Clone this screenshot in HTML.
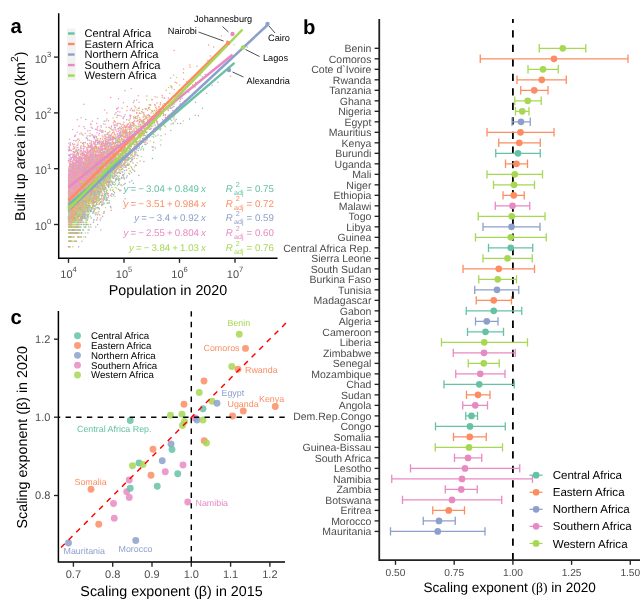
<!DOCTYPE html>
<html lang="en"><head><meta charset="utf-8"><title>Urban scaling in Africa</title>
<style>html,body{margin:0;padding:0;background:#fff}svg{display:block}text{font-family:"Liberation Sans", Arial, Helvetica, sans-serif;text-rendering:geometricPrecision}.tk{fill:#4d4d4d;font-size:11px}.tb{fill:#4d4d4d;font-size:10.5px}.tx{fill:#4d4d4d;font-size:10.2px}.ti{fill:#000;font-size:14.3px}.pl{font-weight:bold;font-size:20.3px;fill:#000}.lg{fill:#000;font-size:11.1px}.an{font-size:9.2px}.ac{font-size:8.9px}.eq{font-size:9.7px}</style></head><body>
<svg width="642" height="600" viewBox="0 0 642 600">
<rect width="642" height="600" fill="#fff"/>
<g id="panel-a">
<g fill="none" stroke-width="15" stroke-linecap="round" opacity="0.85" transform="scale(0.1)">
<path stroke="#66C2A5" d="M768 2004h0M718 2089h0M961 1757h0M905 1788h0M779 1855h0M790 1832h0M817 1892h0M769 1850h0M823 2103h0M1054 1935h0M814 1757h0M753 1828h0M808 1995h0M766 1987h0M1216 1673h0M722 2033h0M834 1915h0M809 1819h0M844 1773h0M1156 1841h0M750 2077h0M757 2131h0M835 1948h0M790 2054h0M696 2089h0M737 1578h0M894 1886h0M720 2033h0M738 2023h0M800 1921h0M1456 1322h0M713 1836h0M1168 1675h0M728 1909h0M831 1875h0M1715 1202h0M709 1832h0M705 1941h0M722 1886h0M789 1948h0M711 2054h0M808 1855h0M1248 1600h0M845 1738h0M1558 1359h0M821 1971h0M742 1963h0M812 2065h0M1296 1444h0M691 1928h0M692 1956h0M797 2077h0M1292 1355h0M1139 1735h0M1076 1623h0M692 1995h0M813 2077h0M1006 1713h0M799 1836h0M1042 1614h0M1091 1788h0M1006 1569h0M1073 1770h0M1102 1845h0M1008 1629h0M708 2131h0M810 2077h0M729 2089h0M698 1845h0M1060 1594h0M1032 1788h0M1164 1784h0M689 2103h0M699 1963h0M946 1855h0M1239 1645h0M797 1773h0M757 1987h0M704 2103h0M750 2054h0M844 1948h0M832 1903h0M1523 1194h0M1140 1770h0M719 1892h0M871 1757h0M772 2023h0M1120 1726h0M1069 1803h0M784 2089h0M800 2245h0M855 1963h0M750 2089h0M1316 1677h0M744 1850h0M739 1735h0M1087 1673h0M776 1935h0M863 1948h0M1057 1832h0M899 1724h0M986 1611h0M978 1788h0M899 2004h0M831 2077h0M807 1956h0M864 2147h0M1103 1780h0M1059 1738h0M974 1909h0M689 2163h0M790 1770h0M1591 1258h0M926 2054h0M761 1948h0M690 2089h0M735 2116h0M706 2147h0M1282 1511h0M691 2467h0M746 2043h0M812 1795h0M1214 1639h0M968 1651h0M853 2054h0M1008 1675h0M767 2004h0M1158 1572h0M781 2023h0M694 2181h0M983 1811h0M1044 1687h0M747 1836h0M765 2043h0M859 1971h0M1066 1662h0M711 2245h0M692 2103h0M904 1832h0M781 1845h0M704 2043h0M964 1780h0"/>
<path stroke="#8DA0CB" d="M835 1490h0M1283 1584h0M1352 1478h0M794 2077h0M1246 1578h0M890 1738h0M928 1971h0M688 2413h0M1052 1956h0M1260 1673h0M809 2065h0M730 2043h0M717 2013h0M1290 1440h0M882 1928h0M807 2201h0M1129 1763h0M1298 1324h0M727 1971h0M1081 1694h0M1106 1645h0M1029 1607h0M843 2033h0M788 2369h0M934 2043h0M936 1697h0M1100 1383h0M1222 1537h0M1319 1807h0M695 1870h0M1320 1225h0M788 1995h0M758 2023h0M907 1979h0M2179 823h0M1239 1845h0M858 2271h0M1204 1620h0M793 1841h0M1170 1609h0M777 2163h0M728 1963h0M774 1915h0M1381 1353h0M781 2023h0M762 2163h0M850 1760h0M1057 1653h0M730 1979h0M943 1979h0M836 2004h0M738 2201h0M836 1948h0M727 1784h0M799 2065h0M781 1987h0M698 2181h0M767 1948h0M970 1763h0M1284 1391h0M1189 1724h0M808 1845h0M793 2077h0M764 1987h0M784 1995h0M971 1892h0M980 1928h0M1199 1732h0M1038 1645h0M933 2033h0M898 1915h0M733 1870h0M1051 1941h0M889 1875h0M1205 1370h0M763 2043h0M834 1897h0M691 1915h0M1060 1971h0M961 1815h0M968 1921h0M691 2271h0M954 1713h0M905 1770h0M741 2089h0M905 1760h0M818 1841h0M1358 1520h0M858 1195h0M831 1841h0M783 1963h0M686 2054h0M703 2163h0M687 2181h0M796 2131h0M1186 1537h0M720 2054h0M1325 1392h0M730 2065h0M708 2163h0M912 2181h0M732 1807h0M966 1811h0M846 2181h0M710 2245h0M736 2181h0M827 2013h0M812 2013h0M806 2103h0M750 2054h0M1251 1987h0M785 1724h0M1148 1707h0M831 2131h0M799 1892h0M952 1928h0M842 1897h0M985 1886h0M777 2077h0M729 2013h0M784 2013h0M773 2077h0M940 1811h0M835 1963h0M1367 1497h0M721 1948h0M757 2181h0M735 2077h0M803 1629h0M919 1845h0M1129 1770h0M774 1987h0M741 1941h0M721 2004h0M927 2131h0M765 2147h0M758 2413h0M736 2163h0M1233 1457h0M1089 1788h0M752 2065h0M984 1915h0M743 1836h0M917 1832h0M774 1828h0M887 1875h0M737 2147h0M714 2033h0M807 2369h0M751 2089h0M860 1597h0M936 1582h0M792 2147h0M773 1860h0M934 2043h0M1340 1702h0M1381 1557h0M1020 1694h0M757 2013h0M1140 1738h0M798 2054h0M819 2013h0M699 1928h0M1109 1726h0M810 1971h0M747 1860h0M879 2054h0M1056 1448h0M757 2299h0M758 1897h0M887 1803h0M697 2013h0M879 1870h0M894 1795h0M749 2413h0M987 1928h0M731 1760h0M880 2054h0M757 2033h0M876 1713h0M853 2004h0M685 2163h0M870 1979h0M785 1941h0M1161 1616h0M709 2181h0M833 2065h0M857 1828h0M703 2147h0M1022 1692h0M705 2299h0M705 2147h0M1272 1760h0M778 2331h0M761 1865h0M727 1707h0M731 1819h0M862 1788h0M820 2013h0M860 2043h0M725 2131h0M1388 1754h0M747 2004h0M785 1948h0M862 1987h0M716 2116h0M863 1875h0M815 2033h0M1377 1556h0M852 1850h0M1088 2033h0M796 2043h0M747 2033h0M1260 1662h0M916 1677h0M882 1788h0M783 1860h0M1984 1157h0M1023 1417h0M903 2004h0M731 2163h0M779 1921h0M887 1870h0M752 1875h0M940 1870h0M737 2299h0M711 2131h0M1476 1199h0M771 2222h0M978 1979h0M722 1664h0M726 2065h0M873 1971h0M926 1897h0M758 1915h0M980 1979h0M1009 1773h0M818 1941h0M1136 1666h0"/>
<path stroke="#A6D854" d="M787 1956h0M1638 1085h0M1447 1218h0M841 2147h0M749 2222h0M715 2201h0M926 1987h0M741 2147h0M913 1915h0M874 1750h0M893 1903h0M716 2089h0M877 1915h0M1078 1705h0M894 1807h0M692 1921h0M738 2299h0M1060 1760h0M813 2163h0M719 2181h0M788 1963h0M885 2013h0M697 2222h0M1216 1497h0M1552 1275h0M1430 1261h0M840 1682h0M761 2245h0M853 1987h0M965 1956h0M730 1689h0M996 1732h0M741 2131h0M876 2077h0M835 2163h0M911 1897h0M909 1963h0M779 1956h0M877 1935h0M745 1870h0M1128 1777h0M939 1582h0M1409 1136h0M1088 1757h0M992 1750h0M701 1935h0M688 2299h0M726 1979h0M687 2033h0M916 1784h0M729 2103h0M1039 1697h0M853 2065h0M770 1941h0M745 2245h0M809 2181h0M782 1956h0M955 1881h0M705 2004h0M710 2116h0M1151 1622h0M751 1823h0M711 1823h0M994 1987h0M1320 1317h0M741 2054h0M917 1875h0M825 1855h0M695 1903h0M695 2103h0M703 2201h0M947 1807h0M1474 1344h0M1001 1586h0M819 1987h0M1120 1605h0M749 2033h0M800 1995h0M751 1995h0M1153 1715h0M708 2245h0M976 1875h0M881 1870h0M689 2004h0M808 1881h0M899 1784h0M808 1653h0M1023 1534h0M1032 1773h0M877 1935h0M864 1995h0M953 1718h0M1100 1584h0M1079 1763h0M975 1811h0M1034 1721h0M741 2004h0M928 1935h0M705 1881h0M853 2004h0M1092 1618h0M779 2023h0M750 1865h0M718 1928h0M1023 1747h0M814 2077h0M875 1828h0M1102 1579h0M692 1979h0M957 1819h0M779 2023h0M725 1754h0M789 2023h0M718 1921h0M744 1979h0M701 2181h0M782 2043h0M1008 1841h0M693 2331h0M1018 1773h0M1025 1815h0M725 2033h0M1541 1236h0M731 2131h0M761 2163h0M1151 1875h0M731 2043h0M883 1651h0M973 1860h0M698 1707h0M882 1963h0M812 2054h0M933 1773h0M876 1915h0M1002 1682h0M798 2033h0M1275 1357h0M760 2077h0M896 1860h0M753 1948h0M843 1823h0M1302 1338h0M1122 1641h0M925 1493h0M789 1860h0M741 2131h0M782 2089h0M1148 1431h0M940 1760h0M934 1803h0M839 2369h0M809 1875h0M694 2369h0M694 1979h0M710 2033h0M803 1807h0M798 2369h0M717 2089h0M1089 1618h0M748 1971h0M744 1971h0M818 1807h0M852 2131h0M1125 1649h0M711 2181h0M987 1855h0M698 1718h0M1106 1724h0M828 2131h0M895 1845h0M732 1956h0M1047 1995h0M733 2089h0M1064 1850h0M1318 1438h0M746 1971h0M882 1699h0M868 1788h0M1023 1828h0M935 1941h0M718 1979h0M849 1941h0M982 1780h0M919 1639h0M771 1971h0M763 2033h0M729 2369h0M868 1956h0M722 1963h0M946 1823h0M876 2201h0M782 1860h0M841 2077h0M1121 1579h0M880 1915h0M781 1935h0M1765 775h0M1025 1832h0M735 2116h0M1124 1411h0M961 1788h0M859 1841h0M794 2023h0M1021 1641h0M986 1788h0M1342 1239h0M829 1921h0M809 1987h0M796 1897h0M711 2103h0M838 1963h0M1030 1881h0M721 2299h0M771 1677h0M1390 1346h0M747 2033h0M1095 1622h0M687 2077h0M1020 1631h0M740 2163h0M1203 1554h0M897 1754h0M720 2222h0M756 2181h0M1173 1760h0M783 2103h0M942 1963h0M981 1886h0M870 1921h0M732 1875h0M1310 1664h0M704 2116h0M750 2054h0M853 1865h0M701 2023h0M838 1921h0M1376 1374h0M967 1707h0M724 1979h0M896 1928h0M808 2201h0M812 1850h0M851 1729h0M991 1732h0M830 2163h0M1139 1575h0M1053 1710h0M837 2077h0M982 1614h0M1502 1409h0M770 2103h0M947 1860h0M966 1732h0M925 1795h0M937 1517h0M692 2299h0M1286 1573h0M1268 1505h0M712 2023h0M719 2271h0M760 1987h0M724 2043h0M1466 999h0M1124 1903h0M1120 1692h0M704 2163h0M727 1928h0M963 1680h0M968 1823h0M742 1836h0M1106 1584h0M1057 1694h0M892 1815h0M853 1892h0M795 1979h0M748 1948h0M792 1892h0M868 1850h0M735 2181h0M739 2116h0M774 2147h0M949 1741h0M1390 1105h0M1066 1770h0M1218 1531h0M713 2369h0M697 2201h0M850 1738h0M933 1705h0M1130 1181h0M815 2043h0M1603 1301h0M1809 1058h0M724 2163h0M1610 1400h0M875 1815h0M1743 1168h0M934 2033h0M1048 1494h0M834 1875h0M818 1941h0M749 1811h0M947 1645h0M1303 1616h0M938 1909h0M969 1875h0M766 1886h0M933 2089h0M937 1921h0M819 1987h0M1165 1586h0M703 2271h0M764 1750h0M905 1995h0M809 1995h0M1036 1892h0M919 1694h0M881 2013h0M819 1795h0M936 1845h0M913 1995h0M744 2222h0M743 2033h0M742 2331h0M875 1832h0M704 1979h0M875 1897h0M915 1865h0M773 2103h0M1020 1589h0M708 2065h0M702 2103h0M959 1963h0M1428 1346h0M860 1995h0M739 2131h0M723 1995h0M738 1956h0M813 1956h0M1097 1546h0M754 2089h0M752 1987h0M868 1909h0M747 1903h0M994 2043h0M703 1845h0M823 1795h0M1018 1828h0M1032 1757h0M1686 876h0M702 1928h0M1049 1473h0M1066 1702h0M812 2116h0M799 1979h0M1346 1468h0M1033 1819h0M865 1909h0M888 1921h0M723 1941h0M952 1777h0M878 1875h0M1047 1576h0M725 1948h0M731 2023h0M706 2023h0M1093 1773h0M1486 1237h0M685 2089h0M855 2131h0M753 1788h0M725 2004h0M1553 1273h0M919 1622h0M969 1979h0M923 2043h0M787 1928h0M740 1995h0M870 1841h0M719 1979h0M1080 1699h0M772 1807h0M960 1987h0M986 1680h0M899 1995h0M723 2013h0M1193 1351h0M688 2023h0M1052 1803h0M1106 1732h0M724 1921h0M955 1738h0M888 1897h0M798 2116h0M1712 871h0M709 2089h0M708 2023h0M862 2054h0M1059 1673h0M956 1865h0M869 1909h0M973 1832h0M717 1941h0M844 1935h0M830 1870h0M859 1803h0M1092 1666h0M805 2181h0M741 2116h0M851 2181h0M1500 1092h0M800 1921h0M920 1819h0M1208 1655h0M863 1921h0M755 1956h0M802 2004h0M763 1928h0M1247 1732h0M687 2147h0M975 1773h0M733 2054h0M791 2013h0M916 1921h0M718 2245h0M1366 1414h0M790 2271h0M825 1935h0M1020 1941h0M839 1875h0M901 1795h0M1280 1649h0M1132 1575h0M833 1948h0M964 1850h0M731 2054h0M770 1995h0M822 1956h0M697 2131h0M685 2033h0M732 1892h0M751 1819h0M822 1921h0M698 1987h0M705 2147h0M959 1687h0M762 1718h0M1266 1397h0M1306 1342h0M800 1928h0M754 1875h0M722 1963h0M702 2089h0M803 2065h0M789 1791h0M751 2299h0M729 1795h0M894 1735h0M796 2023h0M973 1823h0M764 1903h0M798 2271h0M792 2065h0M926 1841h0M1054 1807h0M849 1987h0M755 2116h0M863 1855h0M719 1870h0M874 1773h0M875 1747h0M689 2331h0M717 2043h0M802 1850h0M854 2245h0M992 1493h0M709 2103h0M747 2147h0M762 2116h0M728 2103h0M702 2077h0M915 1928h0M699 2299h0M775 1995h0M830 1979h0M696 2077h0M996 1855h0M838 1828h0M720 2089h0M1918 778h0M926 1811h0M781 2131h0M698 2163h0M1075 1625h0M839 1941h0M748 1903h0M931 1823h0M1424 1421h0M799 1780h0M1020 1569h0M742 2054h0M755 2065h0M1144 1721h0M873 1760h0M1009 1721h0M892 1865h0M994 1855h0M783 1875h0M923 1855h0M1124 1581h0M692 2103h0M952 1836h0M758 1897h0M896 1754h0M690 2181h0M901 1673h0M1172 1597h0M880 1897h0M779 2077h0M858 2103h0M1105 1584h0M704 1860h0M724 1987h0M1197 1799h0M960 1657h0M700 2163h0M1209 1845h0M958 1763h0M1042 1811h0M878 1987h0M860 1579h0M1141 1780h0M704 2163h0M785 1921h0M966 1819h0M779 1971h0M699 1897h0M703 2163h0M904 1935h0M765 2054h0M812 1823h0M708 2065h0M877 1875h0M1299 1284h0M745 2201h0M733 2201h0M765 1892h0M1446 1406h0M747 1963h0M915 1865h0M1146 1523h0M697 1971h0M942 1738h0M718 2043h0M904 1832h0M947 1767h0M689 2299h0M764 2004h0M1034 1799h0M1088 1597h0M1009 1850h0M1006 1865h0M912 1897h0M1060 1705h0M1043 1773h0M986 2043h0M739 1941h0M702 2147h0M719 2116h0M801 1860h0M764 1928h0M786 1909h0M687 2033h0M843 1956h0M794 1971h0M872 1971h0M841 1815h0M708 2077h0M837 1892h0M775 2181h0M743 1995h0M1138 1589h0M765 2131h0M963 1845h0M859 1811h0M852 2054h0M706 1979h0M828 1892h0M747 2103h0M885 2163h0M795 1881h0M832 2004h0M729 2413h0M1264 1699h0M777 2163h0M937 1941h0M847 1702h0M881 2299h0M740 2116h0M1518 994h0M792 2023h0M901 1928h0M854 1860h0M1099 1760h0M929 1609h0M758 1870h0M785 1713h0M807 1971h0M1115 1495h0M860 2004h0M770 1995h0M744 2103h0M688 1915h0M762 2222h0"/>
<path stroke="#FC8D62" d="M823 1823h0M873 1726h0M1018 1468h0M889 1724h0M1628 1049h0M780 1995h0M718 2004h0M1018 1586h0M1384 1241h0M1055 1815h0M1031 1570h0M981 1507h0M939 1699h0M1034 1457h0M813 1915h0M699 1754h0M1197 1903h0M785 1807h0M898 1836h0M897 1747h0M722 1803h0M814 1928h0M934 1892h0M775 1811h0M708 2103h0M726 2043h0M710 1803h0M687 1948h0M746 2004h0M815 1828h0M743 1897h0M969 1713h0M870 2089h0M685 1956h0M1348 1466h0M1377 1435h0M1356 1649h0M1287 1389h0M1085 1207h0M766 1841h0M1021 1445h0M738 1987h0M837 1892h0M783 1881h0M696 1963h0M880 1892h0M1104 1477h0M1029 1832h0M852 1875h0M1160 1567h0M804 1903h0M831 1941h0M895 1915h0M948 1845h0M722 1881h0M932 1662h0M773 2201h0M783 2043h0M705 2077h0M779 2116h0M772 1845h0M886 1881h0M865 1956h0M1289 1202h0M692 1935h0M1199 1464h0M724 2103h0M894 1741h0M928 1485h0M838 1897h0M747 1979h0M991 1687h0M803 1655h0M732 1956h0M1258 1430h0M807 1979h0M1308 1558h0M836 1870h0M779 2004h0M728 1915h0M770 1915h0M780 1729h0M1024 1799h0M735 1948h0M810 1732h0M835 1732h0M885 1971h0M891 1767h0M1010 1539h0M911 1675h0M854 1928h0M729 1903h0M933 1757h0M937 1747h0M815 1780h0M768 1948h0M1406 1192h0M742 1823h0M839 1828h0M871 1705h0M1950 870h0M936 1677h0M1023 1643h0M784 1897h0M720 2116h0M809 2131h0M689 1963h0M937 1680h0M1130 1584h0M891 1865h0M1324 1530h0M939 1702h0M764 1726h0M709 1935h0M758 1995h0M787 1631h0M1676 1168h0M700 2077h0M1149 1455h0M809 2054h0M1113 1612h0M854 1705h0M961 1689h0M804 1721h0M821 1979h0M711 2013h0M999 1718h0M924 1767h0M1166 1614h0M750 1763h0M734 2065h0M864 1903h0M768 1963h0M916 1823h0M881 1915h0M715 2013h0M734 2089h0M695 2116h0M902 1586h0M855 1694h0M794 1841h0M943 1604h0M856 1702h0M1248 1620h0M928 1875h0M810 1928h0M752 1855h0M752 2065h0M784 1963h0M908 1832h0M732 1811h0M781 1909h0M812 1788h0M745 1780h0M896 1788h0M807 1718h0M710 1995h0M1382 1334h0M796 2054h0M835 1892h0M733 1956h0M888 1828h0M786 1987h0M691 1845h0M862 1870h0M825 1892h0M1396 1214h0M1519 1111h0M719 2089h0M763 1662h0M884 1468h0M712 1780h0M750 1909h0M861 1897h0M990 1715h0M692 1948h0M908 1750h0M699 2131h0M1558 1075h0M1002 1623h0M721 1987h0M846 1799h0M1321 1575h0M721 1865h0M779 1870h0M800 1995h0M945 1575h0M803 1671h0M1069 1685h0M703 2116h0M775 1850h0M1097 1575h0M1416 1358h0M796 1747h0M1097 1819h0M720 1897h0M942 1841h0M693 2023h0M737 1971h0M822 1928h0M1192 1500h0M835 1963h0M783 1979h0M768 2023h0M765 1956h0M753 2077h0M708 1903h0M1117 1444h0M835 1941h0M718 2245h0M981 1673h0M703 1956h0M1086 1518h0M827 1987h0M794 1811h0M846 1865h0M690 2004h0M1483 1145h0M968 1657h0M1046 1886h0M772 1956h0M716 1671h0M1076 1754h0M689 2103h0M734 1903h0M708 2043h0M804 2004h0M698 2023h0M926 2033h0M825 1987h0M752 2004h0M697 1811h0M1404 1209h0M769 1928h0M686 2054h0M771 1886h0M1092 1832h0M902 1513h0M902 1807h0M784 1757h0M693 2089h0M704 1886h0M755 2013h0M761 1886h0M797 2116h0M697 2163h0M701 2413h0M933 1657h0M909 1655h0M1028 1956h0M694 2131h0M1189 1841h0M732 1855h0M986 1694h0M782 1948h0M939 1721h0M725 1823h0M988 1732h0M803 1841h0M781 1795h0M933 1828h0M815 1850h0M781 1860h0M749 1860h0M1249 1495h0M695 2201h0M767 1928h0M1050 1767h0M1453 1270h0M967 1699h0M987 1623h0M691 2103h0M759 1870h0M713 1956h0M708 1995h0M782 1795h0M1747 1009h0M1124 1604h0M783 1845h0M1172 1084h0M752 1823h0M1245 1513h0M840 2077h0M730 2013h0M955 1637h0M711 2065h0M691 2004h0M1127 1561h0M783 1823h0M925 1860h0M1159 1535h0M844 1948h0M731 1855h0M1145 1750h0M798 1860h0M1188 1586h0M743 1855h0M805 1705h0M881 1956h0M803 1855h0M1026 1437h0M820 1823h0M825 1767h0M754 1726h0M943 1788h0M1308 1156h0M1144 1375h0M685 2054h0M763 1738h0M694 1836h0M964 1855h0M783 1784h0M715 2077h0M989 1819h0M776 1870h0M770 2147h0M750 2163h0M694 2131h0M738 1850h0M911 1815h0M869 1553h0M743 1875h0M1004 1697h0M1009 1620h0M1033 1841h0M845 2077h0M690 2331h0M863 1715h0M1152 1504h0M832 2147h0M1198 1564h0M1203 1605h0M898 1738h0M824 2163h0M774 1995h0M723 1886h0M686 1875h0M735 1995h0M695 1865h0M731 1828h0M709 2163h0M729 2013h0M692 1909h0M763 1564h0M1064 1557h0M1081 1645h0M834 1633h0M798 1777h0M804 1750h0M946 1921h0M802 1760h0M888 1653h0M713 2245h0M973 1409h0M837 2089h0M839 1754h0M1600 1156h0M879 1763h0M828 1935h0M830 1836h0M693 1909h0M687 1987h0M871 1687h0M699 2054h0M892 1694h0M712 2054h0M687 1987h0M972 1649h0M733 2004h0M756 2131h0M966 1760h0M1599 1089h0M869 1531h0M785 1915h0M1087 1647h0M1139 1692h0M765 2033h0M1111 1600h0M1304 1240h0M1118 1566h0M713 2131h0M1119 1392h0M894 1715h0M1041 1597h0M743 2023h0M874 1735h0M722 1836h0M873 1784h0M1097 1438h0M710 1803h0M1353 1477h0M760 1855h0M826 1609h0M1010 1811h0M710 1788h0M791 1881h0M715 1963h0M691 1963h0M906 1909h0M1049 1702h0M971 1668h0M688 2131h0M897 1747h0M841 1886h0M1021 1629h0M740 1850h0M821 1754h0M879 1605h0M884 1760h0M798 2065h0M818 1637h0M1195 1375h0M857 1645h0M838 1845h0M741 2023h0M686 2077h0M1081 1584h0M811 1995h0M1051 1664h0M974 1651h0M1226 1484h0M820 1935h0M838 1897h0M934 1971h0M757 1963h0M860 1680h0M930 1987h0M736 1721h0M807 1971h0M986 1607h0M1185 1455h0M843 2004h0M909 1803h0M786 1971h0M696 2004h0M875 1860h0M738 1875h0M770 2181h0M813 1828h0M1228 1363h0M1141 1514h0M705 1979h0M762 2054h0M850 1832h0M840 1799h0M809 1915h0M1900 673h0M809 2043h0M855 1763h0M735 1803h0M696 1921h0M714 2116h0M689 1928h0M732 2369h0M1274 1375h0M731 1948h0M825 1841h0M864 1836h0M741 1903h0M859 1860h0M697 1963h0M754 1915h0M857 1935h0M714 2147h0M707 1909h0M728 2147h0M775 2004h0M1112 1480h0M909 1694h0M1294 1295h0M883 1995h0M970 1724h0M751 2103h0M1251 1265h0M932 1865h0M797 1897h0M717 1915h0M831 2033h0M1199 1347h0M1163 1529h0M911 1881h0M697 2147h0M1233 1300h0M737 2054h0M697 2131h0M858 1886h0M1001 1921h0M1225 1302h0M730 1897h0M1128 1581h0M722 2077h0M997 1795h0M703 1660h0M715 2013h0M985 1767h0M772 1855h0M773 1819h0M857 1987h0M751 1744h0M796 1886h0M835 1897h0M875 1819h0M1163 1489h0M967 1558h0M730 2089h0M709 1777h0M767 1941h0M687 1987h0M759 1841h0M1336 1248h0M907 1815h0M787 2116h0M777 1903h0M1311 1508h0M806 2181h0M828 1741h0M989 1750h0M988 1645h0M687 2033h0M1107 1401h0M721 1971h0M914 1897h0M899 1795h0M928 1987h0M695 2413h0M756 2065h0M709 2033h0M1163 1612h0M784 1860h0M926 1726h0M725 1979h0M942 1886h0M840 2013h0M745 1979h0M830 1870h0M884 1777h0M744 2181h0M923 2004h0M1112 1481h0M691 1941h0M874 1707h0M1333 1222h0M1235 1290h0M702 2245h0M1118 1664h0M1018 1735h0M788 2089h0M828 1850h0M1030 1870h0M806 1881h0M692 1935h0M818 1777h0M804 1875h0M785 1741h0M1095 1668h0M780 1738h0M752 2023h0M790 1707h0M690 2131h0M1463 1184h0M714 1875h0M949 1841h0M1076 1699h0M726 2054h0M865 1754h0M739 1892h0M703 2245h0M743 1915h0M1424 1385h0M1181 1412h0M848 1892h0M1228 1327h0M742 2163h0M1292 1479h0M688 2369h0M849 1921h0M1151 1386h0M832 1845h0M781 1979h0M961 2013h0M1009 1855h0M761 2004h0M1035 1702h0M814 1713h0M1268 1430h0M887 1457h0M915 1715h0M892 1715h0M741 2033h0M1286 1274h0M754 1935h0M763 2023h0M881 1750h0M797 1702h0M839 1855h0M747 1963h0M715 2116h0M794 1897h0M789 1828h0M884 1675h0M772 1828h0M970 2004h0M827 1718h0M888 2089h0M1240 1510h0M933 1732h0M911 1799h0M736 1886h0M714 1948h0M762 1909h0M786 1773h0M989 1744h0M1043 1649h0M757 2163h0M956 1655h0M707 1909h0M1507 1051h0M1018 1660h0M745 1941h0M703 2033h0M937 1569h0M693 2201h0M1193 1581h0M965 1811h0M795 2033h0M826 1987h0M968 1763h0M782 1390h0M847 1631h0M917 1870h0M1622 956h0M768 1811h0M752 1971h0M710 1995h0M868 1718h0M804 1892h0M1098 1750h0M1026 1697h0M1025 1484h0M799 1909h0M840 1987h0M853 1635h0M686 1928h0M970 1645h0M855 1741h0M727 1828h0M852 1903h0M1101 1434h0M1752 822h0"/>
<path stroke="#E78AC3" d="M962 1682h0M848 1618h0M1118 1539h0M824 1705h0M692 1909h0M887 1754h0M875 1437h0M837 2033h0M836 1699h0M820 1747h0M717 1729h0M719 1921h0M763 1542h0M1181 1285h0M939 1682h0M692 1865h0M807 1729h0M745 1836h0M852 1770h0M835 1715h0M763 2103h0M751 1855h0M893 1707h0M1059 1710h0M937 1504h0M796 1760h0M1106 1666h0M886 1855h0M686 1689h0M787 1760h0M755 1803h0M936 1687h0M741 2023h0M782 1897h0M765 1886h0M1060 1620h0M806 1633h0M789 1956h0M803 1870h0M819 1784h0M733 1886h0M1003 1754h0M835 1979h0M715 1935h0M767 1836h0M1064 1680h0M738 1921h0M741 1807h0M941 1618h0M956 1594h0M713 1941h0M734 1687h0M764 2054h0M941 1602h0M709 1697h0M771 1860h0M1004 1618h0M750 1892h0M702 2065h0M1332 1437h0M806 1832h0M784 1897h0M730 1935h0M815 1845h0M1011 1710h0M727 1971h0M989 1350h0M732 1490h0M991 1584h0M905 1675h0M952 1439h0M764 1903h0M843 1557h0M1148 1715h0M780 1791h0M701 2077h0M764 1948h0M686 1979h0M811 1836h0M833 1836h0M690 1715h0M737 1828h0M704 1560h0M852 1627h0M730 1971h0M734 2023h0M692 1744h0M738 1699h0M1207 1457h0M1565 1108h0M932 1595h0M757 1941h0M784 1823h0M776 1897h0M810 1655h0M728 2043h0M746 1995h0M789 1841h0M773 1836h0M1180 1448h0M761 1881h0M1484 1275h0M882 1819h0M914 1724h0M695 1892h0M694 1875h0M699 1850h0M821 1865h0M1050 1757h0M749 1744h0M1820 982h0M817 1819h0M1625 1198h0M699 1655h0M1140 1290h0M745 1744h0M768 1627h0M707 1836h0M763 2054h0M767 1595h0M756 1956h0M707 1735h0M862 1987h0M693 2023h0M704 1903h0M948 1687h0M839 1928h0M1169 1694h0M738 1886h0M914 1815h0M1097 1315h0M802 1747h0M1034 1433h0M716 1987h0M801 1948h0M728 1795h0M695 1815h0M936 1941h0M1054 1657h0M1035 1732h0M751 1697h0M706 2043h0M995 1557h0M731 1832h0M825 1602h0M709 2054h0M690 1886h0M912 1754h0M913 1721h0M783 1773h0M752 2033h0M723 1823h0M741 2201h0M1035 1689h0M949 1549h0M692 1795h0M1415 1266h0M954 1592h0M1052 1388h0M816 1836h0M722 1956h0M934 1823h0M889 1578h0M695 1865h0M883 1692h0M1040 1641h0M815 1870h0M968 1921h0M864 1724h0M742 2147h0M738 1589h0M1094 1400h0M794 1747h0M824 1855h0M851 1795h0M1155 1380h0M784 1795h0M783 1921h0M1421 1270h0M958 1620h0M873 1780h0M807 1770h0M725 1735h0M751 1602h0M769 1754h0M743 1995h0M982 1607h0M980 1729h0M753 1747h0M691 1506h0M863 1625h0M1003 1386h0M1047 1604h0M894 1692h0M1188 1614h0M831 1921h0M1255 1506h0M820 1979h0M768 2013h0M930 2033h0M932 1784h0M856 1886h0M851 1651h0M857 1870h0M968 1671h0M695 1875h0M1046 1738h0M849 1660h0M688 1807h0M784 2013h0M756 1921h0M819 1773h0M752 1921h0M807 1788h0M941 1799h0M697 1811h0M731 1718h0M801 1773h0M733 1881h0M1088 1581h0M932 1618h0M687 1956h0M965 1365h0M1029 1519h0M872 1767h0M1551 967h0M686 1803h0M774 2065h0M1327 1592h0M889 1702h0M691 1724h0M798 1784h0M858 1707h0M791 1647h0M1190 1721h0M759 1892h0M894 1668h0M945 1803h0M726 1803h0M1343 1100h0M1011 1702h0M842 1788h0M836 1620h0M1092 1677h0M725 2013h0M1074 1437h0M822 1557h0M1044 1620h0M933 1553h0M1396 1341h0M1004 1726h0M760 1903h0M1278 1269h0M790 1788h0M740 2013h0M1081 1508h0M750 1795h0M783 1903h0M1065 1492h0M928 1780h0M776 1875h0M1268 1319h0M795 1770h0M998 2147h0M861 1702h0M798 1625h0M879 1777h0M715 1845h0M943 1799h0M692 1819h0M1053 1705h0M1169 1489h0M878 1710h0M767 1657h0M854 1855h0M793 1886h0M916 1653h0M729 1773h0M927 1623h0M758 1828h0M973 1620h0M849 2181h0M922 1212h0M793 1773h0M730 2116h0M704 1612h0M764 1609h0M881 1531h0M987 1485h0M823 2013h0M951 1791h0M693 2043h0M902 1995h0M935 2004h0M725 2004h0M1197 1272h0M850 1819h0M719 1710h0M688 1886h0M761 1773h0M782 1721h0M916 1803h0M1246 1589h0M1156 1489h0M776 1754h0M1270 1334h0M905 1803h0M732 1941h0M839 1928h0M1017 1530h0M690 1935h0M919 1803h0M877 1668h0M791 1664h0M794 2023h0M1335 1168h0M795 1815h0M812 1836h0M762 1767h0M810 1732h0M892 1735h0M762 1550h0M793 1865h0M709 1721h0M792 1757h0M698 1865h0M742 1892h0M742 1770h0M739 1697h0M740 1995h0M696 1641h0M1151 1434h0M775 1682h0M837 1971h0M696 1823h0M884 1609h0M785 1718h0M746 1715h0M741 1685h0M779 1747h0M825 1773h0M925 1803h0M721 1744h0M1240 1443h0M767 1897h0M1156 1298h0M716 1860h0M967 1480h0M917 1414h0M731 1803h0M892 1581h0M1137 1378h0M1126 1635h0M1052 1401h0M743 1563h0M729 1909h0M754 1956h0M1132 1526h0M994 1685h0M724 1651h0M716 1935h0M730 1757h0M848 1921h0M782 1641h0M775 1845h0M726 1707h0M746 1865h0M992 1493h0M738 1791h0M1057 1875h0M710 1995h0M933 1791h0M995 1607h0M1227 1600h0M1050 1609h0M896 1819h0M827 1707h0M830 1660h0M1284 1241h0M814 1726h0M901 1576h0M826 1886h0M790 1963h0M1062 1517h0M1312 886h0M1124 1398h0M782 1903h0M863 1845h0M687 2065h0M1052 1493h0M785 2043h0M1141 1537h0M809 1546h0M1256 1545h0M1125 1490h0M1162 1518h0M940 1371h0M1193 1497h0M708 1671h0M911 1576h0M735 2163h0M897 1666h0M1282 1482h0M697 2023h0M733 2004h0M855 1903h0M900 1860h0M766 1757h0M827 2043h0M924 1463h0M1411 1432h0M1843 1010h0M885 1738h0M904 1780h0M995 1557h0M1343 1582h0M981 1855h0M1065 1521h0M1022 1422h0M710 2065h0M697 1784h0M834 1726h0M1017 1439h0M714 1741h0M918 1855h0M816 1875h0M690 1605h0M717 1915h0M709 1979h0M795 1819h0M850 1513h0M978 1622h0M1020 1633h0M762 1870h0M942 1823h0M803 1682h0M1603 1047h0M791 1631h0M1366 1422h0M865 1747h0M685 1811h0M897 1770h0M892 1811h0M778 1850h0M897 1738h0M901 1760h0M1026 1599h0M882 1525h0M926 1718h0M885 1828h0M714 1979h0M1429 1306h0M1178 1526h0M1539 1214h0M987 1682h0M751 1845h0M904 1361h0M875 1569h0M765 1767h0M784 2043h0M724 1791h0M692 1855h0M705 1673h0M799 1791h0M858 1897h0M703 1979h0M695 1666h0M784 1921h0M818 1651h0M708 1987h0M925 1760h0M704 1747h0M710 1718h0M789 1689h0M696 1710h0M812 1747h0M1297 1493h0M692 1892h0M736 1627h0M930 1490h0M987 1710h0M870 1541h0M819 2413h0M812 1177h0M768 1915h0M896 2103h0M995 1604h0M979 1425h0M824 1767h0M1000 1616h0M1001 1657h0M755 2023h0M1040 1515h0M898 1655h0M882 1995h0M762 1865h0M944 1721h0M976 1738h0M719 1987h0M1097 1713h0M751 1803h0M699 1760h0M826 1539h0M754 1705h0M936 1875h0M980 1780h0M926 1655h0M762 1860h0M1209 1418h0M689 1921h0M733 1875h0M797 1668h0M809 1788h0M1108 1605h0M736 1855h0M731 1558h0M1020 1452h0M758 1767h0M846 1791h0M854 1649h0M813 1653h0M949 1689h0M1065 1473h0M899 1692h0M689 1971h0M817 1971h0M792 1653h0M740 1915h0M752 1941h0M747 2089h0M784 1496h0M1199 1477h0M805 1832h0M935 1361h0M1393 1228h0M760 1836h0M1641 981h0M1289 1576h0M893 1647h0M764 1651h0M1128 1549h0M963 1697h0M754 1915h0M768 1784h0M888 1721h0M755 1605h0M1200 1537h0M1383 1284h0M927 1563h0M919 1595h0M806 1713h0M701 1832h0M738 2077h0M798 1941h0M798 1948h0M897 1512h0M699 1855h0M774 1903h0M1730 1171h0M1099 1425h0M780 1454h0M848 1747h0M831 1668h0M1010 1551h0M770 1604h0M724 1963h0M1304 1414h0M857 1795h0M897 1948h0M775 1657h0M745 1760h0M714 1673h0M1396 1133h0M1123 1482h0M796 1718h0M708 2004h0M1130 1576h0M784 1865h0M686 2089h0M913 1747h0M706 1941h0M759 1620h0M1125 1530h0M688 1788h0M892 1721h0M849 1886h0M741 1788h0M1294 1342h0M1035 1705h0M1248 1469h0M805 1811h0M718 1915h0M708 1870h0M1796 1050h0M879 1777h0M1032 1770h0M727 1963h0M910 1685h0M1098 1560h0M767 1682h0M776 1886h0M706 2013h0M1190 1493h0M875 1987h0M753 1865h0M705 2089h0M699 1841h0M1240 1419h0M1055 1599h0M1030 1995h0M871 1836h0M1382 1418h0M881 1682h0M967 1545h0M1331 1355h0M970 1718h0"/>
<path stroke="#66C2A5" d="M781 1995h0M869 1697h0M983 1799h0M918 1928h0M741 2013h0M700 1935h0M750 1941h0M739 2013h0M704 1865h0M776 1956h0M800 2201h0M859 1713h0M701 1979h0M855 1803h0M705 2077h0M764 1971h0M773 2043h0M1444 1391h0M950 1956h0M740 1928h0M969 2004h0M817 1875h0M741 2043h0M779 1971h0M980 1803h0M811 1921h0M752 2089h0M1284 1649h0M761 1828h0M1021 1836h0M698 1850h0M778 1875h0M1352 1490h0M1050 1875h0M741 2116h0M1034 1697h0M737 1956h0M796 2054h0M901 1623h0M1052 1715h0M893 1995h0M898 1886h0M983 1721h0M1120 1875h0M764 1915h0M744 1865h0M688 1987h0M741 2089h0M1132 1647h0M774 1941h0M897 1979h0M775 2043h0M939 1707h0M845 1903h0M745 2065h0M934 1915h0M707 1995h0M707 2201h0M777 1941h0M853 1850h0M1183 1379h0M1012 1666h0M916 1995h0M842 1860h0M1142 1566h0M999 1886h0M874 1657h0M949 1832h0M807 1819h0M803 2163h0M775 2163h0M822 1903h0M1109 1763h0M712 2033h0M697 2023h0M1110 1543h0M1071 1653h0M958 1791h0M752 2116h0M781 2065h0M1407 1414h0M795 2131h0M1041 1512h0M901 1903h0M758 2004h0M1102 1811h0M887 1767h0M812 1956h0M802 1886h0M865 1664h0M836 1892h0M845 2089h0M869 1995h0M952 1903h0M742 2054h0M944 1705h0M709 2116h0M938 1770h0M805 1948h0M1302 1365h0M698 2103h0M878 1860h0M1512 1265h0M724 1850h0M869 1915h0M1179 1660h0M905 1987h0M845 2054h0M1364 1457h0M926 1702h0M728 2054h0M1078 1604h0M919 1865h0M969 1875h0M761 2004h0M942 1886h0M906 1903h0M992 1738h0M821 1915h0M1536 1370h0M741 1987h0M735 2222h0M1506 1331h0M777 1875h0M1122 1754h0M935 1921h0M738 2023h0M786 1915h0M783 1979h0M948 1956h0M816 1875h0M980 1635h0M836 1828h0M861 1928h0M921 1865h0M869 1948h0M1227 1355h0M774 2004h0M777 2004h0M733 1987h0M876 1903h0M774 1948h0"/>
<path stroke="#8DA0CB" d="M704 2043h0M785 2023h0M693 2116h0M796 1881h0M872 1892h0M705 2043h0M834 1799h0M1156 1811h0M771 1767h0M1323 1595h0M1354 1466h0M719 1995h0M828 1903h0M692 1909h0M1006 2023h0M778 1909h0M1086 1677h0M1219 1388h0M829 1788h0M1349 1524h0M698 2116h0M1487 1229h0M727 1928h0M697 2299h0M1037 1744h0M915 1815h0M870 1754h0M1477 1220h0M767 1865h0M888 2054h0M800 1819h0M719 1807h0M886 1892h0M804 2181h0M690 2089h0M975 1870h0M1314 1523h0M734 2163h0M795 1979h0M868 2181h0M1076 2033h0M904 1921h0M688 2033h0M839 1915h0M872 1956h0M1002 1732h0M1047 1639h0M711 2245h0M934 1747h0M827 1995h0M780 2089h0M700 1594h0M1227 1721h0M733 2013h0M756 1897h0M1016 1841h0M1361 1655h0M879 1811h0M706 2103h0M721 2103h0M1163 1729h0M740 1995h0M1268 1197h0M799 1897h0M1567 1221h0M689 2369h0M885 1660h0M1418 1480h0M1192 1828h0M699 2043h0M1299 1875h0M807 2181h0M1011 1921h0M812 2131h0M697 2054h0M714 2201h0M704 1427h0M796 2299h0M701 2131h0M2002 749h0M706 2033h0M712 2116h0M756 2077h0M1243 1631h0M862 2116h0M687 2245h0M1027 2163h0M788 1724h0M1896 1190h0M1738 1064h0M933 2065h0M732 2222h0M700 1979h0M858 2103h0M1132 1784h0M983 1795h0M872 1747h0M813 1697h0M1413 1312h0M720 2116h0M871 1643h0M788 1741h0M964 2043h0M745 1892h0M1070 1685h0M721 2331h0M894 1987h0M712 2077h0M814 2089h0M1342 1008h0M813 2331h0M2025 1082h0M820 1744h0M705 2089h0M988 1948h0M710 1823h0M797 2033h0M729 1832h0M778 2147h0M840 1909h0M1054 1625h0M1003 1921h0M724 1915h0M833 1979h0M851 1995h0M896 1971h0M686 1886h0M1066 1763h0M736 1870h0M970 1886h0M933 1531h0M885 1815h0M909 1780h0M990 1738h0M709 2413h0M692 2222h0M786 1995h0M1021 1780h0M754 2271h0M776 2369h0M750 2103h0M1104 1607h0M797 2222h0M1229 1547h0M1085 1828h0M858 1987h0M1318 1338h0M693 2013h0M1139 1845h0M877 1921h0M958 2147h0M718 2222h0M1006 1855h0M987 1971h0M938 2065h0M800 2065h0M829 2054h0M742 2331h0M939 2131h0M775 2023h0M1088 1566h0M1439 1616h0M708 1979h0M753 2077h0M835 2033h0M862 1379h0M691 1547h0M858 2116h0M817 1738h0M918 1651h0M785 2245h0M730 2131h0M707 1915h0M715 2065h0M997 1995h0M838 2131h0M1020 1875h0M1110 2077h0M711 1845h0M788 1892h0M855 1941h0M720 1823h0M800 1987h0M901 2004h0M767 1935h0M750 2131h0M1248 1519h0M1257 1545h0M856 2103h0M692 2077h0M690 2116h0M751 1557h0M837 2181h0M745 2131h0M730 1915h0M998 1860h0M1350 1379h0M787 1921h0M746 2299h0M1156 1627h0M774 2131h0M715 2181h0M851 1791h0M851 1860h0M717 2299h0M927 2054h0M1039 1767h0M754 2004h0M693 2023h0M881 1795h0M1163 1795h0M818 2043h0M968 1995h0M849 1909h0M813 2089h0M719 2181h0M782 2065h0M867 2245h0M780 1803h0M747 2163h0M928 1870h0M765 1750h0M1024 2043h0M934 1369h0M1206 1732h0M872 2201h0M911 1963h0M772 2065h0M722 1747h0M862 2116h0M760 2331h0M1135 1605h0M719 2201h0M790 1705h0M1105 2065h0M769 1850h0M696 2004h0M834 1948h0"/>
<path stroke="#A6D854" d="M1080 1767h0M815 2222h0M709 2054h0M1119 1297h0M696 2181h0M884 1750h0M836 2299h0M691 2163h0M1281 1486h0M765 1941h0M686 2013h0M717 2013h0M730 2013h0M767 2033h0M1329 1325h0M853 2004h0M1053 1770h0M906 1754h0M832 1875h0M975 1791h0M879 1685h0M750 2147h0M922 1791h0M768 1886h0M1238 1466h0M848 1845h0M1012 2023h0M1235 1454h0M794 2131h0M1496 1179h0M956 1941h0M760 2147h0M721 2054h0M743 2023h0M999 1641h0M1081 1547h0M901 1881h0M696 2131h0M725 1897h0M963 1767h0M782 1784h0M717 2131h0M1229 1314h0M715 1979h0M778 1935h0M1095 1625h0M776 1811h0M1357 1481h0M809 1886h0M1036 1971h0M1016 1685h0M708 2089h0M701 1948h0M1239 1643h0M849 1928h0M770 2033h0M705 2054h0M1035 1664h0M952 1870h0M845 1662h0M731 2103h0M804 2131h0M799 1841h0M981 1618h0M843 2131h0M783 1677h0M828 1979h0M826 1770h0M902 1334h0M844 1784h0M1087 1738h0M877 1855h0M775 1948h0M892 1741h0M738 1995h0M794 1845h0M799 1948h0M802 1915h0M780 1971h0M963 1581h0M1768 939h0M793 1791h0M1157 1668h0M744 2163h0M739 1909h0M696 2271h0M715 1963h0M825 1832h0M802 2065h0M920 1803h0M749 2013h0M1126 1710h0M985 2077h0M1077 1564h0M700 2013h0M993 1815h0M750 2004h0M937 1732h0M819 2077h0M1520 1105h0M731 2023h0M722 2163h0M796 1956h0M713 1928h0M1312 1550h0M714 2089h0M691 2271h0M800 2013h0M803 2054h0M794 1692h0M1038 1692h0M964 2131h0M760 2013h0M770 2065h0M819 1828h0M1575 1247h0M704 2103h0M1111 1490h0M992 1623h0M847 1855h0M905 1558h0M1007 1823h0M1312 1612h0M816 2181h0M719 2131h0M860 2103h0M978 1611h0M765 2271h0M692 2089h0M850 1903h0M789 2116h0M688 2131h0M708 2201h0M705 2033h0M1657 1057h0M764 2089h0M806 2089h0M730 2065h0M942 1832h0M739 1803h0M766 2089h0M971 1881h0M1099 1519h0M784 2131h0M945 1881h0M775 2033h0M1149 1655h0M771 2065h0M760 2222h0M1120 1666h0M783 1921h0M1106 1432h0M911 1903h0M815 1741h0M721 2089h0M1007 1892h0M816 1979h0M1072 1705h0M736 2054h0M861 1770h0M978 1767h0M981 1909h0M738 2271h0M758 2163h0M722 1865h0M759 1935h0M694 2222h0M783 1987h0M901 2033h0M966 1729h0M869 2023h0M1477 1280h0M840 2116h0M917 1445h0M720 1845h0M732 2131h0M817 2147h0M746 1979h0M892 2131h0M1021 1744h0M1119 1707h0M711 2013h0M713 2023h0M1054 1633h0M744 2089h0M997 1633h0M1006 1531h0M822 2043h0M1238 1482h0M972 2077h0M691 2147h0M733 2103h0M807 2222h0M685 2181h0M819 1823h0M1319 1549h0M749 1987h0M716 2077h0M1161 1607h0M708 2201h0M1018 1799h0M888 1718h0M822 1971h0M1221 1391h0M760 2331h0M792 1760h0M894 1921h0M1058 1579h0M1120 1718h0M692 1987h0M731 2089h0M733 2131h0M847 1941h0M799 1788h0M1225 1625h0M804 1653h0M1288 1586h0M783 1979h0M691 2245h0M686 1928h0M862 1803h0M1263 1353h0M832 1903h0M709 2271h0M868 1841h0M1036 1622h0M940 1664h0M863 1627h0M929 1865h0M1070 2033h0M784 2245h0M771 2023h0M836 1836h0M1089 1738h0M719 1850h0M996 1935h0M819 2331h0M1009 1668h0M755 2043h0M961 1750h0M757 2004h0M697 2054h0M976 1614h0M803 2299h0M931 2065h0M717 1903h0M865 1948h0M768 2023h0M931 1841h0M980 1721h0M818 1971h0M709 2222h0M1439 1331h0M1021 1494h0M958 1881h0M702 2013h0M709 2033h0M769 2023h0M872 2201h0M968 1777h0M824 2089h0M2341 448h0M1251 1609h0M830 1841h0M888 1819h0M815 1763h0M1129 1645h0M722 1995h0M733 1956h0M757 2147h0M837 1575h0M1138 1705h0M777 2131h0M844 2065h0M992 1668h0M744 1836h0M909 1886h0M1071 1928h0M830 1865h0M903 1777h0M1015 1754h0M785 1718h0M833 1732h0M1088 1791h0M1326 1566h0M767 2089h0M1114 1643h0M728 2147h0M878 2054h0M713 2201h0M785 2004h0M768 1828h0M709 2065h0M832 1897h0M697 1915h0M1017 1582h0M1019 2043h0M824 1715h0M785 1971h0M770 1903h0M1186 1604h0M779 1892h0M757 2103h0M1190 1356h0M1107 1510h0M987 1763h0M1082 1865h0M709 2181h0M897 2054h0M969 1841h0M714 2089h0M727 1948h0M763 1956h0M1079 1855h0M999 1823h0M696 2222h0M695 2043h0M966 1655h0M795 1699h0M694 2147h0M777 2077h0M990 1881h0M994 1530h0M771 1971h0M704 2043h0M703 2023h0M750 2033h0M738 2089h0M895 1909h0M716 2054h0M783 2245h0M818 1460h0M1203 1499h0M734 2054h0M711 2222h0M735 2147h0M730 2077h0M1339 1564h0M894 1971h0M959 1850h0M844 1726h0M804 1815h0M782 1419h0M801 2222h0M695 2271h0M780 2201h0M738 2271h0M861 2245h0M713 2103h0M1534 1344h0M1143 1850h0M860 1971h0M687 2245h0M985 1855h0M1015 1963h0M718 2201h0M1084 1607h0M699 1995h0M1167 1795h0M1287 1732h0M789 1897h0M889 1915h0M786 2089h0M860 1823h0M761 1718h0M1289 1633h0M821 1823h0M923 1518h0M1000 1524h0M1104 1892h0M688 2077h0M749 2065h0M733 1909h0M778 1875h0M925 1713h0M717 1956h0M688 2033h0M966 1897h0M746 1963h0M696 2245h0M863 1948h0M688 2023h0M1002 1523h0M1144 1538h0M714 1987h0M803 1963h0M768 1963h0M931 1767h0M897 1738h0M1038 1836h0M838 1886h0M877 1832h0M1105 1713h0M714 2013h0M829 1828h0M723 1987h0M1010 1791h0M745 2103h0M876 1836h0M1237 1508h0M957 1963h0M811 1987h0M873 1909h0M844 1915h0M740 2033h0M922 1641h0M690 2147h0M835 1995h0M735 2271h0M1051 1760h0M1015 1699h0M881 1987h0M908 1770h0M1018 1807h0M803 1865h0M1110 1620h0M1011 1799h0M712 1935h0M760 1963h0M734 2013h0M1406 1352h0M709 2089h0M744 2004h0M1519 1243h0M778 1995h0M836 1860h0M847 1921h0M834 1777h0M1144 1604h0M816 2147h0M894 2013h0M926 1791h0M1373 1369h0M826 2043h0M1014 1623h0M830 2043h0M709 2054h0M1411 1231h0M737 2163h0M789 1865h0M701 2077h0M789 2245h0M764 2245h0M877 1921h0M1169 1582h0M708 2163h0M866 1870h0M1066 1815h0M1054 1770h0M915 1881h0M949 2089h0M839 2271h0M790 1855h0M1303 1715h0M827 2054h0M694 1881h0M893 1741h0M840 2065h0M846 2077h0M1036 1406h0M1042 1707h0M949 1819h0M988 1845h0M838 2103h0M689 2369h0M920 1870h0M720 2033h0M811 1935h0M694 2103h0M824 1791h0M723 2116h0M688 2131h0M699 2065h0M762 2033h0M1279 1463h0M1270 1623h0M1236 1505h0M807 2043h0M686 2089h0M780 1819h0M817 1886h0M770 1948h0M688 2089h0M698 2043h0M772 2089h0M877 1956h0M779 2103h0M767 1754h0M785 1963h0M1082 1427h0M978 1850h0M776 1915h0M742 1979h0M947 1886h0M993 1832h0M1442 1259h0M894 1828h0M848 1915h0M727 2163h0M695 1956h0M946 2004h0M1169 1671h0M711 1995h0M765 1956h0M1001 1689h0M815 1948h0M713 2131h0M884 1795h0M1279 1602h0M911 1875h0M915 1784h0M985 1892h0M802 1850h0M713 2043h0M1193 1396h0M702 1963h0M830 1935h0M784 2201h0M730 1979h0M1012 1860h0M757 2065h0M732 2103h0M1021 1607h0M818 1987h0M737 2116h0M1110 1602h0M858 2077h0M1373 1299h0M728 2023h0M739 2147h0M850 1622h0M899 1956h0M802 1979h0M715 2181h0M848 2033h0M968 1519h0M776 2054h0M966 1770h0M723 1995h0M778 2103h0M756 2147h0M850 2054h0M758 2054h0M820 1948h0M878 2147h0M847 1897h0M897 1941h0M1218 1350h0M931 1692h0M720 2271h0M972 1651h0M807 2054h0M924 1788h0M1202 1398h0M797 1979h0M1111 1528h0M747 2033h0M1281 1533h0M764 1948h0M928 1807h0M875 1860h0M826 1664h0M804 2103h0M1370 1186h0M803 1948h0M870 1832h0M1441 1260h0M852 1935h0M753 2065h0M842 2077h0M748 1987h0M790 2181h0M985 1777h0M755 2116h0M742 1979h0M1733 1228h0M764 1815h0M1073 2033h0M1274 1560h0M715 2131h0M701 2013h0M723 2077h0M698 2116h0M792 2054h0M1142 1651h0M716 1941h0M835 1726h0M852 1886h0M843 1881h0M706 1963h0M717 2023h0M1275 1604h0M922 1886h0M795 1870h0M742 2245h0M686 2163h0M722 2245h0M826 1892h0M947 1935h0M1256 1489h0M1251 1655h0M740 2116h0M846 1921h0M892 1788h0M1050 1721h0M713 2116h0M915 1710h0M1277 1417h0M863 2004h0M907 1886h0M978 1823h0M691 2054h0M1068 1507h0M783 1987h0"/>
<path stroke="#FC8D62" d="M898 2054h0M760 2271h0M704 2065h0M808 1836h0M685 2065h0M923 1928h0M975 1738h0M722 1860h0M1068 1376h0M744 1721h0M840 1629h0M1048 1803h0M894 1892h0M833 1819h0M729 2089h0M895 1780h0M709 1948h0M694 2331h0M697 1979h0M1027 1655h0M1208 1359h0M710 2103h0M884 1828h0M909 1653h0M848 1564h0M980 1886h0M994 1735h0M871 1865h0M1020 1685h0M725 1935h0M750 2054h0M907 1647h0M1310 1284h0M813 1897h0M795 1850h0M1165 1455h0M804 1832h0M942 1689h0M732 2147h0M748 1881h0M871 1881h0M933 1694h0M1127 1550h0M1258 1335h0M716 1909h0M951 1689h0M989 1467h0M981 1721h0M1007 1586h0M964 1622h0M705 1897h0M1347 1713h0M879 1836h0M1069 1131h0M730 2043h0M1106 1356h0M794 1707h0M1200 1515h0M730 1886h0M790 1870h0M1099 1710h0M751 1841h0M803 1569h0M864 1819h0M1087 1371h0M885 1770h0M828 1971h0M929 1604h0M924 1732h0M795 1692h0M719 1948h0M1065 1903h0M713 2054h0M1759 959h0M717 1845h0M958 1819h0M839 1915h0M793 1841h0M842 1639h0M1223 1685h0M729 2043h0M1591 1069h0M980 1664h0M771 2013h0M1014 1623h0M715 2023h0M1439 1280h0M758 1705h0M1345 1361h0M720 2222h0M713 2089h0M807 1875h0M964 1602h0M734 1956h0M857 1653h0M714 2023h0M740 2089h0M692 1909h0M799 1881h0M902 1747h0M857 1788h0M794 1979h0M918 1689h0M740 1897h0M792 1941h0M766 2089h0M1336 1240h0M871 1705h0M1218 1350h0M846 1828h0M788 1881h0M1026 1531h0M1083 1627h0M722 1971h0M736 2004h0M784 2043h0M1046 1611h0M810 2054h0M808 1921h0M727 2299h0M761 1963h0M693 1948h0M962 1732h0M1066 1373h0M1142 1331h0M725 1715h0M707 1680h0M1304 1099h0M715 1971h0M905 1677h0M1000 1819h0M800 1995h0M1067 1635h0M1254 1315h0M891 1819h0M791 2103h0M926 1579h0M843 2054h0M752 1903h0M818 1865h0M854 2013h0M1134 1438h0M1141 1587h0M742 1795h0M1030 1653h0M1069 1724h0M760 2089h0M710 2054h0M1348 1063h0M701 2033h0M847 1682h0M742 1870h0M974 1763h0M790 2201h0M798 2089h0M1212 1506h0M1014 1655h0M739 2147h0M707 1956h0M849 1713h0M744 2043h0M889 1784h0M728 1995h0M879 1803h0M1006 1726h0M809 2033h0M1383 1504h0M1020 1855h0M709 1815h0M1224 1277h0M801 1819h0M749 1633h0M1017 1956h0M805 1718h0M747 1525h0M1229 1350h0M812 1935h0M888 1581h0M828 1963h0M890 1881h0M1029 1823h0M738 2103h0M802 2131h0M1054 1314h0M846 1971h0M799 1995h0M857 1909h0M808 2077h0M1471 1400h0M1044 1611h0M1257 1655h0M821 1909h0M1049 1531h0M1311 1518h0M837 1956h0M694 2077h0M799 2131h0M693 1807h0M768 2299h0M701 2004h0M1045 1767h0M1078 1726h0M851 1836h0M716 1995h0M931 1570h0M1084 1467h0M694 1823h0M890 1647h0M838 1903h0M776 1956h0M750 1754h0M1218 1609h0M958 1828h0M798 1963h0M982 1713h0M918 1546h0M711 2131h0M748 2065h0M705 1702h0M807 1948h0M1537 1422h0M882 1777h0M688 2299h0M1083 1729h0M894 2004h0M1227 1754h0M1140 1578h0M936 1744h0M1049 1459h0M756 1979h0M839 1921h0M755 2043h0M902 1987h0M781 1784h0M685 2181h0M921 1543h0M737 2065h0M686 2331h0M1122 1660h0M854 1897h0M844 1767h0M1192 1694h0M711 1915h0M932 1702h0M767 2043h0M898 1732h0M906 2245h0M781 1791h0M987 1671h0M1048 1479h0M711 2054h0M1534 1469h0M887 2033h0M702 2181h0M935 2023h0M1313 1468h0M863 2004h0M841 1479h0M687 1860h0M699 1763h0M1012 1754h0M846 1627h0M707 2054h0M855 1995h0M861 1687h0M875 1811h0M738 2181h0M829 1795h0M728 2103h0M695 1832h0M806 2023h0M852 1512h0M762 1995h0M1114 1350h0M744 1963h0M883 1795h0M744 1892h0M1204 1433h0M750 1935h0M717 1921h0M1209 1561h0M853 1767h0M1343 1260h0M781 2004h0M1340 1417h0M1377 1203h0M819 1956h0M878 1956h0M843 1971h0M750 2004h0M1149 1586h0M824 1956h0M820 2013h0M733 1987h0M1108 1629h0M1022 1791h0M1006 1664h0M933 1702h0M1579 1241h0M829 1928h0M742 2131h0M821 1963h0M711 2004h0M715 2331h0M764 1963h0M1513 1183h0M916 1671h0M855 1928h0M707 1795h0M860 1680h0M739 1520h0M1319 1381h0M838 2054h0M788 1788h0M778 1791h0M702 1903h0M1103 1660h0M1081 1584h0M800 1531h0M915 1528h0M700 2004h0M975 1623h0M1170 1514h0M1201 1422h0M686 2077h0M704 2065h0M774 2023h0M1006 1767h0M971 1474h0M873 1803h0M733 1860h0M749 1823h0M946 1784h0M829 2103h0M719 1956h0M846 1886h0M886 1767h0M703 2103h0M1352 1418h0M1033 1741h0M702 2103h0M718 2245h0M922 1657h0M1051 1668h0M969 1694h0M723 1935h0M723 1948h0M797 1948h0M738 2065h0M932 1760h0M752 2004h0M765 1987h0M720 2043h0M765 1850h0M750 1881h0M776 1828h0M941 1881h0M1150 1724h0M1046 1485h0M842 1811h0M1013 1614h0M982 1625h0M822 1948h0M1259 1531h0M899 1631h0M2023 720h0M1137 1311h0M719 2043h0M705 1909h0M942 1770h0M831 1780h0M714 2131h0M1438 1210h0M699 2033h0M724 2131h0M724 1987h0M720 1828h0M900 1572h0M862 2116h0M923 1865h0M1320 1250h0M994 1423h0M745 1979h0M718 1921h0M786 1773h0M719 1815h0M762 2077h0M1454 1315h0M817 2023h0M693 2065h0M1055 1497h0M732 2043h0M699 1875h0M871 1738h0M962 1641h0M967 2033h0M1021 1308h0M708 2271h0M760 1995h0M1309 1438h0M1136 1398h0M828 1795h0M743 1578h0M760 2065h0M877 1995h0M950 1870h0M941 1576h0M782 1956h0M1165 1463h0M698 1823h0M887 1897h0M703 2013h0M1036 1721h0M1039 1744h0M743 1995h0M796 1971h0M865 1948h0M841 1807h0M777 1979h0M813 1963h0M739 2004h0M725 2299h0M1031 1637h0M882 1767h0M1001 1481h0M1046 1602h0M738 1732h0M819 1675h0M936 1697h0M705 2054h0M1511 1164h0M810 1850h0M1244 1307h0M987 1673h0M1083 1586h0M902 1657h0M722 1928h0M780 1760h0M688 1928h0M780 1760h0M1089 1697h0M934 1941h0M793 1935h0M1899 651h0M946 1815h0M783 1963h0M1202 1534h0M772 1807h0M780 1875h0M694 2054h0M758 1886h0M693 2065h0M838 1042h0M879 1773h0M1181 1680h0M981 2131h0M751 2013h0M720 1928h0M867 1897h0M732 1845h0M888 1921h0M715 1948h0M840 1897h0M754 1747h0M716 1784h0M813 1741h0M1187 1675h0M964 1941h0M826 1909h0M746 2004h0M815 1832h0M722 2089h0M830 2163h0M762 1909h0M689 1897h0M850 1909h0M824 1721h0M1168 1172h0M891 1699h0M773 1963h0M752 2089h0M942 1726h0M1170 1647h0M1143 1655h0M769 1729h0M723 1935h0M693 2033h0M1016 2043h0M697 1928h0M709 1795h0M991 1799h0M1254 1330h0M1078 1581h0M1248 1457h0M687 2013h0M810 1760h0M1069 1525h0M942 1726h0M1298 1429h0M1136 1629h0M741 2116h0M708 2181h0M721 1979h0M816 2054h0M724 2004h0M1001 1542h0M947 1886h0M947 1760h0M765 1870h0M949 1637h0M1494 1216h0M799 1763h0M942 2103h0M1600 1101h0M998 1697h0M1354 1397h0M810 1699h0M761 1819h0M925 1903h0M1007 1459h0M749 1729h0M778 1903h0M843 1807h0M1093 2023h0M846 1760h0M855 1870h0M908 1803h0M999 1635h0M1016 1979h0M2052 746h0M755 1811h0M907 1497h0M701 1886h0M787 2271h0M903 1823h0M1262 1303h0M968 1979h0M690 1987h0M813 1897h0M728 1886h0M1232 1242h0M1243 1498h0M847 1641h0M1367 1133h0M909 1724h0M715 2054h0M995 1726h0M958 1715h0M753 1855h0M1017 1803h0M1402 1402h0M740 1692h0M812 2033h0M720 1956h0M769 1903h0M728 2131h0M1019 1569h0M687 2147h0M775 1865h0M745 1971h0M849 1865h0M1236 1518h0M885 1664h0M708 2116h0M747 1845h0M812 1995h0M876 1948h0M717 1897h0M824 1803h0M709 2077h0M912 1780h0M853 1811h0M938 1836h0M1178 1412h0M883 1614h0M691 2245h0M915 1767h0M857 1692h0M771 1729h0M716 2054h0M843 1948h0M752 1754h0M763 1987h0M1032 1799h0M706 2369h0M790 1595h0M765 1560h0M712 2103h0M876 1841h0M1151 1479h0M727 2147h0M827 1735h0M978 1633h0M925 1614h0M705 2131h0M1370 1099h0M941 1692h0M946 1651h0M960 2013h0M810 2033h0M1020 1710h0M712 1823h0M1957 824h0M750 1928h0M856 1673h0M700 2116h0M757 1815h0M1156 1437h0M1161 1507h0M717 1760h0M1048 1729h0M685 2089h0M1124 1386h0M1289 1685h0M833 1803h0M1110 1664h0M828 1614h0M691 1956h0M1073 1687h0M796 1897h0M954 1707h0M909 1713h0M921 1554h0M859 1675h0M722 2271h0M736 1807h0M1090 1726h0M925 1724h0M1141 1325h0M710 1815h0M732 2271h0M697 2065h0M1100 1500h0M953 1687h0M926 1677h0M822 1870h0M1034 2004h0M1183 1550h0M688 2147h0M789 2023h0M956 1563h0M718 2077h0M1031 1987h0M892 1710h0M687 1935h0M1012 1649h0M804 2131h0M831 1823h0M694 2089h0"/>
<path stroke="#E78AC3" d="M697 1892h0M699 2043h0M893 1546h0M816 1828h0M969 1685h0M809 1512h0M709 2004h0M834 2065h0M712 1971h0M742 1948h0M950 1697h0M853 1799h0M820 1915h0M693 1828h0M809 1671h0M764 1850h0M1178 1115h0M698 2033h0M796 1582h0M875 1850h0M1040 1637h0M994 1633h0M1591 1162h0M724 1832h0M884 1784h0M891 1357h0M912 1948h0M790 1841h0M1085 1550h0M702 1444h0M718 1828h0M1565 1199h0M791 1941h0M872 1715h0M835 1921h0M854 1564h0M790 1897h0M1218 1482h0M1045 1100h0M955 1680h0M745 2023h0M773 1773h0M1027 1480h0M776 1915h0M1173 1250h0M1209 1485h0M960 1551h0M688 1845h0M790 1903h0M688 1948h0M1083 1666h0M728 1815h0M716 1735h0M744 1788h0M698 2222h0M1742 894h0M957 1694h0M797 1870h0M761 1557h0M975 1651h0M718 1897h0M1069 1430h0M759 1788h0M993 1841h0M871 1687h0M927 1618h0M708 1780h0M1360 1394h0M1095 1438h0M921 2023h0M739 1788h0M739 1735h0M702 1855h0M848 1738h0M856 1836h0M888 1715h0M836 1649h0M829 1823h0M758 1685h0M734 1941h0M778 1770h0M1087 1556h0M801 1823h0M1314 1085h0M830 1963h0M770 1979h0M896 1645h0M908 1244h0M696 2089h0M742 1602h0M715 1865h0M734 1721h0M894 1702h0M705 1718h0M1142 1465h0M1009 1612h0M710 2043h0M702 1735h0M688 1754h0M795 1780h0M713 2033h0M1050 1803h0M800 1784h0M690 1987h0M802 1897h0M993 1519h0M862 1735h0M1139 1250h0M771 1452h0M1272 1391h0M1034 1432h0M745 1668h0M1051 1738h0M735 2065h0M727 1928h0M891 1750h0M694 1819h0M721 1738h0M757 1729h0M727 1881h0M711 1909h0M847 1616h0M898 1525h0M1504 1233h0M910 1668h0M810 1541h0M708 1760h0M796 1587h0M932 1590h0M1160 1422h0M738 1979h0M731 1979h0M809 1707h0M1160 1586h0M933 1941h0M816 1705h0M715 1841h0M704 1948h0M719 1948h0M923 1492h0M907 1547h0M777 2077h0M1145 1379h0M808 1726h0M790 1803h0M774 1886h0M757 1811h0M856 1763h0M1066 1417h0M852 1819h0M747 1995h0M906 1689h0M808 1799h0M711 1860h0M763 1760h0M795 1770h0M723 2033h0M1564 1100h0M736 1780h0M920 1744h0M817 1581h0M789 1815h0M760 1875h0M1217 1556h0M925 1721h0M793 1855h0M993 1590h0M830 1713h0M713 1870h0M813 1767h0M723 1845h0M1060 1724h0M766 1541h0M837 1692h0M717 2089h0M748 1713h0M922 1819h0M1041 1865h0M773 1909h0M940 1498h0M939 1757h0M1176 1550h0M1078 1519h0M752 1915h0M720 1726h0M1270 1487h0M767 1860h0M700 1795h0M1283 1454h0M774 1657h0M708 1841h0M808 1855h0M808 1589h0M844 1541h0M795 1750h0M886 1666h0M1407 1250h0M1029 1563h0M949 1799h0M921 1569h0M744 1788h0M1289 1432h0M961 1589h0M1769 1077h0M999 1563h0M719 1841h0M1060 1651h0M842 1941h0M814 1702h0M743 1657h0M789 1807h0M795 1767h0M1180 1426h0M878 1307h0M1054 1436h0M901 1770h0M903 1921h0M1197 1418h0M748 1850h0M791 2077h0M761 1651h0M1135 1477h0M750 1651h0M733 1935h0M772 1763h0M1513 1188h0M788 1807h0M707 1741h0M918 1729h0M997 1662h0M705 1832h0M746 1799h0M931 1589h0M1177 1339h0M1074 1530h0M880 1721h0M837 1921h0M799 1744h0M714 1892h0M709 1508h0M1107 1288h0M1492 1048h0M909 1750h0M995 1597h0M1057 1453h0M805 1841h0M1139 1597h0M963 1631h0M1083 1479h0M686 1909h0M702 1855h0M715 1921h0M862 1561h0M823 2033h0M912 1273h0M903 1773h0M995 1732h0M1134 1227h0M725 1865h0M856 1897h0M871 1627h0M953 1599h0M938 1567h0M938 1732h0M943 1557h0M1027 1721h0M989 1599h0M819 1639h0M698 1760h0M764 1784h0M982 1560h0M727 1909h0M838 1620h0M939 1881h0M704 2054h0M847 1803h0M686 1508h0M827 1721h0M1024 1501h0M979 1721h0M920 1451h0M839 1715h0M1035 1599h0M802 1777h0M1191 1155h0M861 1828h0M736 1941h0M880 1537h0M967 1233h0M1939 803h0M1102 1462h0M901 1799h0M1364 1285h0M1001 1489h0M855 1828h0M802 1584h0M986 1657h0M1056 1666h0M1306 1464h0M687 1741h0M1362 1213h0M872 1534h0M1106 1470h0M743 1845h0M731 1909h0M691 1735h0M740 1641h0M744 1543h0M884 1773h0M705 2163h0M902 1524h0M688 1860h0M730 1987h0M690 2467h0M718 1542h0M797 1777h0M685 1784h0M1109 1612h0M964 1682h0M728 2181h0M692 1744h0M1001 1668h0M725 2089h0M1062 1780h0M814 2054h0M739 1715h0M716 1841h0M723 1850h0M706 2201h0M868 1763h0M714 1803h0M755 1855h0M893 1757h0M691 1892h0M846 2181h0M946 1807h0M769 1845h0M722 1995h0M773 1799h0M704 1875h0M984 1542h0M739 1732h0M686 1881h0M715 1995h0M1487 1152h0M770 2033h0M695 1784h0M1088 1549h0M692 1865h0M1198 1353h0M1053 1360h0M791 1692h0M758 1815h0M842 1680h0M729 1819h0M712 1777h0M800 1892h0M844 1956h0M732 1875h0M716 1928h0M837 1935h0M1161 1404h0M777 1956h0M706 1702h0M873 1897h0M1138 1823h0M1574 1231h0M738 1589h0M1229 1572h0M690 1875h0M1025 1841h0M889 1832h0M1382 1443h0M739 1687h0M1260 1379h0M813 1590h0M904 1707h0M736 1903h0M835 1649h0M726 2023h0M770 1520h0M731 1788h0M739 1897h0M1415 1212h0M928 1547h0M879 1579h0M911 1702h0M715 1744h0M898 1845h0M711 1578h0M931 1780h0M1212 1471h0M1003 1788h0M729 2023h0M958 1403h0M806 1692h0M947 1645h0M902 1697h0M1259 1594h0M850 1767h0M698 2043h0M967 1705h0M957 1422h0M810 1841h0M1403 1270h0M940 1573h0M847 2023h0M690 1995h0M738 1903h0M1155 1390h0M733 1724h0M744 1948h0M880 1948h0M885 1795h0M1125 1499h0M1341 1560h0M889 1609h0M1477 1197h0M855 1780h0M786 1855h0M811 2181h0M852 1760h0M788 1819h0M847 1685h0M804 1948h0M908 1587h0M710 1666h0M1025 1815h0M1548 1200h0M896 1850h0M842 1633h0M690 1773h0M960 1909h0M735 1754h0M710 1928h0M695 1909h0M688 1948h0M730 1643h0M951 1865h0M765 1819h0M858 1760h0M715 1928h0M737 1760h0M701 1767h0M832 1855h0M964 1687h0M687 2004h0M991 1547h0M776 1791h0M1067 1788h0M755 1713h0M736 1662h0M697 1815h0M858 1995h0M747 1928h0M1711 1239h0M776 1921h0M707 1915h0M1159 1707h0M1008 1625h0M860 1956h0M834 1738h0M1074 1662h0M1345 1358h0M1217 1594h0M780 1850h0M772 1807h0M911 1666h0M917 1795h0M734 1963h0M773 1892h0M1143 1460h0M706 1823h0M1126 1547h0M1012 1481h0M723 1841h0M935 1546h0M1068 1600h0M734 1784h0M726 1666h0M754 1735h0M737 1921h0M1769 1081h0M763 1935h0M973 1281h0M807 1664h0M890 1590h0M772 1841h0M1093 1449h0M722 1811h0M944 1795h0M692 1860h0M957 1692h0M858 1732h0M719 2089h0M844 1735h0M733 1710h0M723 1948h0M771 1323h0M956 1600h0M858 1860h0M1110 1477h0M886 1732h0M704 1855h0M717 1909h0M710 1948h0M869 1715h0M993 1828h0M832 1744h0M745 1721h0M721 1664h0M908 1744h0M872 1622h0M1166 1600h0M717 2033h0M982 1662h0M835 2222h0M1126 1545h0M778 1477h0M814 1956h0M688 1436h0M850 1903h0M686 1850h0M925 1767h0M767 1935h0M727 1892h0M829 1773h0M1151 1459h0M1267 1320h0M829 1770h0M1396 1410h0M1108 1543h0M1028 1718h0M738 1600h0M1629 1084h0M701 1623h0M1049 1780h0M1169 1445h0M843 1718h0M898 1673h0M773 1870h0M911 1612h0M759 1735h0M698 1971h0M716 2077h0M797 1721h0M725 2004h0M905 1754h0M751 1666h0M739 1780h0M685 1979h0M782 1581h0M799 1807h0M814 1903h0M783 1915h0M1368 1304h0M1021 1479h0M1013 1726h0M894 1915h0M1019 1886h0M978 1184h0M839 2004h0M2306 763h0M1050 1476h0M839 1803h0M742 1472h0M778 1395h0M1723 1073h0M720 1948h0M1263 1348h0M1158 1791h0M706 1747h0M766 1518h0M767 1641h0M773 1811h0M710 1892h0M912 1777h0M1082 1677h0M768 1757h0M733 2163h0M1021 1724h0M1048 1607h0M704 1915h0M1307 1397h0M1346 1442h0M879 1614h0M700 1886h0M1379 1295h0M854 1600h0M694 1757h0M752 1811h0M1479 1290h0M764 1941h0M1190 1303h0M701 1760h0M716 1860h0M884 1886h0M1068 1556h0M755 1795h0M1806 1037h0M1382 1153h0M802 1815h0M891 1845h0M724 1870h0M777 1609h0M793 1897h0M841 1750h0M720 1963h0M1090 1680h0M1102 1352h0M809 1623h0M800 1726h0M1245 1637h0M802 1763h0M899 1625h0M838 1784h0"/>
<path stroke="#66C2A5" d="M693 1995h0M852 1832h0M693 2023h0M724 1836h0M873 1770h0M773 1909h0M690 2147h0M754 1963h0M822 2033h0M906 1845h0M689 2043h0M834 1979h0M951 2054h0M836 1903h0M1273 1653h0M726 2103h0M775 2116h0M778 1677h0M719 1956h0M1066 1643h0M928 1832h0M1266 1597h0M828 1921h0M1065 1687h0M714 1987h0M705 1987h0M1083 1578h0M854 2054h0M821 1971h0M764 1987h0M1951 1153h0M820 2033h0M753 1811h0M780 2077h0M1081 1823h0M1046 1744h0M878 1823h0M861 1637h0M833 1836h0M1080 1850h0M912 1780h0M697 2222h0M718 2077h0M1730 1238h0M804 1928h0M1006 1682h0M883 1903h0M1079 1551h0M934 1590h0M897 1860h0M707 2147h0M705 2065h0M1012 1666h0M768 2131h0M729 2023h0M880 1971h0M746 2163h0M900 1941h0M843 1729h0M751 2077h0M688 1881h0M971 1641h0M702 1948h0M855 1692h0M729 1956h0M1011 1855h0M708 2043h0M946 1870h0M903 1702h0M1163 1424h0M978 1915h0M940 1760h0M802 2013h0M1346 1339h0M760 2245h0M1242 1401h0M1177 1513h0M773 1971h0M869 2004h0M840 1807h0M1043 1694h0M864 2013h0M1259 1512h0M1230 1662h0M852 1757h0M1609 1291h0M972 2023h0M856 1995h0M830 1915h0M892 1921h0M880 1815h0M721 2116h0M1152 1614h0M1017 1551h0M943 1915h0M745 2077h0M699 1935h0M727 2089h0M1001 1773h0M1059 1799h0M716 1979h0M757 2201h0M729 1928h0M728 2299h0M1423 1462h0M775 1855h0M729 1815h0M864 1886h0M698 2089h0M1309 1439h0M718 1721h0M769 2089h0M862 1763h0M795 2033h0M773 2222h0M1106 1643h0M798 2043h0M872 1995h0M740 2181h0M815 2013h0M1775 1236h0M727 1738h0M693 1841h0M1408 1498h0M1446 1353h0M1436 1489h0M955 1573h0M746 2043h0M863 1881h0M777 1881h0M1151 1747h0M824 1870h0M1027 1699h0M946 1466h0M718 1886h0M768 2023h0M775 2065h0M811 1971h0M1284 1592h0M1152 1422h0M878 1956h0M1471 1274h0"/>
<path stroke="#8DA0CB" d="M783 2065h0M823 1724h0M799 1881h0M825 2089h0M959 1697h0M792 1860h0M734 2103h0M1271 1645h0M835 1941h0M939 2116h0M1048 1616h0M692 1956h0M858 1865h0M1381 1483h0M1393 1079h0M876 2116h0M926 1928h0M832 2065h0M710 2065h0M740 1892h0M769 2054h0M747 1360h0M689 1760h0M736 2147h0M835 2089h0M816 1941h0M780 2147h0M756 2331h0M695 2245h0M968 1694h0M926 1595h0M776 1897h0M1097 1823h0M698 2023h0M926 2033h0M1006 1836h0M1295 1819h0M824 2103h0M844 1795h0M897 1713h0M686 1791h0M1027 1702h0M908 2116h0M1245 1707h0M795 2023h0M1165 1545h0M750 2089h0M912 2089h0M828 2023h0M689 2065h0M981 1427h0M981 1611h0M689 2077h0M968 2201h0M857 1909h0M1644 1096h0M1077 1828h0M693 2147h0M794 2147h0M835 1995h0M896 1803h0M798 1763h0M1010 1823h0M775 1738h0M849 2023h0M1003 2201h0M693 1948h0M795 2103h0M1751 1211h0M701 2331h0M709 1987h0M918 1987h0M875 2023h0M711 1726h0M693 2116h0M1089 1614h0M760 2147h0M850 2131h0M972 1819h0M837 1791h0M794 2201h0M709 2245h0M714 1963h0M837 2054h0M712 2077h0M1120 1545h0M708 2103h0M685 2467h0M686 2089h0M718 2181h0M1305 1526h0M1266 1336h0M771 2299h0M690 2033h0M865 1715h0M780 2299h0M777 1903h0M1451 1444h0M996 1897h0M1111 1855h0M987 1909h0M896 1875h0M715 2013h0M1076 1777h0M906 1633h0M1136 1643h0M1074 1572h0M695 2245h0M771 2299h0M716 2089h0M877 2054h0M871 2054h0M829 1870h0M952 1903h0M1121 1729h0M750 1860h0M1071 1517h0M688 1823h0M784 2033h0M888 1995h0M780 1995h0M781 2023h0M801 1963h0M917 1845h0M791 2077h0M1889 921h0M1034 2131h0M788 2033h0M784 2033h0M916 2013h0M1025 1702h0M904 1915h0M698 2413h0M778 2131h0M753 2065h0M1072 1788h0M834 1987h0M751 2089h0M1030 1320h0M936 1928h0M710 1841h0M737 2222h0M733 2181h0M792 2089h0M763 1963h0M690 2245h0M738 2004h0M760 1921h0M1805 1236h0M987 1767h0M703 2103h0M800 2054h0M756 2023h0M709 1963h0M1265 1326h0M778 2116h0M949 1860h0M1351 1549h0M928 2065h0M1064 1732h0M718 2077h0M769 1724h0M939 2201h0M817 1995h0M943 2054h0M797 2131h0M870 2004h0M906 1935h0M1160 1127h0M823 2023h0M705 2369h0M807 2271h0M814 1692h0M717 2065h0M1024 1799h0M733 2131h0M690 1702h0M750 1892h0M946 1373h0M732 1836h0M691 1948h0M833 2245h0M807 1875h0M1146 1381h0M886 2033h0M711 2131h0M1012 1433h0M1052 1870h0M798 2163h0M690 2413h0M1799 1013h0M1072 1611h0M1194 1379h0M726 2065h0M813 1956h0M717 2181h0M737 2222h0M1158 1561h0M1090 1807h0M757 2201h0M939 1732h0M699 1956h0M898 1750h0M873 2065h0M936 1760h0M942 1682h0M721 2065h0M917 1687h0M687 2103h0M1196 1651h0M829 1941h0M1430 1391h0M1093 1819h0M947 1637h0M688 1892h0M847 1860h0M738 2077h0M915 1477h0M762 2331h0M741 2147h0M758 1915h0M692 2116h0M1042 1212h0M697 2331h0M769 2065h0M825 2013h0M957 1881h0M750 1928h0M963 1625h0M746 1860h0M707 2089h0M933 2222h0M874 2116h0M822 2163h0M1050 1567h0M700 2201h0M964 1881h0M841 1760h0"/>
<path stroke="#A6D854" d="M936 1788h0M1416 1365h0M773 1892h0M876 2054h0M754 1892h0M730 2131h0M995 1795h0M833 1694h0M883 1928h0M721 2271h0M755 2013h0M1061 1750h0M718 1921h0M687 2222h0M899 1795h0M692 2369h0M697 2131h0M728 2065h0M942 1832h0M757 2013h0M872 2023h0M712 2163h0M761 1469h0M743 1956h0M893 1860h0M815 1750h0M775 1819h0M1154 1612h0M878 1721h0M894 1881h0M902 1875h0M785 1971h0M779 1897h0M729 2065h0M832 1987h0M1152 1643h0M803 1850h0M796 2033h0M762 1475h0M896 1750h0M783 2054h0M819 1909h0M708 2089h0M894 2023h0M889 1948h0M798 1799h0M707 2413h0M841 2033h0M758 1928h0M870 1832h0M966 1865h0M1051 1666h0M1540 1210h0M984 1995h0M753 1921h0M714 2116h0M818 1823h0M750 2033h0M769 2103h0M1225 1595h0M933 1735h0M760 1979h0M703 2131h0M806 1791h0M685 2299h0M755 1995h0M730 2033h0M686 2413h0M843 1865h0M791 2089h0M1059 1524h0M743 2331h0M759 1903h0M899 1881h0M1258 1558h0M901 1875h0M761 2181h0M871 1860h0M1309 1323h0M766 2271h0M899 1860h0M942 1791h0M791 2116h0M831 2033h0M758 2065h0M789 2201h0M758 2065h0M1008 1795h0M824 1828h0M975 1609h0M1196 1582h0M801 2023h0M883 1754h0M882 1715h0M711 2077h0M719 2054h0M1149 1963h0M765 1860h0M795 2369h0M701 2065h0M788 1850h0M761 1971h0M838 2043h0M693 2131h0M736 1987h0M1383 1368h0M728 1892h0M712 2413h0M806 2013h0M898 1897h0M704 2116h0M770 1963h0M839 1909h0M741 1956h0M729 2181h0M900 1718h0M795 1995h0M777 1971h0M1581 1139h0M1042 1892h0M697 2023h0M756 1948h0M863 1881h0M849 1865h0M842 1921h0M909 1407h0M955 2131h0M853 2013h0M782 2131h0M789 1715h0M702 2089h0M756 2023h0M1040 1881h0M917 1963h0M720 1823h0M870 2004h0M929 1850h0M754 1578h0M888 2043h0M853 1780h0M1343 1498h0M1177 1587h0M796 2033h0M726 1845h0M1324 1382h0M1233 1597h0M851 2004h0M1172 1152h0M928 1754h0M762 1909h0M740 2131h0M697 2054h0M914 1995h0M817 1935h0M861 1941h0M686 2245h0M838 1815h0M838 1886h0M1099 1685h0M775 1886h0M698 2103h0M971 1773h0M752 1987h0M747 1987h0M702 2163h0M733 2089h0M1400 1340h0M1301 1586h0M924 2077h0M806 2116h0M708 2245h0M705 2033h0M772 1551h0M1244 1373h0M1062 1841h0M781 2147h0M821 1915h0M720 2033h0M1495 1075h0M689 2163h0M901 1611h0M973 1815h0M799 1928h0M1587 1264h0M742 1987h0M889 2103h0M852 1770h0M1030 1649h0M694 2181h0M1059 1680h0M803 2023h0M726 1987h0M763 2089h0M1281 1541h0M755 2181h0M1042 1750h0M1152 1373h0M823 2065h0M701 2054h0M704 2181h0M724 1909h0M845 1832h0M855 1909h0M862 1832h0M781 2222h0M823 1860h0M879 2245h0M716 2004h0M714 1915h0M686 2299h0M739 2103h0M850 1897h0M714 2116h0M748 2413h0M1143 1823h0M1165 1595h0M773 2054h0M1040 1777h0M844 1963h0M1060 1770h0M776 2201h0M794 1886h0M1009 1892h0M1212 1718h0M962 1811h0M970 1777h0M762 1995h0M863 1892h0M852 1897h0M685 2271h0M966 1651h0M1253 1537h0M871 1760h0M707 1892h0M1833 1210h0M807 1738h0M767 2013h0M740 1897h0M936 1795h0M753 1865h0M939 1627h0M785 2089h0M716 2089h0M1005 1850h0M974 1635h0M738 1881h0M712 2147h0M731 1757h0M1005 1836h0M790 1788h0M1436 1139h0M710 2023h0M1247 1405h0M773 1979h0M808 2271h0M1158 1671h0M773 2054h0M732 1841h0M1345 1541h0M861 2004h0M725 2013h0M858 1921h0M741 2033h0M1148 1645h0M765 1836h0M734 1870h0M714 2147h0M685 2331h0M879 1870h0M982 1892h0M855 1875h0M1046 1707h0M744 1963h0M699 2245h0M775 2147h0M745 1915h0M759 2033h0M696 2222h0M685 2299h0M810 1875h0M1048 1892h0M741 1979h0M1149 1724h0M796 1941h0M820 1850h0M896 1710h0M1367 1485h0M914 1921h0M739 2163h0M852 1915h0M1155 1673h0M823 2054h0M739 2163h0M1154 1541h0M768 1915h0M932 1845h0M874 1757h0M809 2245h0M690 2023h0M712 2089h0M737 2089h0M813 2065h0M762 2033h0M830 1836h0M871 1935h0M693 2103h0M1306 1181h0M869 2004h0M1026 1845h0M975 1744h0M740 1855h0M724 1963h0M849 1741h0M900 1799h0M1002 1724h0M842 1770h0M705 1928h0M1395 1403h0M844 1643h0M1177 1660h0M704 1855h0M704 1979h0M763 2077h0M1057 1699h0M1148 1694h0M971 1860h0M1274 1576h0M710 1928h0M1047 1662h0M688 2077h0M738 1928h0M868 1836h0M822 1850h0M865 1915h0M747 2043h0M688 2089h0M773 1935h0M796 2331h0M854 1897h0M1123 1941h0M824 2043h0M1462 1378h0M735 1897h0M1062 1641h0M1032 1788h0M998 1828h0M749 2013h0M710 2065h0M1173 1855h0M909 1903h0M706 2222h0M1243 1329h0M721 2013h0M703 1971h0M685 1987h0M773 2163h0M812 1738h0M702 2222h0M1084 1673h0M1272 1530h0M724 1956h0M732 1971h0M811 1941h0M1429 1323h0M1245 1415h0M688 1995h0M1301 1707h0M754 2271h0M786 1767h0M793 2043h0M740 2331h0M872 1928h0M948 1897h0M862 2077h0M1037 1865h0M785 1870h0M812 2004h0M949 1870h0M895 1791h0M899 1828h0M687 2013h0M910 1828h0M826 1921h0M1072 1784h0M995 1589h0M1058 1673h0M1002 1517h0M757 2201h0M706 2131h0M731 2201h0M948 1754h0M910 2033h0M909 1875h0M797 1928h0M791 1784h0M690 2201h0M817 1850h0M784 2089h0M749 1971h0M751 2033h0M903 2065h0M908 1987h0M903 1909h0M1262 1448h0M687 2201h0M1190 1428h0M752 2116h0M786 2369h0M805 1963h0M891 1845h0M833 1881h0M1020 1655h0M769 1948h0M1229 1594h0M785 2089h0M760 1995h0M748 2181h0M730 2147h0M716 2004h0M746 2089h0M864 1928h0M724 1892h0M777 1534h0M770 2089h0M764 2181h0M873 2004h0M1007 1828h0M692 2131h0M938 1915h0M1224 1529h0M947 1948h0M969 1807h0M914 1845h0M780 2245h0M750 2054h0M722 2201h0M882 2163h0M695 2163h0M1325 1492h0M806 1823h0M942 1832h0M696 1987h0M782 1881h0M913 1971h0M750 2103h0M805 1680h0M717 2043h0M943 2004h0M719 2023h0M959 1870h0M895 1987h0M768 1948h0M836 1995h0M722 2245h0M1307 1277h0M699 2131h0M852 1850h0M991 1546h0M849 1811h0M759 2023h0M947 1673h0M835 2181h0M809 2201h0M748 2163h0M1364 1293h0M1436 1423h0M831 1352h0M1847 902h0M905 1815h0M740 2004h0M702 2077h0M780 2103h0M757 1777h0M813 1956h0M947 1897h0M773 2004h0M787 1941h0M730 2004h0M790 1845h0M1383 1414h0M821 1860h0M1370 1586h0M1111 1677h0M974 1815h0M884 1799h0M897 1892h0M723 2077h0M694 2033h0M769 2103h0M775 2013h0M712 2089h0M1004 1735h0M853 2331h0M821 1897h0M698 1963h0M918 1971h0M716 2222h0M690 2054h0M772 1956h0M868 1860h0M724 1897h0M867 1710h0M756 2116h0M830 1791h0M979 1677h0M851 1995h0M1063 1436h0M1027 1647h0M840 1956h0M856 2103h0M778 2299h0M741 2023h0M893 1855h0M822 1948h0M1104 1903h0M748 1948h0M763 2163h0M885 1788h0M899 1710h0M749 2054h0M776 1928h0M747 2054h0M734 2116h0M778 2065h0M686 2004h0M827 1860h0M797 2004h0M725 2131h0M958 2054h0M934 1757h0M970 1660h0M1142 1445h0M891 1941h0M754 2163h0M732 2077h0M865 1579h0M855 1855h0M721 2299h0M996 1811h0M712 2013h0M1280 1409h0M696 2116h0M758 1995h0M1073 1668h0M759 1881h0M713 2245h0M1042 1836h0M706 2147h0M849 2181h0M894 1875h0M708 2163h0M777 1921h0M1043 1971h0M708 2131h0M954 1645h0M770 2103h0M698 2147h0M811 2043h0M1126 1589h0M753 1832h0M743 2131h0M826 1666h0M727 2013h0M919 1841h0M1468 1395h0M767 1915h0M1192 1517h0M703 2103h0M768 2043h0M975 1784h0M909 1795h0M721 2054h0M1148 1539h0M707 2023h0M848 2004h0M849 2004h0M1047 1915h0M814 2163h0M1152 1581h0M738 1823h0M838 1881h0M724 1788h0M745 1599h0M742 2089h0M1020 1819h0M921 2089h0M1302 1426h0M750 2201h0M1074 1647h0M802 1815h0M1100 1576h0M925 1845h0M1433 1213h0M866 1892h0M778 1897h0M1177 1738h0M851 1865h0M697 1860h0M1082 1423h0M936 1903h0M749 1995h0M840 1921h0M758 2163h0M805 1811h0M1065 1915h0M755 1979h0M708 2077h0M808 1979h0M863 1987h0M822 1909h0M897 1963h0M686 2054h0M747 2033h0M702 2467h0"/>
<path stroke="#FC8D62" d="M1079 1327h0M1300 1190h0M773 1811h0M712 1763h0M813 1881h0M780 1525h0M988 1828h0M764 1963h0M765 1921h0M981 1903h0M715 1865h0M715 2023h0M698 2201h0M895 1903h0M731 2089h0M723 1865h0M735 1697h0M701 2163h0M921 1763h0M743 1886h0M856 2147h0M777 1948h0M963 1377h0M1067 1625h0M845 2131h0M691 1979h0M761 1979h0M718 1855h0M990 1675h0M712 2065h0M962 1832h0M1299 1328h0M890 1788h0M712 2103h0M757 1963h0M742 1784h0M1171 1407h0M923 1649h0M700 2033h0M891 1767h0M740 2163h0M914 1828h0M840 1795h0M754 1860h0M1063 1602h0M709 1881h0M1083 1935h0M1071 1449h0M745 2004h0M872 2023h0M738 2147h0M1193 1586h0M818 1750h0M704 1897h0M807 1892h0M777 1909h0M691 1832h0M722 1865h0M1120 1744h0M943 1427h0M787 1935h0M1673 1183h0M753 1832h0M793 2147h0M952 1713h0M1092 1773h0M873 1707h0M1104 1647h0M1418 1282h0M710 1892h0M865 1897h0M727 1971h0M698 2054h0M793 1721h0M867 1589h0M951 1799h0M872 1724h0M735 2077h0M772 1971h0M803 1685h0M732 2222h0M785 1979h0M735 1963h0M1340 1398h0M691 2103h0M924 1815h0M1056 1408h0M1652 1145h0M935 1987h0M731 1935h0M924 1350h0M732 1979h0M745 2147h0M790 2023h0M1492 1167h0M851 1467h0M790 1620h0M946 1799h0M971 1494h0M711 2116h0M887 1865h0M1391 1323h0M772 1791h0M869 1815h0M894 1956h0M928 2043h0M742 2116h0M889 1795h0M785 1963h0M1126 1578h0M999 1823h0M737 1639h0M716 1811h0M703 2043h0M823 1635h0M913 1935h0M818 1948h0M725 1865h0M917 1784h0M1032 1609h0M776 2089h0M748 1811h0M746 2013h0M735 1935h0M692 1841h0M714 1886h0M766 1803h0M881 1721h0M697 2004h0M1634 1137h0M1489 1072h0M802 1935h0M819 1689h0M746 1777h0M858 1811h0M999 1556h0M700 1987h0M1529 1261h0M776 1921h0M718 1995h0M769 1702h0M783 1747h0M1387 1265h0M721 1850h0M949 1750h0M775 1855h0M965 1791h0M710 1819h0M858 1788h0M1970 662h0M728 1747h0M935 1770h0M984 1666h0M733 1892h0M749 1707h0M1060 1699h0M1075 1597h0M805 1586h0M962 1707h0M871 1979h0M689 1897h0M1107 1573h0M842 1545h0M844 1941h0M944 1886h0M715 1979h0M693 2222h0M1017 1570h0M883 1979h0M748 1897h0M695 1754h0M713 2089h0M882 1875h0M869 1841h0M701 2163h0M755 2004h0M1181 1538h0M770 1828h0M753 2103h0M936 1886h0M1064 1754h0M1426 1095h0M768 1963h0M1052 1757h0M753 1892h0M730 1979h0M710 2089h0M900 1576h0M802 2004h0M741 1860h0M732 1845h0M737 1928h0M791 2245h0M932 1795h0M790 1870h0M1181 1523h0M973 1633h0M713 1807h0M1081 1715h0M734 1799h0M1136 1383h0M865 2004h0M709 1971h0M811 1881h0M1085 1623h0M1106 1445h0M1047 1795h0M873 1956h0M764 1987h0M992 1956h0M853 1592h0M717 1664h0M952 1724h0M975 1625h0M868 1892h0M711 1860h0M710 2004h0M705 2004h0M1282 1470h0M754 1928h0M842 1614h0M688 1836h0M795 1811h0M1031 1886h0M765 1956h0M974 1971h0M929 1915h0M689 2023h0M982 1815h0M832 1921h0M824 1935h0M1540 1202h0M717 2131h0M764 1935h0M779 1440h0M786 2077h0M814 1897h0M1151 1573h0M1088 1609h0M687 2271h0M900 1707h0M910 1909h0M738 1795h0M749 2131h0M943 1875h0M849 1832h0M954 1692h0M751 1979h0M709 1935h0M724 2033h0M1072 1526h0M936 1721h0M744 1915h0M1082 1662h0M775 1855h0M1177 1724h0M928 1637h0M875 1671h0M794 2033h0M796 1811h0M759 2013h0M697 1995h0M809 2004h0M2086 451h0M905 1614h0M746 1971h0M759 2201h0M909 1620h0M796 1664h0M1253 1276h0M1010 1680h0M793 1915h0M800 2054h0M774 1971h0M876 1473h0M1438 1129h0M689 1935h0M851 1823h0M1121 1705h0M689 2089h0M868 1870h0M1019 1466h0M879 1579h0M910 1845h0M736 1754h0M1190 1599h0M1443 1286h0M1442 1149h0M841 1763h0M1586 1069h0M737 1928h0M762 2065h0M695 1915h0M791 1948h0M718 1845h0M747 1803h0M1064 1773h0M812 1897h0M756 1903h0M913 1586h0M735 2023h0M1007 1754h0M941 1685h0M1178 1594h0M1122 1484h0M704 1995h0M717 1928h0M1004 1633h0M693 1892h0M963 1478h0M690 1881h0M1720 879h0M1513 1177h0M921 1956h0M873 1750h0M825 1763h0M710 1921h0M982 1587h0M862 1963h0M897 1921h0M918 1474h0M966 1738h0M901 1875h0M770 1729h0M735 2013h0M1057 1576h0M711 2004h0M1072 1493h0M1054 1645h0M689 1971h0M864 1718h0M713 1995h0M1064 1841h0M866 1886h0M786 1841h0M947 1702h0M803 1823h0M820 1780h0M752 1995h0M933 1979h0M804 1941h0M754 2013h0M1202 1643h0M699 1979h0M696 1979h0M906 1850h0M819 1948h0M686 2043h0M824 2004h0M739 1948h0M873 1963h0M899 1618h0M732 2116h0M735 1699h0M835 1744h0M699 2163h0M711 2033h0M763 2013h0M1059 1635h0M702 2023h0M687 2043h0M1060 1567h0M768 1795h0M840 2033h0M687 2181h0M781 1915h0M949 1928h0M764 2077h0M692 2245h0M723 2065h0M1205 1515h0M726 1823h0M897 1921h0M844 1622h0M1214 1449h0M708 2043h0M741 2147h0M983 1682h0M806 1948h0M717 1903h0M759 2201h0M817 1803h0M924 1860h0M750 1886h0M720 1979h0M817 1870h0M1158 1385h0M817 1735h0M1215 1361h0M784 1735h0M733 1956h0M1032 1560h0M760 1666h0M941 1747h0M932 1799h0M1569 1295h0M820 1995h0M692 2077h0M697 1995h0M784 2065h0M1060 1795h0M708 2089h0M822 1865h0M1433 1209h0M889 1784h0M737 2004h0M756 1987h0M737 2033h0M797 1897h0M776 2004h0M717 1928h0M696 2116h0M916 1935h0M1025 1547h0M851 1707h0M851 1599h0M1653 1343h0M787 1726h0M703 1987h0M841 1836h0M1119 1963h0M734 2103h0M694 1941h0M1335 1260h0M731 1836h0M704 2181h0M2079 606h0M999 1618h0M749 1903h0M704 1915h0M774 2004h0M1661 902h0M759 1799h0M928 1935h0M1501 1229h0M697 1811h0M875 1886h0M1232 1395h0M754 2004h0M839 1773h0M877 1631h0M694 2043h0M776 1886h0M1004 1668h0M850 2077h0M890 1819h0M820 1865h0M754 1897h0M694 1963h0M1107 975h0M898 1647h0M841 1815h0M1435 1194h0M751 2033h0M1268 1419h0M766 1886h0M1013 1807h0M962 1892h0M1026 1803h0M778 1855h0M878 1489h0M941 1875h0M1002 1760h0M685 2077h0M1083 1713h0M1022 1609h0M812 1963h0M1285 1273h0M953 1713h0M736 2131h0M823 1875h0M1342 1507h0M736 2065h0M758 2077h0M1003 1823h0M1205 1675h0M752 2023h0M872 1819h0M1023 1614h0M753 1811h0M981 1865h0M773 1956h0M745 1732h0M878 1845h0M760 1780h0M789 1979h0M1051 1629h0M787 2065h0M829 1637h0M765 1941h0M996 1767h0M915 1865h0M1048 1566h0M1062 1572h0M975 1389h0M942 1713h0M988 1707h0M973 1747h0M1238 1572h0M747 1760h0M1103 1757h0M968 1705h0M972 1948h0M686 2043h0M1080 1710h0M694 2077h0M725 2163h0M708 2131h0M891 2004h0M758 1780h0M810 1616h0M1215 1393h0M687 2077h0M1017 1692h0M834 1971h0M890 1963h0M820 1841h0M733 1886h0M714 1948h0M1109 1710h0M736 2023h0M751 2331h0M716 1892h0M1053 1726h0M1120 1338h0M721 1865h0M843 2077h0M777 1987h0M692 1780h0M737 1750h0M767 2043h0M722 2033h0M815 1971h0M764 1795h0M1216 1694h0M750 1956h0M748 1735h0M930 1528h0M692 2054h0M799 1653h0M1045 1519h0M876 1941h0M782 1828h0M985 2013h0M696 2131h0M1114 1469h0M731 2201h0M895 1799h0M756 1948h0M757 1979h0M816 2369h0M880 1741h0M766 1909h0M898 1517h0M728 2077h0M749 2043h0M1406 1413h0M700 2103h0M947 1892h0M812 1971h0M730 2116h0M930 1747h0M755 1941h0M925 1763h0M774 2245h0M1012 1921h0M743 2054h0M1024 1487h0M972 1724h0M750 2013h0M1075 1616h0M1111 1576h0M708 2043h0M848 1757h0M796 1795h0M1067 1524h0M874 1915h0M868 1784h0M987 1979h0M828 1881h0M872 1675h0M951 2013h0M930 1807h0M1013 1799h0M886 1641h0M1054 1611h0M906 1948h0M962 1881h0M791 2043h0M884 1682h0M844 1705h0M721 1721h0M884 1705h0M791 1726h0M878 1767h0M918 1481h0M1117 1485h0M816 1697h0M1229 1513h0M711 1956h0M916 1677h0M1004 1799h0M762 1948h0M1130 1424h0M811 2054h0M990 1870h0M2214 360h0M948 1987h0M867 1718h0M815 2222h0M1682 1153h0M710 2077h0M782 1941h0M755 2033h0M786 2331h0M747 1956h0M832 1668h0M1031 1687h0M874 1875h0M692 2103h0M1118 1639h0M762 1875h0M746 1881h0M1256 1475h0M786 1707h0M699 1811h0M809 1841h0M997 1411h0M778 1963h0M711 2163h0M872 1770h0M926 1819h0M844 2013h0M951 1760h0M1188 1456h0M720 1897h0M928 1921h0M1318 1550h0M687 1948h0M1259 1289h0M710 1903h0M712 1747h0M804 1799h0M697 1836h0M831 1995h0M702 2089h0M720 1875h0M862 1819h0M924 1807h0"/>
<path stroke="#E78AC3" d="M841 1754h0M711 1750h0M1225 1572h0M982 1410h0M930 1860h0M690 1586h0M781 1832h0M689 1963h0M816 1855h0M836 1865h0M780 1903h0M761 1963h0M938 1724h0M1334 1026h0M1004 1508h0M1125 1653h0M699 1987h0M980 1533h0M1131 1429h0M707 1963h0M786 1767h0M1154 1349h0M751 1903h0M687 2116h0M799 1510h0M1097 1757h0M712 1668h0M903 1963h0M1014 1623h0M713 1694h0M803 1604h0M767 1799h0M870 1780h0M777 1909h0M725 1637h0M703 1710h0M745 1903h0M980 1641h0M834 1832h0M845 1726h0M717 1881h0M1131 1594h0M855 1689h0M1054 1433h0M840 1692h0M767 2013h0M765 1735h0M760 1581h0M696 1757h0M825 1537h0M781 1757h0M716 1819h0M1054 1449h0M838 1729h0M1121 1463h0M705 2054h0M737 1707h0M996 1579h0M711 1685h0M687 1909h0M885 1941h0M894 1921h0M705 1836h0M726 1881h0M777 2023h0M1099 1573h0M934 1886h0M779 1941h0M873 2163h0M919 1677h0M851 1520h0M1127 1301h0M761 1928h0M832 1823h0M878 1784h0M784 1604h0M756 2023h0M768 1948h0M772 2043h0M833 1715h0M913 1567h0M727 1909h0M964 1750h0M847 1881h0M768 1860h0M722 1995h0M992 1336h0M1110 1623h0M980 1713h0M745 1850h0M850 1651h0M1266 1513h0M797 1903h0M849 1886h0M854 1586h0M744 1928h0M989 1430h0M955 1660h0M1166 1518h0M760 2054h0M886 1979h0M811 1682h0M1116 1452h0M863 1828h0M686 1979h0M732 1599h0M710 1675h0M836 1836h0M842 1713h0M773 1897h0M1074 1533h0M805 1721h0M1580 1114h0M906 1625h0M865 1909h0M698 1865h0M795 1941h0M704 1777h0M716 1750h0M721 1760h0M1212 1371h0M945 1372h0M843 2077h0M865 1570h0M807 1747h0M781 1732h0M1021 1360h0M690 1850h0M709 1909h0M932 1611h0M862 1643h0M765 1578h0M1037 1557h0M699 2331h0M712 1724h0M1179 1412h0M711 1770h0M783 1666h0M710 1850h0M1351 1517h0M1122 1773h0M978 1662h0M695 1479h0M938 1735h0M706 1767h0M705 1928h0M1074 1767h0M1275 1347h0M779 1897h0M745 1928h0M803 1784h0M991 1599h0M735 1517h0M1298 1153h0M759 1875h0M733 1649h0M721 1897h0M938 1780h0M696 1921h0M893 1819h0M772 1741h0M1115 1270h0M1045 1726h0M1081 1465h0M849 1680h0M710 1915h0M796 1828h0M896 1547h0M1134 1377h0M1098 1430h0M783 1590h0M868 1664h0M993 1713h0M702 1453h0M1040 1576h0M712 1780h0M1687 1161h0M924 1595h0M937 1715h0M759 2065h0M830 1928h0M820 1732h0M768 2131h0M776 1760h0M1051 1368h0M762 1406h0M704 1795h0M941 1611h0M816 1713h0M761 1744h0M712 2103h0M1058 1479h0M741 1662h0M741 1747h0M782 1622h0M1111 1713h0M859 1590h0M877 1747h0M780 1915h0M709 1770h0M813 1791h0M856 1664h0M1059 1611h0M786 1815h0M710 1750h0M1060 1564h0M731 1870h0M736 1921h0M1101 1525h0M716 1668h0M838 1875h0M1000 1633h0M783 1655h0M708 2004h0M730 1811h0M748 1971h0M1317 1388h0M727 1616h0M879 1677h0M1401 1246h0M1516 1339h0M859 1791h0M880 1956h0M959 1692h0M737 1754h0M783 1718h0M707 1780h0M734 1832h0M836 1845h0M730 1784h0M1169 1653h0M826 1921h0M712 1903h0M764 1979h0M759 1744h0M735 1921h0M1157 1408h0M1392 1460h0M839 1886h0M782 2004h0M1476 1261h0M1091 1657h0M694 1971h0M690 1677h0M799 1799h0M902 1567h0M908 1620h0M957 1673h0M884 1572h0M749 2023h0M722 2013h0M1246 1480h0M953 1647h0M726 2013h0M1166 1090h0M910 1697h0M821 1757h0M836 1620h0M730 1892h0M726 1909h0M933 1702h0M738 1791h0M748 1865h0M754 1795h0M710 1995h0M729 1707h0M1806 992h0M778 1754h0M779 1841h0M752 1680h0M725 1689h0M728 1729h0M722 1948h0M721 1909h0M1119 1443h0M1095 1501h0M739 1897h0M1046 1855h0M702 2033h0M747 1799h0M826 1675h0M764 1897h0M813 1505h0M714 1841h0M830 1795h0M708 1979h0M990 1721h0M861 1763h0M1199 1692h0M734 2181h0M731 1855h0M847 1655h0M937 2004h0M1037 1677h0M1059 1666h0M1321 1607h0M699 1897h0M818 1819h0M759 1836h0M937 1935h0M1101 1592h0M787 1675h0M876 1855h0M1097 1641h0M700 1971h0M721 1807h0M1083 1429h0M752 1729h0M811 1777h0M730 1841h0M766 1694h0M842 1685h0M1320 1396h0M860 1699h0M708 1788h0M840 1623h0M1198 1418h0M690 2201h0M995 1675h0M718 1828h0M779 1609h0M706 2222h0M1209 1437h0M724 1657h0M712 1886h0M1043 1747h0M764 1757h0M795 1836h0M1029 1653h0M869 1600h0M1117 1713h0M1129 1594h0M1132 1553h0M790 1948h0M705 1841h0M774 1533h0M1127 1710h0M1207 1480h0M705 1948h0M848 1777h0M1097 1633h0M903 1576h0M1068 1599h0M994 1697h0M1370 1550h0M1001 1506h0M810 2023h0M870 1791h0M809 1741h0M687 1791h0M731 1886h0M766 1995h0M820 1647h0M841 1627h0M853 1875h0M824 1707h0M827 1710h0M1045 1384h0M1892 898h0M861 1763h0M702 1757h0M794 1870h0M851 1979h0M812 1757h0M728 1707h0M718 1935h0M940 1653h0M793 1836h0M922 1685h0M712 2089h0M828 1845h0M713 1803h0M994 1545h0M808 1811h0M870 1666h0M888 1631h0M790 1903h0M778 1671h0M826 1815h0M758 2089h0M691 1921h0M872 1599h0M879 1631h0M1209 1666h0M814 1811h0M853 1903h0M687 1897h0M779 1773h0M712 1995h0M887 1513h0M765 1697h0M690 1750h0M880 1653h0M807 1948h0M1062 1208h0M910 1855h0M997 1496h0M780 1807h0M855 1823h0M870 1735h0M770 1791h0M1016 1524h0M853 1845h0M694 1721h0M1653 1158h0M986 1770h0M696 1784h0M1034 1819h0M1680 1092h0M708 1956h0M784 1803h0M1013 1897h0M859 1850h0M929 1472h0M817 1767h0M694 1845h0M1087 1713h0M782 2013h0M1088 1486h0M886 1576h0M1236 1319h0M717 2181h0M1430 1302h0M801 1979h0M928 1845h0M735 1836h0M762 1823h0M728 1875h0M738 1881h0M756 1504h0M707 1915h0M712 1582h0M725 1726h0M778 1788h0M1073 1511h0M1326 1441h0M1055 1489h0M795 1673h0M961 1855h0M1101 1490h0M1300 1260h0M859 1687h0M1153 1464h0M724 1702h0M712 1892h0M924 1732h0M1004 1815h0M830 1763h0M974 1561h0M874 1892h0M1231 1177h0M836 1811h0M942 1388h0M787 1803h0M930 1928h0M791 1979h0M1084 1563h0M713 1860h0M765 1860h0M939 1515h0M921 1629h0M863 1791h0M2105 560h0M732 2004h0M1008 1594h0M1155 1277h0M744 2004h0M690 1495h0M1732 1154h0M982 1505h0M1032 1531h0M771 2023h0M1538 1289h0M726 1823h0M1207 1641h0M720 1643h0M968 1576h0M734 1811h0M721 1841h0M882 1903h0M904 1803h0M722 1915h0M717 1995h0M689 1956h0M765 1629h0M1162 1541h0M1240 1560h0M766 1744h0M708 2245h0M1204 1322h0M943 1597h0M794 1651h0M1075 1729h0M759 1767h0M913 1600h0M701 1832h0M708 1881h0M724 1963h0M788 1886h0M706 1803h0M700 1799h0M922 1664h0M778 2013h0M1033 1576h0M839 1741h0M738 1860h0M892 1763h0M793 1575h0M723 1886h0M726 2004h0M856 1561h0M717 1788h0M800 1566h0M702 1956h0M711 2163h0M921 1657h0M721 1841h0M730 1828h0M849 1286h0M1111 1675h0M739 1729h0M850 1875h0M795 1741h0M1201 1279h0M714 1892h0M1128 1614h0M834 1519h0M708 1948h0M817 1747h0M701 2004h0M729 1566h0M959 1602h0M782 1921h0M824 1815h0M708 1803h0M1031 1647h0M880 1629h0M707 1845h0M954 1828h0M1049 1455h0M764 1815h0M691 1780h0M914 1721h0M775 1928h0M714 1687h0M1082 1402h0M694 2103h0M1275 1365h0M938 1713h0M756 1514h0M1271 1446h0M1012 1726h0M725 1770h0M839 1618h0M697 2163h0M787 1803h0M719 1963h0M838 2147h0M692 1687h0M873 1921h0M797 2023h0M890 1622h0M1128 1518h0M1086 1699h0M730 1909h0M761 1832h0M786 1542h0M833 1845h0M897 1909h0M899 1828h0M733 1915h0M735 1836h0M725 1886h0M1166 1252h0M792 1578h0M690 1875h0M881 1671h0M726 1956h0M828 1956h0M922 1629h0M752 1921h0M1140 1668h0M797 1726h0M704 2004h0M768 1614h0M877 1513h0M736 1886h0M707 1763h0M1121 1687h0M864 1881h0M1398 1330h0M720 1881h0M817 1763h0M812 1995h0M875 1777h0M849 1875h0M722 1799h0M887 1660h0M1129 1368h0M760 1687h0M854 1710h0M1274 1354h0M869 1928h0M949 1760h0M707 1963h0M835 1462h0M725 1795h0M954 1592h0M1185 988h0M940 1641h0M899 1915h0M1061 1439h0M1007 1618h0M790 2013h0M764 1963h0M758 1409h0"/>
<path stroke="#66C2A5" d="M1055 1710h0M803 1915h0M764 2116h0M745 1928h0M861 1892h0M780 1963h0M691 2054h0M1346 1176h0M770 1773h0M805 1881h0M686 1941h0M812 2201h0M1137 1566h0M1013 1641h0M703 1662h0M746 2013h0M700 2033h0M821 1892h0M694 1819h0M893 1881h0M902 1811h0M1047 1892h0M717 2103h0M745 2065h0M760 1897h0M863 1897h0M692 1941h0M741 2103h0M1367 1473h0M738 2147h0M728 2013h0M730 1987h0M1209 1576h0M731 2004h0M1073 1815h0M694 1987h0M687 2077h0M1106 1773h0M840 1732h0M737 2116h0M690 2131h0M1320 1272h0M734 2103h0M1022 1612h0M715 2033h0M687 2147h0M1039 1777h0M855 1870h0M819 2065h0M699 2163h0M766 1892h0M685 2023h0M894 1956h0M914 1791h0M708 1865h0M1188 1784h0M890 1987h0M796 1875h0M790 1823h0M802 1767h0M910 1803h0M856 1897h0M691 2147h0M1056 1819h0M911 1618h0M761 2033h0M720 1845h0M747 2004h0M788 1625h0M685 2181h0M882 1956h0M794 1935h0M1045 1741h0M810 1602h0M708 2033h0M812 1881h0M697 2103h0M1062 1677h0M963 1815h0M712 1935h0M938 1680h0M1054 1892h0M896 1909h0M840 1828h0M863 1841h0M721 1935h0M1009 1721h0M1011 1987h0M848 2147h0M844 1828h0M898 2033h0M707 2222h0M807 1941h0M779 1875h0M1065 1921h0M1119 1815h0M713 2043h0M964 1777h0M1091 1620h0M697 2163h0M742 2116h0M698 1979h0M1217 1773h0M782 2103h0M807 1941h0M767 1735h0M704 2131h0M872 1921h0M688 2023h0M880 2077h0M932 1803h0M873 1836h0M1708 1306h0M767 2163h0M703 2331h0M964 1875h0M771 2043h0M879 1886h0M691 1921h0M709 1881h0M721 1909h0M760 1754h0M804 1605h0M752 1995h0M796 1941h0M1090 2004h0M738 1881h0M1028 1799h0M952 1855h0M1231 1407h0M836 2077h0M799 1744h0M733 2116h0M813 2331h0M707 1971h0M1024 1799h0M1245 1791h0M727 2033h0M1121 1645h0M826 2201h0M888 1832h0"/>
<path stroke="#8DA0CB" d="M895 1915h0M1420 1278h0M1171 1791h0M1167 1609h0M754 1841h0M1556 1174h0M859 1956h0M767 2077h0M1018 1687h0M734 2043h0M962 1657h0M985 1718h0M700 2222h0M743 2103h0M814 1850h0M687 2181h0M971 1935h0M716 1921h0M715 1935h0M1091 1850h0M905 1979h0M732 1941h0M834 1903h0M918 1682h0M1232 1592h0M784 1735h0M1185 1892h0M752 1836h0M717 2299h0M785 1963h0M704 2181h0M906 1542h0M919 1773h0M693 2163h0M977 1963h0M1005 1995h0M702 2089h0M877 1903h0M768 2004h0M886 2089h0M900 1777h0M1359 1442h0M716 2043h0M1368 1418h0M873 1773h0M786 2467h0M719 1928h0M764 1956h0M819 2089h0M701 2245h0M775 2103h0M941 1671h0M776 2331h0M973 1592h0M1068 1979h0M1044 1921h0M807 1763h0M758 2271h0M778 2222h0M796 2089h0M868 2245h0M875 1963h0M763 2147h0M767 2013h0M766 2331h0M938 2013h0M726 2245h0M789 1791h0M939 1780h0M737 2245h0M1123 1620h0M721 2043h0M823 2131h0M836 1995h0M986 1836h0M847 2004h0M947 1892h0M1220 1655h0M700 2043h0M939 2054h0M699 2147h0M839 1841h0M756 2245h0M1164 1754h0M1008 1707h0M1216 1587h0M802 2089h0M906 1836h0M1184 1590h0M890 2299h0M830 1979h0M1086 1631h0M995 2089h0M1083 1971h0M722 2089h0M816 1935h0M926 2013h0M1155 1721h0M763 2043h0M833 2033h0M966 1828h0M786 1732h0M972 1823h0M898 1915h0M888 2271h0M1003 1875h0M823 1948h0M1144 1515h0M1064 1616h0M777 2222h0M846 2147h0M692 2131h0M758 1784h0M806 1956h0M1318 1595h0M1319 1258h0M851 1680h0M724 1649h0M737 2089h0M847 1979h0M765 2413h0M1461 1375h0M895 1687h0M1496 1156h0M879 2331h0M852 2116h0M900 1563h0M740 2054h0M906 1721h0M852 1682h0M728 2065h0M874 1738h0M757 1860h0M1016 1754h0M915 1449h0M829 1819h0M1424 1319h0M1103 1371h0M1334 1832h0M842 1881h0M1149 1641h0M1038 1490h0M838 1941h0M699 2271h0M761 1941h0M869 1909h0M896 1675h0M803 1811h0M1212 1784h0M880 2013h0M1091 1718h0M724 2103h0M934 1744h0M810 1921h0M843 1750h0M691 2163h0M1306 1618h0M784 2077h0M708 1760h0M1038 1897h0M871 2103h0M909 1860h0M1230 1744h0M740 1687h0M914 1921h0M933 1845h0M716 1956h0M795 2077h0M738 1784h0M702 2147h0M788 1995h0M1136 1948h0M886 2147h0M1025 1956h0M800 1655h0M712 1845h0M873 2023h0M695 1971h0M1101 1664h0M1205 1612h0M979 2077h0M1249 908h0M868 1823h0M724 2222h0M840 2116h0M1552 1252h0M692 2065h0M1019 1662h0M785 2147h0M787 2043h0M771 2043h0M978 1754h0M842 2043h0M870 2181h0M734 2103h0M799 2131h0M846 2163h0M970 1609h0M985 1763h0M1148 1616h0M877 1401h0M965 2043h0M748 1979h0M685 1935h0M713 2054h0M1090 1456h0M686 1832h0M1158 1795h0M789 2054h0M688 1995h0M706 2054h0M820 2054h0M844 2033h0M737 1836h0M870 1807h0M1116 1941h0M715 2222h0M1021 1500h0M872 1956h0M966 1892h0M844 2054h0M872 1956h0M898 1971h0M901 2077h0M876 2089h0M689 1987h0M824 2116h0M1955 1023h0M825 1995h0M1762 1193h0M840 2245h0M1265 1777h0M762 1971h0M828 1803h0M723 1687h0M767 2065h0M841 1788h0M905 2116h0"/>
<path stroke="#A6D854" d="M704 2103h0M995 1819h0M867 1971h0M1708 858h0M1129 1754h0M815 1595h0M824 1979h0M719 2222h0M813 1941h0M1273 1333h0M700 2201h0M731 1995h0M1125 1823h0M964 1747h0M818 2065h0M741 2065h0M803 1928h0M1074 1763h0M699 2131h0M1245 1586h0M796 1909h0M981 1845h0M781 1836h0M745 2222h0M1051 1645h0M887 1870h0M1594 1293h0M756 1956h0M721 2222h0M831 1735h0M1360 1274h0M737 2023h0M703 2089h0M955 1807h0M728 2467h0M978 1760h0M785 2013h0M1187 1641h0M1148 1560h0M737 2116h0M865 1963h0M985 1682h0M993 1643h0M770 2065h0M1687 1027h0M820 1735h0M690 2201h0M714 2222h0M783 2065h0M790 2033h0M777 1823h0M712 2065h0M812 1881h0M1314 1316h0M714 1935h0M979 1657h0M733 2201h0M965 1770h0M899 1677h0M850 1760h0M731 2147h0M892 1875h0M1076 1803h0M759 2033h0M875 2013h0M1282 1480h0M812 1915h0M942 1892h0M714 1935h0M1641 1037h0M850 2103h0M686 2163h0M701 2004h0M805 1828h0M735 1780h0M728 1897h0M736 1948h0M1161 1637h0M832 2077h0M732 1903h0M702 1903h0M742 1979h0M1173 1655h0M882 1724h0M879 1875h0M1011 1569h0M825 1897h0M929 1689h0M1158 1473h0M866 1707h0M884 2116h0M723 2147h0M936 1897h0M687 2116h0M1268 1297h0M1052 1538h0M751 2116h0M735 2089h0M732 2222h0M1395 1281h0M1210 1542h0M1469 1371h0M882 1881h0M826 1921h0M862 1732h0M986 1865h0M753 2163h0M967 1845h0M1087 1836h0M804 2131h0M755 2089h0M703 2089h0M1066 1987h0M731 2116h0M782 1897h0M723 1845h0M778 1963h0M1103 1662h0M795 1963h0M709 1850h0M1016 1560h0M893 1819h0M1289 1433h0M1647 1261h0M692 2131h0M692 2116h0M732 2181h0M1098 1549h0M732 1995h0M1193 1605h0M839 1687h0M862 2222h0M896 1823h0M703 1773h0M786 2163h0M756 2116h0M835 1845h0M715 2103h0M1092 1526h0M1102 1620h0M692 1860h0M780 1875h0M1107 1784h0M708 1941h0M946 2089h0M1051 1963h0M820 2103h0M1128 1713h0M874 1860h0M687 2271h0M742 1770h0M1005 1903h0M864 1795h0M910 1828h0M708 2299h0M767 2116h0M1150 1531h0M1436 1352h0M860 1987h0M888 1788h0M709 1995h0M813 1892h0M752 2163h0M788 2116h0M720 2023h0M918 1799h0M716 1921h0M733 1855h0M908 1948h0M817 2004h0M712 2033h0M702 2065h0M732 2131h0M702 2201h0M1060 1757h0M1405 1443h0M806 1799h0M1205 1332h0M1209 1346h0M725 2077h0M854 1845h0M700 1921h0M797 1757h0M721 2023h0M1415 1115h0M919 2004h0M709 1979h0M874 2147h0M868 2054h0M687 2181h0M782 2181h0M779 1963h0M1566 1085h0M737 1935h0M752 2271h0M867 2054h0M1390 1349h0M704 2116h0M767 2131h0M1288 1508h0M696 2163h0M866 1956h0M1218 1445h0M1058 1823h0M881 1915h0M863 1726h0M696 2089h0M1019 1791h0M889 1915h0M707 2043h0M992 1780h0M781 1803h0M726 2222h0M688 2103h0M942 2089h0M814 1941h0M746 2163h0M2076 634h0M982 1855h0M956 1815h0M1155 1483h0M820 2033h0M719 2299h0M770 2023h0M944 1995h0M800 2004h0M887 1845h0M872 1865h0M832 1850h0M1257 1347h0M971 1705h0M763 1935h0M847 2013h0M1117 1605h0M791 1928h0M912 1971h0M756 2147h0M1249 1542h0M955 2089h0M727 2023h0M863 1935h0M689 2299h0M1294 1528h0M914 1956h0M935 1841h0M843 1811h0M743 2065h0M861 2023h0M741 1903h0M1790 899h0M1151 1537h0M926 1935h0M726 2245h0M860 1865h0M751 1948h0M993 1897h0M832 1948h0M992 1757h0M1271 1407h0M871 1995h0M773 2013h0M1123 1416h0M781 2077h0M1322 1435h0M773 1903h0M723 1841h0M738 2163h0M801 1987h0M688 1855h0M1038 1860h0M912 1699h0M787 2163h0M790 2065h0M1533 1132h0M924 1655h0M935 1903h0M1111 1526h0M1108 1660h0M1032 1780h0M1043 1747h0M711 1971h0M860 1886h0M705 1921h0M955 1499h0M691 1915h0M978 1622h0M878 1870h0M779 2222h0M960 1897h0M777 1979h0M786 1870h0M717 2089h0M733 2033h0M811 1987h0M737 2077h0M815 1921h0M711 2033h0M786 1557h0M1271 1307h0M809 1897h0M874 2065h0M801 2065h0M759 2023h0M1157 1370h0M932 1935h0M954 1892h0M1159 1563h0M763 1795h0M742 2103h0M994 2147h0M1271 1252h0M776 1915h0M875 1928h0M1021 1625h0M977 1744h0M951 1811h0M896 2033h0M768 2147h0M868 1807h0M1061 1699h0M949 1773h0M1131 1551h0M1055 2077h0M743 1702h0M807 1791h0M1161 1643h0M1133 1622h0M919 1732h0M750 2077h0M778 2023h0M1034 1741h0M762 2023h0M1053 1710h0M728 2033h0M842 1777h0M857 1987h0M729 2131h0M720 2331h0M690 2331h0M1184 1666h0M1049 1694h0M811 2033h0M906 1832h0M798 1850h0M697 1963h0M762 2271h0M1144 1570h0M691 1971h0M983 1721h0M796 1897h0M838 2163h0M857 1832h0M695 2271h0M923 1995h0M913 1788h0M953 1979h0M883 1921h0M739 2201h0M1113 1721h0M762 2299h0M890 1518h0M753 2163h0M1572 973h0M909 2004h0M894 1819h0M880 1841h0M840 2065h0M1501 1295h0M1172 1393h0M803 1979h0M1002 1692h0M693 2222h0M696 2201h0M741 2163h0M975 1777h0M816 2033h0M745 1865h0M1212 1403h0M790 1823h0M724 1963h0M841 1935h0M736 2023h0M762 2116h0M859 1803h0M700 2043h0M835 2023h0M1699 933h0M808 2163h0M716 2163h0M839 1935h0M784 2163h0M721 1941h0M830 1956h0M976 1726h0M902 2077h0M1005 1623h0M734 2147h0M930 1770h0M730 1995h0M816 1699h0M686 1909h0M869 2222h0M696 1956h0M943 1875h0M894 2054h0M935 1747h0M827 1870h0M727 1757h0M844 1799h0M1135 1573h0M1312 1581h0M755 1995h0M701 2004h0M723 2181h0M788 2023h0M1789 955h0M762 2163h0M736 1963h0M844 1732h0M963 1729h0M769 2065h0M882 1664h0M1227 1501h0M953 1569h0M1063 1995h0M930 1815h0M1129 1660h0M802 1845h0M912 1828h0M698 2103h0M1211 1599h0M846 2004h0M929 1909h0M720 1915h0M776 2054h0M792 2065h0M1540 1237h0M1112 1291h0M927 2043h0M941 2089h0M692 2245h0M782 2131h0M975 1581h0M1541 1347h0M686 2054h0M1163 1710h0M713 2116h0M747 2163h0M1100 1520h0M733 2065h0M815 1963h0M768 1995h0M738 2245h0M723 1892h0M775 1897h0M866 1379h0M871 1897h0M787 2054h0M743 2201h0M925 1811h0M879 1948h0M950 1841h0M957 1903h0M723 2201h0M735 2033h0M692 2089h0M733 2413h0M773 2245h0M727 2222h0M808 1811h0M745 1845h0M837 1995h0M1180 1469h0M780 1886h0M727 2201h0M729 2116h0M1519 1225h0M1063 1637h0M1066 1697h0M1182 1631h0M1033 1623h0M1069 2004h0M700 2222h0M741 2271h0M1540 1206h0M1301 1582h0M950 1828h0M727 1948h0M748 2054h0M859 1870h0M883 1948h0M745 2163h0M937 1803h0M944 1767h0M1251 1609h0M694 1909h0M1471 1320h0M1239 1429h0M734 1744h0M854 1881h0M759 2131h0M1053 1350h0M830 1870h0M872 1963h0M1091 1432h0M740 2131h0M704 1767h0M904 2163h0M816 1886h0M688 1987h0M780 1963h0M863 1903h0M833 2043h0M871 1995h0M687 2116h0M700 2201h0M754 2147h0M770 2103h0M990 1903h0M688 2181h0M998 1897h0M741 2089h0M1241 1576h0M918 1724h0M888 1677h0M712 2077h0M764 1979h0M905 1715h0M690 2033h0M898 1921h0M1316 1726h0M1001 1850h0M823 1921h0M1165 1563h0M722 2116h0M791 2023h0M713 2033h0M780 1855h0M1138 1471h0M944 1707h0M799 1870h0M749 1963h0M735 2222h0M1046 1747h0M1460 1176h0M866 1921h0M1353 1422h0M880 1635h0M707 2013h0M897 1845h0M983 1741h0M781 2103h0M717 1921h0M806 2089h0M969 1841h0M822 2043h0M788 1841h0M979 1492h0M729 2147h0M811 1655h0M954 1860h0M1583 1135h0M943 2013h0M843 1987h0M875 1777h0M1040 1641h0M1416 1564h0M795 2131h0M974 1662h0M814 2054h0M752 2163h0M801 1572h0M905 1780h0M1552 1120h0M790 1754h0M814 2103h0M1114 1602h0M869 1963h0M1527 1159h0M1238 1645h0M951 1788h0M711 2089h0M966 1811h0M690 1979h0M881 1545h0M691 2004h0M916 1956h0M1140 1671h0M751 2089h0M881 2131h0M858 1971h0M1007 1726h0M999 1579h0M956 1715h0M692 2116h0M727 1963h0M768 1987h0M1116 1614h0M719 2147h0M721 2004h0M865 2043h0M762 2299h0M733 2222h0M1028 1770h0M934 2054h0M894 1963h0M719 1963h0M1171 1446h0M780 1921h0M758 2201h0M735 2013h0M964 1799h0M980 1651h0M731 2245h0"/>
<path stroke="#FC8D62" d="M722 1780h0M1069 1668h0M827 2054h0M752 1836h0M855 1635h0M857 1757h0M906 1850h0M1375 1211h0M919 2023h0M762 1815h0M1088 1558h0M700 2147h0M1055 1715h0M872 1886h0M942 1767h0M726 1971h0M1298 1338h0M900 1971h0M820 1699h0M900 1475h0M1024 1675h0M708 2222h0M692 2116h0M797 1995h0M1202 1564h0M902 1702h0M706 2201h0M863 1845h0M781 1832h0M856 1735h0M914 1750h0M727 2054h0M733 2116h0M716 2201h0M1116 1811h0M924 1780h0M779 1909h0M1377 1162h0M936 1747h0M1016 1757h0M861 1777h0M739 1791h0M844 1784h0M1192 1668h0M990 1738h0M745 2299h0M781 1987h0M771 2163h0M691 1987h0M825 1738h0M737 1724h0M1113 1511h0M773 1921h0M924 1935h0M1296 1351h0M793 1948h0M829 1777h0M730 1941h0M1479 1178h0M720 1979h0M1027 1692h0M984 1767h0M808 1892h0M712 1870h0M1254 1299h0M1202 1645h0M782 1791h0M881 1726h0M687 1875h0M719 2131h0M850 1726h0M770 1995h0M708 2013h0M721 2331h0M950 1599h0M920 1666h0M832 2013h0M762 1928h0M967 1795h0M784 1803h0M741 2043h0M1036 1637h0M705 2116h0M910 1836h0M927 1903h0M1004 1668h0M1151 1457h0M755 1807h0M737 2131h0M1038 1687h0M921 1735h0M863 1788h0M704 1987h0M1308 1511h0M896 1915h0M962 1707h0M709 2222h0M709 1987h0M796 1860h0M953 1956h0M949 1777h0M817 1855h0M951 1682h0M756 2413h0M1038 1784h0M716 2131h0M791 2004h0M784 1956h0M887 2077h0M692 1971h0M752 1875h0M740 1803h0M744 1979h0M1121 1604h0M1276 1641h0M757 2201h0M1025 1389h0M850 1845h0M1215 1508h0M790 1784h0M1041 2116h0M898 1815h0M1139 1633h0M712 1979h0M847 1995h0M819 1987h0M978 1609h0M807 1850h0M1333 1373h0M769 1836h0M709 1987h0M705 2013h0M1023 1605h0M712 2065h0M888 1971h0M1221 1331h0M1050 1689h0M695 2013h0M1248 1363h0M714 1870h0M1220 1855h0M1061 1594h0M844 1971h0M975 1815h0M719 2023h0M959 1637h0M819 1881h0M1190 1534h0M1258 1320h0M1019 1436h0M803 1732h0M807 1971h0M929 1836h0M699 2181h0M746 1841h0M764 1799h0M741 1811h0M830 2065h0M955 1855h0M685 1979h0M828 1836h0M994 1747h0M735 1915h0M791 2131h0M2122 607h0M1426 1322h0M869 1828h0M778 2369h0M875 1770h0M716 1729h0M789 2116h0M820 1963h0M839 1823h0M948 1850h0M1094 1671h0M826 1915h0M944 1543h0M695 2163h0M740 2131h0M1087 1799h0M1071 1721h0M708 1855h0M905 1747h0M918 1832h0M717 2201h0M776 1741h0M728 2103h0M1106 1692h0M753 1832h0M703 2043h0M722 1948h0M932 1832h0M849 1811h0M1242 1653h0M824 1987h0M877 1987h0M888 1956h0M819 1886h0M742 2116h0M780 1928h0M745 2043h0M809 1819h0M1351 1280h0M714 1948h0M1010 1724h0M761 1935h0M1338 1188h0M846 1935h0M759 1956h0M686 2043h0M801 1713h0M707 2369h0M694 2004h0M1079 1815h0M705 2013h0M773 1870h0M705 2331h0M792 1897h0M692 2222h0M780 2331h0M1013 1662h0M826 1757h0M980 1594h0M737 1948h0M696 1870h0M702 2054h0M1802 969h0M739 1921h0M1007 1841h0M691 2054h0M776 1875h0M725 2004h0M937 1481h0M819 2065h0M921 1584h0M881 2077h0M1475 1102h0M789 1845h0M901 1680h0M795 1666h0M719 2147h0M1067 1780h0M769 1653h0M696 2043h0M833 1881h0M688 2004h0M1084 1845h0M701 2131h0M1825 931h0M1269 1572h0M847 1579h0M942 1687h0M696 2116h0M694 2023h0M690 2147h0M869 1541h0M690 1963h0M795 2077h0M756 2023h0M766 1850h0M956 1633h0M868 1928h0M823 2013h0M781 2131h0M843 1645h0M882 1903h0M736 1921h0M992 1886h0M818 1726h0M1055 1651h0M735 1915h0M978 1657h0M959 1777h0M816 1677h0M1072 1622h0M918 1795h0M946 1832h0M737 2013h0M721 1963h0M735 2004h0M850 1754h0M1297 1276h0M695 2065h0M1045 1518h0M865 2043h0M756 1897h0M1436 1354h0M907 1865h0M728 1881h0M1248 1558h0M832 1682h0M1040 1682h0M1230 1556h0M1223 1478h0M1181 1314h0M1189 1398h0M824 1780h0M707 1819h0M1044 1754h0M922 1631h0M764 2033h0M702 2147h0M919 1692h0M1035 1689h0M1037 1495h0M701 1971h0M728 1921h0M813 1941h0M1376 1464h0M1119 1639h0M1046 1600h0M716 1881h0M715 2181h0M1829 904h0M703 1841h0M768 2181h0M793 2013h0M734 1963h0M879 1616h0M839 1795h0M897 1799h0M717 1738h0M938 1631h0M893 1819h0M738 1987h0M1064 1699h0M693 2089h0M837 1928h0M822 1881h0M939 1570h0M715 2089h0M741 2089h0M733 1909h0M848 1791h0M851 1841h0M734 1875h0M734 1935h0M1144 1629h0M777 1524h0M1596 1127h0M786 1836h0M1163 1535h0M930 1564h0M1087 1371h0M1509 1291h0M1426 1311h0M770 2147h0M808 2103h0M720 1941h0M696 2245h0M1327 1443h0M1375 1331h0M734 1832h0M1071 1855h0M785 1791h0M740 1979h0M733 2163h0M738 2013h0M847 1795h0M715 2089h0M911 1729h0M742 2043h0M751 1928h0M856 1784h0M911 1807h0M965 1666h0M741 2004h0M701 1903h0M733 2163h0M1179 1541h0M769 1855h0M825 1875h0M791 1870h0M950 1836h0M846 1865h0M993 1897h0M888 1948h0M910 1865h0M801 1623h0M804 2023h0M825 1811h0M863 1741h0M977 1699h0M2137 470h0M717 1780h0M735 2077h0M802 2004h0M1086 1660h0M961 1784h0M1837 792h0M813 2077h0M752 1836h0M732 1629h0M984 1655h0M917 1875h0M769 1875h0M717 1903h0M727 2054h0M690 1928h0M908 1823h0M686 1892h0M1118 1597h0M1054 1481h0M836 1841h0M721 2163h0M729 1541h0M816 1956h0M744 2147h0M1356 1169h0M718 2271h0M802 1865h0M954 1463h0M725 1747h0M856 2054h0M1311 1260h0M821 1832h0M761 1892h0M738 1897h0M690 2023h0M809 1811h0M1137 1915h0M837 1948h0M1470 1232h0M995 1694h0M1058 1677h0M1084 1569h0M1230 1484h0M739 2147h0M705 1886h0M906 1715h0M691 1928h0M808 1689h0M1407 1262h0M702 1870h0M817 1791h0M1032 1535h0M1092 1757h0M963 1979h0M804 1741h0M802 2201h0M723 1791h0M803 1757h0M981 1724h0M960 1971h0M953 1747h0M1254 1631h0M692 2004h0M902 1738h0M745 1870h0M995 1589h0M1774 981h0M998 1921h0M877 1795h0M766 2013h0M819 1860h0M687 2089h0M762 1903h0M894 1612h0M778 2054h0M1130 1671h0M912 1423h0M799 1567h0M727 1721h0M689 2222h0M1458 1093h0M779 1738h0M1051 1567h0M705 2065h0M1164 1635h0M1426 1336h0M1301 1508h0M916 1836h0M1093 1563h0M955 1979h0M705 1841h0M861 1795h0M801 1784h0M892 1823h0M922 1629h0M907 2004h0M706 1845h0M1062 1692h0M831 1807h0M685 2013h0M804 1718h0M693 1935h0M742 2023h0M1237 1271h0M1076 1339h0M757 2043h0M1742 506h0M712 1881h0M788 2004h0M780 1784h0M711 2245h0M769 2033h0M783 1627h0M826 1995h0M720 1732h0M915 1807h0M1113 2103h0M1086 1529h0M762 1604h0M800 1865h0M732 2299h0M806 1819h0M808 2004h0M796 1685h0M916 1602h0M1739 1189h0M721 2033h0M735 2077h0M929 1828h0M751 1897h0M726 1987h0M1010 1668h0M872 2023h0M1121 1629h0M1331 1349h0M1233 1185h0M740 1836h0M874 1828h0M1269 1107h0M1055 1803h0M1017 1602h0M788 1664h0M867 1689h0M889 1881h0M900 1511h0M1389 1457h0M1069 1602h0M699 1987h0M780 1773h0M723 2163h0M687 1987h0M856 1744h0M811 1909h0M1043 1576h0M769 2054h0M828 1707h0M705 1948h0M973 1513h0M737 1875h0M741 1995h0M790 1995h0M843 1815h0M882 1881h0M926 1811h0M1185 1414h0M736 1892h0M860 1788h0M1030 1550h0M778 2033h0M756 2033h0M1246 1479h0M698 1921h0M1383 1082h0M693 2116h0M856 1699h0M813 1575h0M1073 1582h0M695 1803h0M1038 1710h0M735 2077h0M940 1881h0M1011 1443h0M1220 1506h0M700 2043h0M694 1799h0M848 1832h0M822 1342h0M886 1948h0M721 1881h0M761 1860h0M781 1921h0M835 1750h0M777 1791h0M891 1921h0M920 1773h0M872 1881h0M940 1784h0M888 1592h0M839 1875h0M750 2089h0M796 1987h0M827 1921h0M846 1767h0M751 2013h0M691 2023h0M1218 1437h0M716 2147h0M759 1941h0M765 1729h0M757 1865h0M878 1979h0M1202 1599h0M939 1732h0M696 2131h0M834 1823h0M712 1979h0M880 1689h0M1078 1750h0M773 2077h0M748 2043h0M710 1971h0M930 1803h0M906 1754h0M1064 1440h0M692 1915h0M984 1921h0M688 2065h0M901 1757h0M754 2131h0M883 1713h0M881 1784h0M749 1956h0M1076 1545h0M715 1865h0M757 1682h0M780 1909h0M1044 1550h0M818 2023h0M793 2299h0M864 1590h0M895 1850h0M811 1941h0M738 1897h0M1052 1488h0M748 1963h0M759 1865h0M773 1897h0M710 1903h0M709 1747h0M852 1811h0M738 2163h0M685 2077h0M853 1732h0M758 2023h0M830 1987h0M863 1870h0M700 2065h0M701 1935h0M980 1803h0M716 2065h0M794 1855h0M771 1865h0M1054 1433h0M937 2023h0M811 1578h0"/>
<path stroke="#E78AC3" d="M776 1675h0M1066 1446h0M908 1715h0M926 1623h0M1063 1618h0M1120 1427h0M842 1677h0M854 1707h0M861 1767h0M760 1811h0M723 2054h0M825 1892h0M799 1935h0M1033 1538h0M787 1680h0M825 1807h0M778 2271h0M844 1963h0M802 1897h0M712 1807h0M719 1935h0M1019 1567h0M812 1699h0M974 1564h0M725 1870h0M747 1442h0M725 1987h0M742 1828h0M925 2043h0M869 1726h0M899 1607h0M941 1506h0M746 2147h0M1065 1763h0M758 1649h0M716 1726h0M766 1819h0M725 1664h0M794 1721h0M858 1819h0M821 1995h0M746 1767h0M782 1815h0M910 1477h0M845 1715h0M930 1653h0M943 1445h0M1055 1417h0M1379 1315h0M698 1881h0M786 1811h0M873 1979h0M906 1735h0M802 1803h0M690 1744h0M715 1897h0M940 1647h0M945 1689h0M843 1633h0M1232 1421h0M1117 1369h0M996 1607h0M769 1963h0M710 1928h0M1015 1629h0M809 1892h0M1144 1537h0M1107 1637h0M790 1713h0M1394 1131h0M731 1718h0M783 1886h0M914 1584h0M891 1707h0M817 1754h0M938 1823h0M700 1729h0M702 1718h0M1108 1666h0M733 1770h0M734 1803h0M729 1915h0M685 1605h0M991 1485h0M1027 1586h0M709 1699h0M1007 1595h0M735 1770h0M708 1865h0M762 1819h0M935 1418h0M999 1828h0M1453 1182h0M1221 1082h0M1448 1427h0M838 1811h0M1031 1592h0M1123 1393h0M1904 893h0M894 1655h0M1044 1458h0M1020 2013h0M698 1915h0M989 1414h0M1164 1478h0M713 2013h0M843 1741h0M730 1909h0M833 1836h0M778 1971h0M968 1578h0M712 1595h0M853 1605h0M911 1807h0M776 1823h0M760 1886h0M1396 1478h0M1510 1285h0M1022 1767h0M1620 1084h0M880 1754h0M750 1892h0M728 1635h0M1238 1223h0M1084 1643h0M782 1645h0M1209 1366h0M860 1692h0M737 1780h0M782 1699h0M1313 1437h0M1034 1795h0M706 1682h0M784 1915h0M758 2131h0M687 1865h0M912 1675h0M733 1567h0M967 1675h0M939 1479h0M848 2004h0M1061 1467h0M1428 1252h0M847 2103h0M733 1956h0M872 1956h0M879 1750h0M686 2201h0M723 1777h0M827 1870h0M937 1741h0M1325 1409h0M882 1699h0M699 1729h0M1243 1380h0M1171 1236h0M790 1597h0M722 1750h0M787 1948h0M1005 1643h0M1251 1147h0M783 1600h0M773 1198h0M881 1777h0M725 2163h0M938 1432h0M955 1293h0M992 1777h0M1301 1257h0M934 1573h0M732 2013h0M903 1579h0M952 1360h0M854 1855h0M897 1582h0M847 1600h0M693 2181h0M876 1909h0M953 1616h0M730 1645h0M1561 1174h0M909 1935h0M1202 1334h0M782 1788h0M822 1855h0M1836 689h0M1191 1426h0M945 1551h0M959 1903h0M697 1721h0M913 1819h0M741 1777h0M780 1841h0M859 1892h0M758 1715h0M688 1963h0M926 1592h0M755 1567h0M854 1788h0M1190 1556h0M716 1803h0M804 1928h0M1001 1625h0M743 1892h0M1060 1498h0M717 1979h0M725 1956h0M773 1713h0M973 1685h0M1140 1495h0M1163 1310h0M820 1799h0M796 1680h0M1228 1316h0M860 1784h0M1458 1417h0M855 1655h0M832 1770h0M693 2023h0M740 1767h0M1253 1589h0M1073 1444h0M865 1702h0M731 2023h0M1582 1153h0M853 1721h0M742 1971h0M737 1903h0M954 1413h0M925 1832h0M807 1791h0M857 1784h0M1062 1735h0M709 2077h0M1072 1543h0M696 1928h0M855 1828h0M738 1788h0M732 2023h0M712 1935h0M715 1819h0M762 1921h0M1183 1076h0M810 1875h0M827 1699h0M798 1340h0M718 1870h0M1087 1329h0M746 1732h0M1111 1594h0M979 1791h0M1077 1713h0M790 1886h0M1354 1543h0M1175 1641h0M688 1921h0M697 2089h0M875 1836h0M764 1803h0M1391 1257h0M779 1616h0M685 1811h0M706 1948h0M969 1549h0M749 1995h0M794 1865h0M988 1677h0M812 1754h0M1064 1668h0M922 1651h0M896 1655h0M824 2023h0M701 1671h0M759 1841h0M975 1558h0M704 1860h0M914 1472h0M925 1870h0M752 1788h0M701 1747h0M1424 1221h0M757 1886h0M734 1550h0M888 1452h0M1452 1087h0M696 1941h0M730 1788h0M899 1466h0M791 1845h0M807 1738h0M698 1995h0M837 1707h0M927 1713h0M1352 1388h0M1016 1590h0M1634 1156h0M1014 1611h0M695 1935h0M695 1713h0M986 1627h0M826 1948h0M1260 1370h0M845 1744h0M694 2065h0M954 1649h0M777 1780h0M1133 1564h0M1024 1609h0M685 1915h0M762 1948h0M783 1819h0M809 1689h0M707 1865h0M690 1773h0M763 1754h0M1535 1288h0M850 1689h0M1019 1860h0M912 1811h0M705 1754h0M885 1715h0M748 1732h0M1162 1485h0M761 1664h0M739 1881h0M1383 958h0M786 1903h0M1041 1557h0M993 1308h0M716 1971h0M798 1832h0M990 1554h0M765 1707h0M744 1935h0M797 1682h0M820 1680h0M876 1668h0M749 1741h0M974 1653h0M926 1694h0M808 1726h0M1114 1518h0M1803 1065h0M762 1909h0M731 1815h0M753 1767h0M688 2023h0M963 1724h0M970 1404h0M712 1807h0M1034 1647h0M950 1909h0M744 1892h0M1181 1290h0M833 1429h0M761 1754h0M763 1850h0M809 1671h0M707 1702h0M695 1715h0M908 1744h0M816 2054h0M1347 1315h0M802 1660h0M836 1692h0M814 1599h0M844 1729h0M878 1616h0M718 1760h0M835 1637h0M1442 1160h0M888 2013h0M1125 1413h0M916 1541h0M851 1710h0M777 1971h0M984 1699h0M869 1807h0M864 1558h0M798 1595h0M838 1682h0M793 1750h0M916 1459h0M1105 1403h0M1044 1518h0M1046 1531h0M781 1662h0M1031 1713h0M812 1707h0M766 1770h0M792 1582h0M738 1987h0M733 1841h0M1500 1257h0M708 1903h0M820 1963h0M831 1845h0M1147 1575h0M952 1671h0M910 1754h0M956 1456h0M745 1971h0M917 1556h0M730 1649h0M721 1694h0M727 1836h0M888 1773h0M748 1941h0M949 1694h0M730 1855h0M801 1823h0M956 1760h0M690 1921h0M1176 1429h0M724 1921h0M911 1500h0M1089 1273h0M751 1845h0M1212 711h0M812 1832h0M857 1735h0M779 2116h0M1071 1744h0M877 1784h0M974 1795h0M1068 1460h0M757 2245h0M718 2181h0M911 1579h0M693 1948h0M1345 1396h0M915 1718h0M1109 1469h0M733 1760h0M1020 1543h0M1298 1222h0M861 1881h0M874 1623h0M812 1832h0M696 1995h0M788 1694h0M824 1724h0M1029 1609h0M860 1815h0M808 1886h0M691 1963h0M782 1538h0M797 1760h0M978 1655h0M734 1886h0M689 1828h0M745 1845h0M997 1607h0M778 1763h0M833 1870h0M836 1732h0M1037 1417h0M1196 1625h0M975 1909h0M761 1979h0M920 1724h0M883 1702h0M710 1935h0M695 1886h0M698 1948h0M837 1897h0M1491 1245h0M1222 1318h0M734 1767h0M738 1987h0M805 1609h0M756 1629h0M753 1915h0M899 1671h0M747 1819h0M1245 1320h0M1056 1600h0M845 1547h0M928 1594h0M740 1886h0M852 1637h0M930 1875h0M995 1713h0M1078 1692h0M769 1870h0M694 1956h0M1428 1331h0M807 1718h0M696 1777h0M976 1795h0M789 1995h0M934 1528h0M692 1903h0M765 1741h0M1153 1594h0M710 1718h0M688 1860h0M1236 1449h0M905 1616h0M834 1941h0M712 1841h0M901 1832h0M1037 1533h0M1011 1411h0M920 1732h0M782 1845h0M1118 1633h0M783 1795h0M1129 1369h0M797 1715h0M757 1744h0M762 1860h0M1213 1465h0M1582 1094h0M1328 1398h0M1127 1554h0M729 1675h0M1208 1332h0M987 1860h0M947 1605h0M1024 1440h0M958 1799h0M913 1735h0M854 2147h0M912 1855h0M774 1823h0M874 1687h0M818 1682h0M714 1841h0M748 1594h0M749 1850h0M692 1795h0M902 1892h0M703 2147h0M1017 1622h0M692 1479h0M923 1807h0M1153 1218h0M880 1865h0M1171 1392h0M853 1815h0M906 1466h0M688 1921h0M1177 1156h0M816 2043h0M785 1597h0M1045 1915h0M920 1530h0M770 1616h0M774 1767h0M922 1664h0M1070 1587h0M707 2004h0M873 2103h0M1008 1503h0M771 1987h0M743 1763h0M820 1881h0M1157 1760h0M901 1305h0M778 1828h0M905 1724h0M699 2013h0M898 1718h0M985 1485h0M894 1569h0M782 1685h0M890 1553h0M963 1295h0M700 1941h0M698 2043h0M691 1754h0M760 1754h0M816 1664h0M852 2013h0M893 1635h0M1358 1256h0M1877 835h0M711 1881h0M842 1757h0M697 1948h0M992 1881h0M708 1757h0M753 1620h0M757 2004h0M711 1979h0M799 1639h0M856 1573h0M988 1639h0M712 1767h0M1277 1373h0M856 1909h0M1029 1550h0M1220 1315h0M794 1803h0M718 1963h0M965 1563h0M807 1897h0M1274 1427h0M708 1744h0M746 1836h0M706 1948h0M870 1498h0M1083 1487h0M988 1631h0M724 1750h0M920 1729h0M897 1715h0M1036 2043h0M765 1855h0M816 1987h0M711 1875h0M818 1850h0M748 1803h0M1571 1221h0M779 1589h0"/>
<path stroke="#66C2A5" d="M893 2054h0M812 1892h0M868 1747h0M703 2245h0M838 1935h0M886 1875h0M1105 1694h0M781 2089h0M1304 1538h0M758 2054h0M856 1788h0M1126 1604h0M826 1436h0M1003 1721h0M772 1881h0M821 2181h0M1073 1594h0M750 1865h0M1038 1845h0M976 1799h0M762 1915h0M1299 1495h0M978 1442h0M1345 1493h0M760 1995h0M842 2023h0M685 2116h0M746 2065h0M922 1823h0M729 1744h0M785 1987h0M1037 1777h0M821 1948h0M855 1860h0M732 2054h0M870 1799h0M733 2116h0M733 1948h0M1404 1351h0M745 2004h0M1004 1770h0M1041 2033h0M727 2013h0M990 1795h0M777 1987h0M809 2013h0M1149 1490h0M902 2103h0M957 2023h0M1153 1492h0M950 1807h0M827 2222h0M704 1915h0M868 1784h0M1019 1697h0M740 2077h0M909 2271h0M988 1623h0M897 1726h0M744 1995h0M1001 1741h0M698 1971h0M1529 1503h0M1463 1384h0M893 1948h0M1258 1450h0M1400 1431h0M907 1886h0M758 2054h0M1146 1584h0M978 1767h0M784 1935h0M727 1979h0M693 2116h0M724 1956h0M717 2131h0M756 2054h0M737 1892h0M771 2043h0M947 2023h0M841 1897h0M842 1836h0M833 1928h0M905 1886h0M852 1735h0M789 2043h0M686 2103h0M761 1979h0M789 1971h0M1054 1645h0M932 1732h0M1032 1780h0M1092 1666h0M711 2043h0M722 1941h0M997 1791h0M1000 1576h0M732 1995h0M1016 1741h0M714 1915h0M776 1979h0M710 1860h0M746 2181h0M694 1886h0M1093 1713h0M1458 1446h0M844 1803h0M1105 1664h0M802 1780h0M1232 1641h0M720 2023h0M866 1799h0M999 1850h0M741 1987h0M999 1941h0M1124 1699h0M688 2131h0M989 1941h0M727 1921h0M1106 1623h0M1050 1799h0M1197 1415h0M1130 1623h0M835 1875h0M1235 1578h0M894 2065h0M843 2023h0M1907 992h0M705 1956h0M916 1881h0M694 2201h0M718 2023h0M827 1948h0M805 1865h0M912 2116h0M901 1845h0M849 1886h0M706 1987h0M711 1987h0M977 1870h0M816 2103h0"/>
<path stroke="#8DA0CB" d="M783 1892h0M1209 1903h0M1187 1357h0M1155 1545h0M771 1757h0M818 1767h0M984 1870h0M722 1865h0M1108 1444h0M781 1897h0M716 2331h0M850 1651h0M861 1881h0M1155 1570h0M835 2181h0M784 1657h0M811 1629h0M754 1935h0M735 2299h0M766 1855h0M1201 1511h0M746 2043h0M718 2023h0M735 2131h0M840 2103h0M749 1995h0M769 1828h0M810 2004h0M738 2245h0M964 1881h0M765 2103h0M923 1963h0M819 1987h0M837 1870h0M883 1948h0M1233 1534h0M941 1915h0M718 2131h0M710 2054h0M721 2103h0M730 2131h0M916 1841h0M690 2065h0M934 1987h0M833 1956h0M1313 1521h0M805 2013h0M988 1757h0M699 1865h0M786 2077h0M1192 1595h0M762 2023h0M830 2116h0M885 1979h0M741 1971h0M1039 1718h0M687 2116h0M1013 1705h0M824 2033h0M840 1671h0M1088 1865h0M1191 1553h0M1254 1541h0M869 2245h0M1276 1599h0M1061 2004h0M976 2245h0M693 2222h0M725 2222h0M879 1655h0M1237 1770h0M985 2077h0M775 1886h0M862 1777h0M989 1735h0M1241 1166h0M698 2299h0M732 2004h0M781 1680h0M794 1897h0M798 1971h0M912 2103h0M1069 1995h0M744 2103h0M728 2089h0M793 2043h0M964 1705h0M774 2004h0M1077 1432h0M846 1941h0M880 1886h0M787 2222h0M875 1897h0M1124 1832h0M740 1881h0M810 1629h0M802 1971h0M999 1886h0M699 2163h0M817 1773h0M715 2181h0M712 2181h0M689 2147h0M788 2033h0M900 1572h0M1417 1303h0M753 2043h0M797 1832h0M1244 1526h0M986 2077h0M1263 1267h0M949 1875h0M696 1956h0M743 2131h0M744 2077h0M1142 1620h0M1085 1875h0M1020 1597h0M738 2163h0M697 2369h0M1479 1256h0M717 1870h0M797 2054h0M899 1836h0M932 1915h0M715 2077h0M954 1773h0M1209 1582h0M696 2222h0M735 1754h0M976 1705h0M696 2013h0M924 2013h0M834 1750h0M980 1865h0M709 2089h0M770 1941h0M812 1892h0M716 2331h0M772 2147h0M728 1971h0M1158 1643h0M867 1928h0M782 1623h0M897 1865h0M740 1811h0M1007 1836h0M807 1724h0M1271 1541h0M1037 1819h0M1090 1819h0M795 2116h0M865 1892h0M1251 1836h0M785 1928h0M1089 1870h0M1091 1713h0M749 1909h0M1146 1928h0M721 2077h0M930 1795h0M751 1956h0M878 1855h0M868 1915h0M809 1845h0M1124 1607h0M748 2116h0M949 2065h0M902 1788h0M1166 1543h0M710 2245h0M956 1572h0M884 1699h0M718 2089h0M836 1948h0M695 2163h0M792 2013h0M721 2043h0M1069 1979h0M790 1780h0M816 2043h0M737 1897h0M885 1795h0M956 1850h0M928 2033h0M937 1941h0M1207 1465h0M739 1921h0M827 1979h0M885 2033h0M710 2054h0M880 1662h0M722 2077h0M1040 1909h0M1085 1875h0M804 2222h0M925 1865h0M830 1921h0M782 2299h0M698 2163h0M806 1886h0M776 1623h0M902 2103h0M745 1987h0M1090 1547h0M728 2065h0M871 1602h0M828 2299h0M760 2004h0M821 1702h0M1303 1165h0M731 1845h0M1256 1513h0M777 2103h0M1000 1815h0M845 1791h0M1082 1616h0M688 2181h0M730 2131h0M721 1956h0M1084 1865h0M915 2077h0M1524 1584h0M710 1935h0M847 2054h0M1326 1692h0M705 1941h0M741 1836h0M816 2331h0M762 2245h0M843 2023h0M804 2147h0M734 2089h0M700 1855h0M689 2369h0M1007 1563h0M946 1760h0M728 2201h0"/>
<path stroke="#A6D854" d="M913 2013h0M1431 1329h0M745 2043h0M1656 1267h0M753 1760h0M695 2103h0M735 2271h0M893 1791h0M1468 1085h0M691 2201h0M928 1836h0M704 2054h0M784 1909h0M741 1807h0M1015 1823h0M924 1948h0M891 1760h0M738 2201h0M1055 1604h0M809 1971h0M734 2131h0M988 2116h0M771 2033h0M708 1987h0M979 1604h0M720 1948h0M725 2147h0M742 2163h0M713 2201h0M1263 1550h0M782 1956h0M1034 1855h0M900 1694h0M959 1767h0M720 2043h0M951 1828h0M719 2065h0M792 2065h0M1100 1488h0M1066 1673h0M776 2033h0M961 1699h0M745 2077h0M809 1811h0M919 1662h0M1346 1668h0M1117 1637h0M883 2181h0M739 2331h0M1066 1732h0M728 2103h0M1047 1699h0M892 1702h0M866 1909h0M1027 1892h0M875 1682h0M784 2089h0M949 1870h0M765 2201h0M829 1915h0M776 2103h0M708 2077h0M1120 1687h0M818 2013h0M999 1514h0M701 1673h0M717 2147h0M848 2065h0M1103 1680h0M1058 1741h0M938 1494h0M696 2201h0M835 2089h0M1090 1534h0M971 1600h0M766 2004h0M952 1732h0M990 2116h0M689 2116h0M729 2077h0M955 1535h0M852 1811h0M781 1815h0M852 1948h0M1047 1757h0M1241 1407h0M799 2013h0M709 2089h0M1130 1897h0M1128 1841h0M854 2023h0M905 1788h0M790 2054h0M1036 1697h0M820 1892h0M1178 1444h0M1008 1735h0M838 1921h0M998 1875h0M1797 851h0M690 2163h0M1212 1296h0M738 2054h0M1195 1235h0M732 1897h0M814 1639h0M855 2043h0M734 1915h0M870 2147h0M785 1702h0M754 2077h0M818 1710h0M715 2013h0M834 1956h0M897 1963h0M869 1987h0M764 2023h0M701 2013h0M685 2103h0M793 1850h0M709 1971h0M1030 1689h0M700 2004h0M697 2245h0M1182 1582h0M753 1979h0M822 1935h0M753 1995h0M1106 1579h0M1027 1680h0M701 2054h0M820 2181h0M859 1897h0M853 2116h0M737 1903h0M956 1886h0M968 1886h0M829 1855h0M829 2054h0M743 2065h0M817 1757h0M918 1886h0M717 2089h0M688 2271h0M1010 2013h0M890 1956h0M892 1773h0M892 1915h0M793 2065h0M688 2163h0M845 1823h0M721 2103h0M955 1687h0M711 2033h0M852 2103h0M835 1767h0M719 1897h0M975 1836h0M906 1575h0M1247 1487h0M689 2222h0M814 2033h0M919 1777h0M728 1909h0M1085 1726h0M795 1823h0M789 2103h0M702 2201h0M1216 1581h0M1007 1799h0M1048 1763h0M879 1760h0M705 2245h0M746 2222h0M699 2163h0M923 1612h0M721 2043h0M938 1741h0M863 2201h0M1361 1444h0M1147 1724h0M727 1921h0M712 2089h0M931 1718h0M776 2103h0M800 1971h0M1719 1056h0M720 2131h0M723 2089h0M1088 1770h0M700 1915h0M897 2013h0M778 1909h0M1239 1587h0M1075 1763h0M887 1815h0M965 1828h0M736 2116h0M923 1791h0M940 1788h0M1052 1639h0M712 2222h0M924 1935h0M792 1903h0M798 1909h0M691 1915h0M877 1850h0M1085 1671h0M872 1815h0M1024 1828h0M724 1832h0M846 2271h0M836 2103h0M867 1784h0M964 1523h0M940 1791h0M866 1811h0M732 2116h0M956 1754h0M863 1832h0M1253 1507h0M883 1979h0M757 1948h0M773 1860h0M702 2201h0M763 1881h0M878 2004h0M747 1915h0M891 1903h0M801 2033h0M690 1995h0M697 2131h0M799 1921h0M925 1948h0M698 2103h0M1351 1347h0M726 2201h0M693 2116h0M940 1791h0M752 1784h0M1270 1440h0M721 1941h0M694 1823h0M752 2201h0M716 2369h0M780 1795h0M853 1860h0M740 2271h0M750 2103h0M1269 1359h0M785 1705h0M866 2065h0M909 1744h0M824 1941h0M814 1971h0M864 1724h0M754 1811h0M853 1915h0M711 1979h0M838 1870h0M818 1948h0M816 2116h0M765 1956h0M1370 1264h0M700 1956h0M744 2004h0M808 2116h0M749 1956h0M926 1963h0M802 1941h0M719 2103h0M846 1995h0M749 2103h0M909 2004h0M746 1987h0M820 1948h0M742 1915h0M1049 1735h0M922 1664h0M1424 1253h0M1121 1499h0M1400 1330h0M746 1963h0M777 2077h0M908 2013h0M934 1729h0M1163 1780h0M873 1815h0M702 2065h0M920 1855h0M875 1836h0M700 2331h0M768 1909h0M687 2116h0M709 2065h0M870 1956h0M847 2245h0M966 1645h0M899 1803h0M695 1921h0M898 1732h0M729 1788h0M834 1892h0M1124 1557h0M781 2271h0M906 1921h0M731 1865h0M867 1795h0M803 2147h0M686 2103h0M1232 1338h0M807 1788h0M987 1780h0M1001 1799h0M731 1935h0M822 1956h0M690 1903h0M827 1553h0M775 1963h0M1146 1635h0M739 2181h0M1033 1855h0M686 2163h0M790 2033h0M948 1948h0M1078 1647h0M1108 1741h0M1007 1757h0M1162 1671h0M1001 1668h0M989 1799h0M1044 1875h0M810 2013h0M690 2163h0M1296 1479h0M1064 1777h0M793 2271h0M838 2181h0M844 1680h0M776 1921h0M1047 1682h0M1033 1623h0M755 2299h0M1083 1599h0M781 2054h0M959 1777h0M1556 1296h0M963 1928h0M798 2033h0M786 2065h0M905 1935h0M689 2033h0M749 2077h0M763 1886h0M712 2054h0M753 1956h0M739 1987h0M842 1956h0M801 2089h0M836 1956h0M787 1870h0M933 1892h0M867 2033h0M1225 1440h0M820 1777h0M754 2163h0M1076 1524h0M947 1841h0M912 1692h0M690 2201h0M1521 1365h0M778 2131h0M1024 1807h0M887 1963h0M742 2245h0M692 1903h0M884 2004h0M1193 1590h0M1028 1462h0M716 2023h0M1844 934h0M791 1832h0M1372 1627h0M711 2116h0M876 1875h0M1157 1589h0M824 2065h0M697 2201h0M861 1979h0M904 1803h0M705 2181h0M947 1823h0M772 1979h0M733 2065h0M844 1875h0M735 2089h0M994 1773h0M1151 1547h0M819 1860h0M1206 1699h0M1421 1343h0M693 2023h0M722 2065h0M1130 1729h0M962 1886h0M994 1987h0M767 2033h0M1054 1811h0M687 2077h0M761 2004h0M702 2147h0M732 2103h0M943 1828h0M689 2181h0M1194 1411h0M796 1921h0M867 2043h0M810 1823h0M899 2004h0M1702 1143h0M685 1995h0M788 2103h0M1007 1635h0M855 1763h0M774 2033h0M808 2077h0M738 2089h0M688 2163h0M1165 1519h0M888 2089h0M867 1855h0M707 1770h0M1181 1795h0M758 2116h0M708 1777h0M1070 1607h0M1260 1550h0M936 1903h0M990 1892h0M879 1760h0M883 1979h0M775 1935h0M995 1677h0M1393 1176h0M717 1915h0M985 1875h0M707 2077h0M707 2369h0M959 2023h0M820 2077h0M733 1971h0M706 1870h0M866 1921h0M854 1799h0M1035 1815h0M1135 1699h0M775 1928h0M718 1915h0M689 2089h0M745 2023h0M845 1819h0M705 2222h0M820 2103h0M1016 1815h0M914 1850h0M1001 1870h0M793 1870h0M830 1860h0M724 2245h0M820 1860h0M716 2222h0M884 1971h0M952 1668h0M1030 1682h0M801 2299h0M886 2116h0M710 2163h0M761 1987h0M978 1971h0M1362 1530h0M838 1987h0M847 1995h0M907 1668h0M1092 1673h0M769 2043h0M991 1987h0M721 1903h0M1013 1689h0M968 1754h0M690 1713h0M836 1948h0M933 1832h0M714 2201h0M692 2077h0M764 1791h0M1093 1750h0M1153 1662h0M871 2131h0M1181 1524h0M767 1647h0M810 1850h0M816 1995h0M701 2271h0M751 1979h0M746 1971h0M848 1622h0M838 1819h0M722 1799h0M922 1777h0M744 2369h0M800 2054h0M785 1915h0M754 2222h0M1584 1242h0M689 1928h0M703 2004h0M977 1832h0M798 2089h0M1174 1549h0M1120 1707h0M726 2043h0M727 1971h0M719 2103h0M750 2116h0M702 2033h0M870 1971h0M782 2089h0M769 1892h0M953 1845h0M809 1870h0M747 2004h0M869 1845h0M774 2131h0M1384 1268h0M815 1948h0M689 2033h0M853 2222h0M1606 1030h0M1345 1456h0M950 1803h0M914 1860h0M1456 1163h0M1242 1453h0M1111 1811h0M854 1971h0M1092 1514h0M807 1897h0M941 1724h0M905 1767h0M1041 1963h0M707 1928h0M790 2089h0M785 2013h0M819 1675h0M965 1841h0M794 1770h0M1319 1403h0M1212 1518h0M836 2013h0M878 1897h0M870 1941h0M717 1855h0M727 2201h0M1249 1609h0M771 2181h0M755 2103h0M807 2054h0M876 1832h0M688 2163h0M837 1979h0M934 1819h0M1019 1582h0M1047 1941h0M909 1666h0M1221 1561h0M1366 1437h0M744 2222h0M1204 1483h0M724 2065h0M1065 1795h0M872 1921h0M1020 1685h0M771 1963h0M730 2271h0M699 1956h0M783 2116h0M695 1850h0M792 1941h0M759 1850h0M901 1811h0M935 1941h0M697 1935h0M1040 1845h0M1000 1956h0M704 1941h0M836 1694h0M862 2033h0M1719 1018h0M731 2023h0M879 2023h0M1592 1127h0M868 1773h0M784 2331h0M694 2163h0M928 1721h0M761 1995h0M1163 1554h0M836 1705h0M1130 1732h0M1163 1605h0M737 2331h0M742 2116h0M1022 1841h0M775 1956h0"/>
<path stroke="#FC8D62" d="M974 1587h0M814 2147h0M1038 1763h0M739 2299h0M785 1655h0M1153 1545h0M786 1995h0M1292 1463h0M780 2089h0M897 1780h0M794 1935h0M752 1935h0M894 1875h0M1834 728h0M858 1639h0M1029 1622h0M963 1645h0M1183 1386h0M878 1791h0M720 1971h0M851 1855h0M988 1971h0M804 1666h0M1144 1732h0M705 2054h0M877 1832h0M1062 1594h0M688 1620h0M1115 1699h0M973 1511h0M1560 1136h0M1174 1517h0M767 1903h0M741 2077h0M908 1828h0M920 2077h0M736 2023h0M942 2023h0M1604 1027h0M1243 1338h0M897 1649h0M1019 1845h0M824 1841h0M700 1928h0M1437 1224h0M1092 1534h0M739 1784h0M1130 1375h0M970 1680h0M780 2033h0M946 1760h0M832 1928h0M838 1941h0M771 1845h0M724 1815h0M965 1465h0M1244 1523h0M698 2054h0M945 1729h0M926 1811h0M798 1897h0M826 1915h0M707 1791h0M1623 972h0M728 1795h0M816 2201h0M1403 1304h0M699 2013h0M688 2103h0M1750 1145h0M983 1666h0M836 2043h0M919 1915h0M707 2089h0M869 1757h0M1869 814h0M845 1763h0M741 2299h0M948 1622h0M876 1892h0M768 1971h0M697 2131h0M940 1697h0M772 1828h0M725 1963h0M861 1600h0M1103 1754h0M705 2331h0M691 1811h0M785 1741h0M835 1807h0M959 1530h0M783 1726h0M1060 1589h0M948 1735h0M782 1921h0M807 1747h0M714 2004h0M934 1803h0M1521 998h0M906 1836h0M1273 1066h0M761 2023h0M713 1505h0M708 1738h0M809 1424h0M1880 828h0M1025 1639h0M1201 1570h0M739 2043h0M792 1928h0M992 2004h0M992 1760h0M743 1935h0M748 2043h0M1235 1410h0M784 1732h0M810 1694h0M909 1744h0M845 1546h0M1127 1325h0M847 2023h0M859 1639h0M762 1773h0M730 1850h0M774 1732h0M820 1963h0M1227 1560h0M828 1903h0M1220 1390h0M838 2033h0M874 1941h0M1574 1163h0M807 1649h0M753 1956h0M786 1928h0M754 1860h0M908 1553h0M836 1713h0M930 2033h0M711 2033h0M837 1956h0M705 2043h0M1007 1675h0M1769 1099h0M713 1948h0M887 1773h0M873 1694h0M689 2065h0M839 1979h0M747 1757h0M722 1875h0M853 1777h0M1245 1424h0M760 2033h0M773 1995h0M1543 1104h0M798 1921h0M791 1963h0M738 2013h0M733 1493h0M1046 1530h0M702 1915h0M995 1760h0M1280 1240h0M828 1713h0M755 2147h0M748 1897h0M716 2033h0M708 2033h0M838 1705h0M714 2013h0M709 1811h0M1047 1653h0M722 1860h0M835 1795h0M704 2116h0M702 2369h0M752 1909h0M787 1921h0M1125 1512h0M988 1643h0M780 1892h0M1006 1599h0M698 2013h0M1238 1416h0M744 1726h0M735 1855h0M758 2054h0M1280 1418h0M909 1784h0M927 2054h0M707 1979h0M705 2013h0M688 1760h0M853 1865h0M724 1928h0M1076 1760h0M717 1870h0M687 2181h0M1028 1892h0M747 1710h0M843 1673h0M1705 1073h0M751 1979h0M747 1803h0M706 2089h0M840 1870h0M1230 1584h0M715 1915h0M1433 1171h0M694 2054h0M1165 1547h0M788 1928h0M826 2181h0M944 1629h0M727 1625h0M786 2131h0M703 2163h0M947 1845h0M935 2033h0M771 1909h0M730 1747h0M714 1780h0M1070 1473h0M750 1921h0M717 1643h0M1142 1554h0M773 1956h0M872 1845h0M1052 1471h0M701 1815h0M967 1604h0M1431 1169h0M822 1747h0M1153 1622h0M877 1631h0M781 2013h0M728 1963h0M891 1903h0M695 2089h0M774 1819h0M814 2033h0M702 2131h0M810 1892h0M720 1921h0M747 1963h0M803 1987h0M882 1754h0M761 1909h0M1174 1597h0M821 1757h0M709 2004h0M697 2054h0M706 1948h0M814 2023h0M785 1963h0M704 1921h0M975 1721h0M981 1479h0M1034 1726h0M725 1875h0M790 1732h0M850 1710h0M1071 1635h0M1065 1599h0M1040 1819h0M770 1928h0M1146 1343h0M916 1738h0M752 2013h0M904 1653h0M780 2023h0M971 1735h0M970 1622h0M934 2065h0M1106 1579h0M728 1903h0M941 1807h0M1119 1633h0M852 1757h0M998 1682h0M1136 1464h0M1062 1589h0M753 1845h0M863 1744h0M724 2004h0M951 1909h0M798 1841h0M1007 1566h0M884 1811h0M802 1819h0M904 1735h0M1255 1414h0M767 1963h0M930 1892h0M917 1773h0M785 1807h0M943 1886h0M1184 1543h0M788 1819h0M1473 1433h0M862 1841h0M697 2065h0M1071 1378h0M996 1784h0M867 1803h0M1448 1193h0M834 1941h0M791 1795h0M931 1915h0M1397 1196h0M816 2147h0M753 1881h0M754 1928h0M889 1657h0M1158 1664h0M730 1710h0M808 1462h0M743 1971h0M786 1948h0M704 2054h0M691 2103h0M956 1915h0M908 1747h0M737 1995h0M832 1875h0M744 1897h0M892 1595h0M745 2147h0M723 1892h0M1101 1490h0M761 2033h0M855 1903h0M1336 1393h0M742 1941h0M887 1995h0M1266 1702h0M1029 1770h0M854 1828h0M740 2065h0M767 1921h0M1347 1391h0M772 2201h0M729 1903h0M774 2054h0M881 1581h0M744 2131h0M761 1979h0M850 1718h0M917 1682h0M906 1845h0M765 1845h0M918 1563h0M850 1909h0M792 1881h0M1144 1668h0M730 2131h0M705 1651h0M1250 1275h0M890 2054h0M738 1987h0M711 2023h0M880 1915h0M1019 1572h0M1468 959h0M765 1671h0M769 1845h0M688 1979h0M904 1941h0M848 1886h0M751 1655h0M1433 1355h0M816 1542h0M739 2299h0M739 1744h0M761 1892h0M904 1860h0M846 1928h0M857 1836h0M1020 1664h0M832 1979h0M962 1718h0M870 1705h0M756 2004h0M818 1795h0M1022 1653h0M1028 1757h0M1118 1629h0M855 1697h0M1168 1664h0M689 1909h0M1003 1881h0M981 1641h0M731 2116h0M1037 1518h0M759 1791h0M1112 1631h0M724 2299h0M1695 1050h0M1119 1612h0M758 1971h0M1027 1738h0M701 1633h0M692 1941h0M788 1570h0M937 1909h0M688 1995h0M1313 1293h0M1013 1699h0M757 2013h0M794 1979h0M889 1823h0M723 2033h0M952 1987h0M795 2023h0M730 2089h0M742 2004h0M1368 1424h0M717 1777h0M718 2023h0M701 2004h0M1605 1281h0M1293 1367h0M1001 1599h0M840 1784h0M721 1744h0M848 1702h0M769 1735h0M741 1941h0M1491 1234h0M730 1892h0M823 1815h0M846 1754h0M1401 1609h0M769 1971h0M688 1841h0M1280 1422h0M1037 1657h0M1064 1707h0M865 1795h0M774 1909h0M953 1823h0M777 2054h0M816 1948h0M800 1948h0M983 1561h0M985 1566h0M774 2103h0M1305 1244h0M1234 1429h0M829 1715h0M1002 1653h0M875 1795h0M747 1971h0M809 1697h0M842 1903h0M784 1979h0M806 1886h0M730 1799h0M739 2065h0M719 2004h0M799 1892h0M809 2131h0M704 2103h0M891 1697h0M1043 1855h0M852 1881h0M1018 1760h0M844 1909h0M857 1897h0M744 1995h0M933 1682h0M786 1841h0M1299 1298h0M745 1569h0M700 2054h0M924 1757h0M743 1875h0M922 1599h0M787 1815h0M897 1815h0M764 2116h0M1192 1657h0M1055 1612h0M731 1886h0M754 1832h0M772 2023h0M1081 1600h0M798 1948h0M1243 1600h0M836 1841h0M690 2023h0M873 1841h0M734 1935h0M693 1963h0M861 1721h0M744 2043h0M1142 1692h0M705 1819h0M731 1956h0M819 2004h0M738 1404h0M1136 1481h0M867 1897h0M746 2116h0M791 1870h0M889 1979h0M1075 1482h0M1010 1784h0M701 1903h0M739 1987h0M754 1909h0M861 2004h0M731 1928h0M830 1732h0M689 2077h0M1256 1360h0M719 1987h0M704 1948h0M787 2116h0M799 1979h0M900 1855h0M1075 1724h0M692 2201h0M975 1594h0M1050 1444h0M1027 1584h0M697 2181h0M748 1948h0M1548 1045h0M1182 1364h0M835 1841h0M757 1948h0M809 2089h0M758 2245h0M1028 1870h0M776 2065h0M1040 1705h0M1170 1543h0M833 1836h0M735 2103h0M743 2013h0M777 1832h0M795 1713h0M804 1870h0M725 1875h0M709 1886h0M1012 1316h0M915 1850h0M1011 1575h0M960 1788h0M1329 1235h0M734 1845h0M951 1860h0M699 1760h0M1064 1647h0M715 1979h0M826 1860h0M776 1777h0M709 2201h0M1103 1541h0M793 1760h0M745 2023h0M1503 1049h0M796 2077h0M1175 1625h0M1440 1228h0M937 1807h0M828 1963h0M911 1815h0M712 2043h0M893 1616h0M1536 1179h0M824 1892h0M726 1841h0M928 1685h0M844 1855h0M944 1744h0M685 2245h0M880 1941h0M831 1760h0M1043 1832h0M796 2089h0M1096 1604h0M797 1815h0M839 1828h0M1345 1207h0M777 2013h0M800 1799h0M702 2023h0M1031 1371h0M802 1705h0M872 2004h0M1166 1556h0M1298 1523h0M705 1915h0M900 1909h0M812 1979h0M729 2201h0M759 1865h0M782 1903h0M767 2065h0M689 2023h0M1038 1979h0M1005 1788h0M712 1956h0M890 1707h0M846 1811h0M1432 1382h0M704 1855h0M728 1788h0M850 1788h0M717 2077h0M1191 1428h0M822 1629h0M849 1668h0M946 1738h0M769 2201h0M1002 1875h0M741 1747h0M1258 1587h0M722 1979h0M686 1987h0M743 1987h0M773 1870h0M1181 1233h0M707 2013h0M822 1692h0M918 1631h0M723 1664h0M1110 1633h0M765 2054h0M819 1935h0M967 1729h0M1204 1239h0M823 1750h0M894 1881h0M1272 1250h0M818 1724h0M872 1897h0M1008 2299h0M1032 1664h0M874 1618h0M909 1757h0M686 2065h0M1201 1570h0M702 2033h0"/>
<path stroke="#E78AC3" d="M771 1941h0M1000 1767h0M1309 1267h0M940 1525h0M1263 1356h0M986 1754h0M768 1694h0M1037 1578h0M1079 1561h0M764 1921h0M738 1741h0M934 1534h0M1002 1641h0M887 1620h0M1580 1350h0M891 1673h0M896 1653h0M731 1517h0M768 1770h0M727 1795h0M1071 1520h0M740 1819h0M1260 1326h0M945 1699h0M1451 1239h0M820 1687h0M754 1639h0M819 1803h0M786 1653h0M1279 1290h0M748 1845h0M694 1963h0M1067 1647h0M740 1860h0M1328 1485h0M877 1713h0M975 1302h0M839 1886h0M1715 1082h0M685 1845h0M702 1995h0M804 1886h0M704 1909h0M1157 1389h0M852 1747h0M714 1875h0M769 1721h0M1069 1673h0M1236 1489h0M949 1666h0M1389 1438h0M767 1757h0M1163 1542h0M691 2116h0M1125 1443h0M726 1569h0M996 1664h0M1282 1324h0M825 1620h0M873 1897h0M1148 1546h0M723 1760h0M723 1892h0M748 1666h0M935 1582h0M787 1607h0M745 1828h0M981 1578h0M824 1605h0M1051 1242h0M736 1823h0M1005 1611h0M808 1795h0M723 1841h0M1045 1461h0M727 1915h0M713 2004h0M728 1886h0M741 1803h0M856 1631h0M761 1928h0M800 1811h0M1041 1581h0M701 1963h0M927 1784h0M1494 1369h0M968 1662h0M904 1726h0M699 1903h0M706 1832h0M872 1741h0M879 1697h0M1061 1567h0M724 1819h0M797 1618h0M756 1819h0M768 1892h0M764 1791h0M1085 1470h0M1005 1422h0M699 2181h0M1008 1528h0M739 1543h0M1684 983h0M1118 1680h0M770 2043h0M868 1643h0M821 1845h0M841 1702h0M873 1647h0M687 1757h0M1015 1451h0M1029 1557h0M841 1921h0M948 1689h0M969 1710h0M905 1453h0M806 1780h0M806 1477h0M712 1614h0M759 1903h0M704 1799h0M703 1915h0M838 2103h0M715 1738h0M885 1855h0M724 1855h0M1108 1435h0M753 1763h0M953 1643h0M694 1915h0M943 1473h0M733 1741h0M916 1566h0M846 1557h0M877 1713h0M856 1519h0M878 1875h0M714 1645h0M1285 1273h0M732 1881h0M696 2147h0M739 1836h0M752 1903h0M769 1616h0M1359 1164h0M750 1850h0M822 1845h0M861 1845h0M756 1710h0M745 1832h0M958 1521h0M805 1547h0M928 1597h0M1084 1505h0M691 2054h0M839 1903h0M1356 1314h0M852 1431h0M889 1602h0M701 1881h0M763 1803h0M757 1744h0M862 1724h0M841 1757h0M785 1903h0M891 1855h0M929 1735h0M986 1600h0M1261 1609h0M764 1660h0M855 1721h0M799 1647h0M702 2103h0M888 1616h0M1097 1549h0M879 1566h0M848 1870h0M847 1592h0M876 1881h0M908 1556h0M807 1595h0M1181 1599h0M797 1633h0M851 1788h0M1336 1313h0M719 1855h0M828 1795h0M915 1579h0M786 1823h0M712 1836h0M892 1803h0M807 1819h0M992 1747h0M701 1754h0M1073 1538h0M823 1886h0M751 1807h0M718 1726h0M915 1437h0M854 1956h0M696 1735h0M969 1707h0M1971 953h0M1423 1312h0M867 1815h0M1204 1352h0M871 1850h0M687 1799h0M700 1823h0M854 1641h0M734 1819h0M1006 1486h0M901 1537h0M686 1903h0M834 1732h0M848 1791h0M731 2065h0M891 1689h0M889 1657h0M690 1777h0M1002 1584h0M713 1799h0M1181 1511h0M814 1702h0M789 2245h0M829 1623h0M1097 1422h0M708 2077h0M710 1744h0M1235 1493h0M698 1875h0M1707 780h0M785 1860h0M914 1680h0M686 1605h0M696 1860h0M818 1521h0M873 1921h0M753 2331h0M693 1995h0M755 1788h0M856 1788h0M758 1760h0M696 1828h0M815 1643h0M901 1715h0M964 1689h0M742 1682h0M943 1473h0M879 1713h0M771 1845h0M933 1485h0M833 1744h0M1041 1795h0M1151 1258h0M798 1735h0M823 1784h0M753 1915h0M865 1721h0M935 1550h0M805 1754h0M706 2116h0M705 1689h0M823 1788h0M963 1680h0M700 1921h0M1098 1432h0M830 1860h0M850 1741h0M791 1788h0M712 1741h0M746 1845h0M739 2043h0M1534 1210h0M693 1915h0M904 1599h0M718 1702h0M755 1948h0M943 2089h0M1337 1291h0M827 1763h0M916 1750h0M777 1892h0M1122 1590h0M1068 1345h0M690 1469h0M769 1836h0M731 1707h0M714 1815h0M729 1811h0M939 1614h0M743 1865h0M721 1935h0M983 1732h0M814 1886h0M727 2023h0M734 1897h0M849 1597h0M724 1622h0M1007 1554h0M939 1488h0M714 1823h0M986 1687h0M789 1915h0M742 1699h0M699 1689h0M1005 1300h0M809 1738h0M694 1845h0M798 1763h0M1125 1597h0M703 1971h0M718 1995h0M1000 1795h0M691 1860h0M803 1819h0M908 1747h0M718 1963h0M947 1763h0M728 1633h0M697 1828h0M719 1828h0M753 2004h0M917 1595h0M699 1909h0M1025 1655h0M719 1582h0M1096 1462h0M841 1741h0M700 1773h0M707 1935h0M1056 1780h0M747 1903h0M826 1718h0M1439 1355h0M1288 1384h0M1016 1627h0M871 1520h0M969 1505h0M979 1777h0M741 1677h0M843 1694h0M842 1707h0M854 1726h0M1145 1578h0M795 1402h0M825 1956h0M725 1713h0M1507 1204h0M1240 1362h0M706 1780h0M1038 1760h0M1010 1545h0M705 1897h0M982 1627h0M798 1595h0M695 1807h0M953 1956h0M844 1699h0M687 1979h0M837 1799h0M725 1819h0M830 1763h0M778 1581h0M766 1633h0M790 1770h0M919 1754h0M1266 1431h0M754 1971h0M861 1767h0M742 1807h0M815 1909h0M866 1757h0M787 1921h0M1951 935h0M1002 1732h0M892 1855h0M800 1705h0M806 1767h0M688 2004h0M769 2004h0M804 1995h0M763 1886h0M1110 1528h0M862 1832h0M780 1799h0M782 1803h0M982 1710h0M788 1870h0M714 1865h0M771 1841h0M724 1841h0M887 1682h0M1150 1530h0M732 1897h0M763 1496h0M1516 1182h0M813 1609h0M736 1892h0M821 1791h0M724 1903h0M832 1763h0M1533 1220h0M730 2077h0M882 1625h0M1173 1458h0M715 1987h0M1081 1581h0M958 1713h0M852 1886h0M699 1784h0M750 1757h0M886 1715h0M797 2116h0M747 1956h0M710 1729h0M974 1569h0M706 2163h0M787 1732h0M864 1550h0M778 1697h0M814 1689h0M718 1941h0M719 1941h0M964 1404h0M739 1956h0M699 1941h0M2122 852h0M935 1531h0M922 2013h0M1194 1336h0M836 1713h0M854 1729h0M915 1511h0M704 1870h0M854 1735h0M968 1549h0M896 1763h0M694 1963h0M1371 1441h0M778 1915h0M705 1850h0M870 1557h0M1104 1437h0M845 1576h0M807 2013h0M1552 1285h0M706 1653h0M1647 983h0M760 1587h0M987 1738h0M956 1546h0M790 1909h0M1202 1468h0M821 1671h0M702 2043h0M981 1963h0M882 1738h0M740 1860h0M871 1680h0M875 1675h0M703 1732h0M706 1995h0M764 1845h0M709 1705h0M989 1747h0M887 1647h0M1102 1699h0M720 2043h0M968 1747h0M832 1582h0M1260 1560h0M713 1903h0M735 1881h0M883 1692h0M808 1823h0M950 1875h0M803 1881h0M766 1770h0M693 1828h0M756 1732h0M708 1979h0M761 1641h0M743 1903h0M768 1635h0M758 1860h0M902 1903h0M1076 1445h0M986 1718h0M1087 1566h0M788 1832h0M746 1366h0M839 1463h0M886 1526h0M1013 1506h0M836 1710h0M781 2163h0M1197 1327h0M751 1841h0M1009 1738h0M1136 1689h0M791 1987h0M1394 1196h0M802 1823h0M954 1744h0M820 1633h0M788 1791h0M796 1651h0M816 1694h0M1015 1909h0M1003 1662h0M783 1763h0M710 2013h0M1440 1336h0M804 1747h0M1223 1498h0M911 1456h0M808 1732h0M1568 1180h0M692 2116h0M1207 1464h0M724 1956h0M720 1750h0M767 1729h0M773 1892h0M862 1564h0M721 1897h0M754 1903h0M1217 1538h0M802 1490h0M765 1881h0M733 1657h0M1430 1128h0M698 1819h0M745 1948h0M758 1744h0M882 1754h0M776 2103h0M721 1915h0M1214 1476h0M735 1928h0M1014 1641h0M834 1811h0M931 1767h0M1702 1195h0M728 1987h0M815 1784h0M835 1710h0M1029 1551h0M1025 1507h0M692 1928h0M1411 1326h0M1009 1614h0M806 1662h0M838 1892h0M720 1963h0M1045 1535h0M726 1625h0M1354 1411h0M882 1660h0M764 1915h0M739 1784h0M706 1875h0M812 1788h0M709 1697h0M716 1928h0M846 1651h0M1197 1595h0M737 1463h0M1138 1655h0M1235 1371h0M688 1995h0M731 1909h0M1227 1414h0M1359 1390h0M698 1956h0M1046 1697h0M1010 1257h0M1020 1671h0M898 1506h0M926 2004h0M769 1582h0M781 1664h0M947 1694h0M777 1963h0M931 1948h0M753 1705h0M988 1705h0M734 1948h0M704 2103h0M708 1897h0M953 1639h0M820 1971h0M704 1542h0M716 1738h0M710 1657h0M895 1760h0M1144 1272h0M944 1732h0M857 1579h0M766 1729h0M743 2013h0M1079 1627h0M1124 1378h0M796 1815h0M882 1637h0M855 1558h0M690 2299h0M868 1784h0M869 2147h0M1084 1360h0M904 1710h0M1211 1285h0M820 1760h0M920 1348h0"/>
<path stroke="#66C2A5" d="M695 2131h0M865 2054h0M915 2077h0M1106 1757h0M1004 1832h0M713 1836h0M997 1673h0M731 2181h0M714 1855h0M748 1828h0M856 1697h0M858 1841h0M722 2116h0M801 1881h0M751 2077h0M1045 1948h0M755 2023h0M694 2065h0M833 1791h0M912 1860h0M698 2116h0M717 1963h0M1235 1501h0M895 1629h0M724 1948h0M699 1979h0M1053 1581h0M710 2163h0M917 1841h0M916 1726h0M724 2033h0M692 1963h0M788 2077h0M1138 1668h0M720 2181h0M1109 1697h0M699 2147h0M801 2299h0M1289 1597h0M694 2033h0M820 1850h0M828 1819h0M925 1668h0M972 1767h0M739 2065h0M745 1757h0M686 2054h0M1132 1671h0M735 1788h0M1203 1496h0M1386 1356h0M728 2131h0M734 1897h0M1141 1623h0M731 1948h0M999 1677h0M827 1680h0M778 1987h0M739 2181h0M803 2004h0M1179 1414h0M828 2147h0M1166 1666h0M770 2023h0M926 1903h0M693 1987h0M714 2033h0M764 1870h0M941 1963h0M1037 1892h0M704 2013h0M1011 1850h0M857 2369h0M1177 1594h0M924 1860h0M949 1682h0M781 1505h0M727 2043h0M828 1815h0M698 1807h0M1115 1625h0M1001 1770h0M1422 1219h0M1344 1498h0M763 1956h0M709 1850h0M830 2116h0M869 1803h0M776 2077h0M1159 1496h0M1074 1750h0M995 1803h0M1042 1971h0M794 1803h0M785 1832h0M862 1935h0M715 1855h0M693 2089h0M977 1836h0M941 1845h0M717 2116h0M780 1948h0M691 1948h0M1046 1515h0M755 2103h0M1037 1815h0M711 1915h0M983 1614h0M1119 1480h0M730 1928h0M1025 1671h0M686 2054h0M780 1903h0M687 2245h0M700 1963h0M729 1897h0M1610 1358h0M997 1935h0M719 2033h0M796 1685h0M825 1767h0M707 2043h0M716 1948h0M780 2023h0M785 1941h0M948 1971h0M725 2299h0M822 1921h0M733 1963h0M983 1921h0M994 1677h0M686 2065h0M1026 1631h0M1104 1747h0M929 1677h0M706 2043h0M752 1909h0M876 1754h0M711 1956h0M692 2131h0M1279 1579h0"/>
<path stroke="#8DA0CB" d="M821 1841h0M1022 1631h0M779 1803h0M765 2271h0M1464 1324h0M726 2181h0M1149 1558h0M2471 471h0M872 1715h0M712 2147h0M935 2116h0M968 1682h0M882 1886h0M970 1707h0M761 1724h0M695 2163h0M850 1832h0M733 2222h0M840 1971h0M762 2331h0M843 2043h0M912 1575h0M713 2147h0M1011 1697h0M1026 1860h0M802 1892h0M886 1668h0M705 2413h0M903 1780h0M733 2054h0M718 2065h0M1030 2023h0M799 2147h0M954 1928h0M855 1892h0M689 2116h0M764 2147h0M828 1697h0M1494 1293h0M1160 1556h0M757 1815h0M775 1870h0M736 1897h0M987 1915h0M1123 1841h0M1047 1987h0M1181 1643h0M691 2077h0M685 1921h0M852 2181h0M960 2077h0M692 2065h0M708 1865h0M917 1935h0M969 1875h0M741 1760h0M796 2116h0M1100 1394h0M975 1627h0M787 1948h0M755 2103h0M711 2033h0M832 2013h0M1135 1666h0M867 2077h0M779 1941h0M699 2163h0M956 1941h0M767 2131h0M846 1784h0M706 2116h0M1187 1845h0M1018 2054h0M814 2245h0M890 1823h0M819 2181h0M1146 1485h0M708 1855h0M1552 1481h0M687 2201h0M1060 1935h0M738 2331h0M702 2369h0M720 2013h0M961 1481h0M1237 1750h0M1115 1635h0M736 2163h0M743 2181h0M835 1784h0M732 2299h0M975 1710h0M732 1673h0M801 1935h0M783 2163h0M778 2271h0M776 2245h0M713 1963h0M812 1971h0M770 2131h0M900 1865h0M1019 1618h0M975 1429h0M1100 1682h0M697 1744h0M1091 1349h0M813 1850h0M818 1832h0M883 2116h0M901 1948h0M1129 1664h0M1156 1795h0M975 1819h0M973 1655h0M1165 1694h0M695 1560h0M921 1903h0M794 1897h0M1191 1791h0M1018 1715h0M838 1750h0M872 1897h0M912 1845h0M1003 2023h0M774 2116h0M778 1915h0M1687 1079h0M699 2222h0M736 2163h0M863 1721h0M1253 1671h0M891 1586h0M875 1892h0M838 1865h0M787 1819h0M743 2043h0M792 1841h0M814 2163h0M1294 1575h0M728 2116h0M718 1903h0M776 2163h0M1727 1105h0M795 2089h0M746 2201h0M925 1841h0M770 2054h0M728 1948h0M861 1823h0M739 1963h0M718 2089h0M815 2077h0M691 1881h0M886 1845h0M1430 1209h0M743 2004h0M754 1828h0M718 2023h0M854 2271h0M720 2163h0M721 2013h0M1204 1310h0M1155 1607h0M802 2103h0M822 2163h0M705 1788h0M799 1987h0M958 2271h0M691 2181h0M924 1283h0M823 2023h0M825 2181h0M758 1897h0M796 1956h0M799 1995h0M934 1773h0M829 1956h0M691 1987h0M788 1875h0M846 1692h0M781 1915h0M990 1791h0M689 2054h0M838 1971h0M940 1963h0M752 1760h0M817 1979h0M1591 1136h0M849 1707h0M898 1811h0M1180 1770h0M816 1726h0M850 2163h0M871 1841h0M687 2181h0M721 2201h0M862 2033h0M701 1948h0M949 1855h0M724 2299h0M1076 1763h0M945 2023h0M982 1721h0M685 2201h0M912 1948h0M695 1506h0M1131 1538h0M824 1956h0M787 1832h0M700 2116h0M960 1629h0M722 2131h0M962 1941h0M701 1995h0M874 2163h0M1187 1807h0M946 1941h0M1606 1259h0M824 2013h0M687 2013h0M712 2163h0M699 2245h0M852 2023h0M1298 1517h0M780 2013h0M726 2103h0M1218 1575h0M728 1836h0M690 2131h0M720 2103h0M1071 1948h0M939 1948h0M1296 1741h0M746 1524h0M697 2271h0M719 1963h0M997 1724h0M1522 1471h0"/>
<path stroke="#A6D854" d="M817 1941h0M965 2013h0M923 2054h0M989 1811h0M710 1948h0M777 2033h0M761 2116h0M956 1799h0M848 1612h0M790 1819h0M714 2054h0M1020 1903h0M781 1971h0M772 2033h0M702 2103h0M692 2201h0M898 1909h0M711 1987h0M734 2054h0M1066 1718h0M1042 1635h0M853 1760h0M1271 1482h0M1288 1655h0M685 2131h0M1162 1627h0M696 2163h0M938 1881h0M883 1948h0M942 1653h0M1645 1038h0M834 1557h0M798 1941h0M905 1791h0M1008 1757h0M877 1828h0M863 1870h0M714 2299h0M707 1897h0M713 2033h0M1211 1855h0M710 1941h0M855 1850h0M746 1828h0M730 1903h0M796 2054h0M710 2089h0M968 2023h0M799 2116h0M864 2033h0M1034 1237h0M1092 1750h0M753 2245h0M977 1754h0M1071 1594h0M1278 1513h0M738 2089h0M758 1956h0M863 2147h0M747 1971h0M722 1823h0M907 1850h0M807 2131h0M838 2033h0M868 1881h0M839 1963h0M1745 1039h0M1314 1586h0M803 1747h0M777 2054h0M795 2131h0M796 2116h0M864 1715h0M844 2065h0M711 1886h0M1575 1166h0M979 2043h0M762 2023h0M785 2131h0M945 1747h0M850 1948h0M779 1666h0M789 1823h0M1259 1432h0M708 1903h0M770 1987h0M767 2089h0M769 2023h0M852 2201h0M756 2089h0M687 1892h0M722 1897h0M873 1823h0M685 1971h0M921 1760h0M900 1963h0M783 1963h0M813 2013h0M1187 1611h0M1075 1334h0M1028 1599h0M891 1713h0M690 2163h0M714 2201h0M773 1870h0M717 2103h0M711 1987h0M736 2163h0M1372 1182h0M880 1979h0M796 1928h0M1112 1504h0M918 1860h0M795 1870h0M1641 1253h0M729 1971h0M724 2271h0M1005 1664h0M1044 2131h0M804 1897h0M791 1948h0M706 2089h0M712 2023h0M701 2077h0M692 2131h0M789 1948h0M733 2116h0M821 1605h0M1077 1713h0M991 1987h0M720 2222h0M704 2201h0M791 1892h0M928 1777h0M1255 1518h0M781 1763h0M982 2004h0M1002 1850h0M715 2116h0M1139 1721h0M1499 1201h0M810 1963h0M725 1995h0M763 1987h0M701 1928h0M738 2089h0M685 2163h0M839 2033h0M791 1845h0M758 1828h0M901 1850h0M708 2147h0M687 2299h0M691 2103h0M1212 1623h0M719 1995h0M771 2103h0M799 2065h0M1511 1254h0M944 1881h0M879 1875h0M1027 1721h0M780 1780h0M729 1979h0M711 1819h0M807 1941h0M849 1909h0M1017 1791h0M805 1832h0M790 1928h0M798 1788h0M728 1909h0M765 1903h0M814 1811h0M1028 1702h0M919 1860h0M744 2271h0M971 1795h0M769 1995h0M935 1865h0M755 2103h0M799 1870h0M1002 1870h0M944 1886h0M908 1865h0M858 1732h0M687 2147h0M1027 1735h0M702 1956h0M1729 1048h0M1736 752h0M720 2065h0M689 1928h0M938 1963h0M717 2181h0M810 2147h0M952 1647h0M937 1865h0M812 1823h0M685 2201h0M784 1807h0M1116 1440h0M793 2116h0M1003 1724h0M800 2089h0M741 2089h0M972 1754h0M1308 1497h0M854 1909h0M775 1935h0M783 1921h0M760 1699h0M776 2201h0M1272 1442h0M849 2065h0M1195 1791h0M1166 1404h0M783 1963h0M791 1788h0M997 1770h0M1169 1257h0M1175 1597h0M751 2043h0M786 1941h0M1021 1791h0M1072 1677h0M742 2103h0M733 2163h0M1357 1078h0M1062 1592h0M756 2222h0M719 2369h0M710 2033h0M920 1836h0M898 1780h0M759 1504h0M793 1995h0M776 2131h0M847 1657h0M699 2023h0M815 2043h0M969 1963h0M922 1850h0M761 1836h0M959 1770h0M1069 1791h0M699 2065h0M875 1875h0M873 2004h0M1060 1713h0M740 2222h0M714 1971h0M748 2054h0M688 2222h0M874 1627h0M1457 1394h0M856 1881h0M793 1870h0M786 2116h0M773 1741h0M728 2147h0M706 2271h0M774 1987h0M797 2245h0M784 2033h0M721 2089h0M714 1971h0M842 1979h0M1605 1116h0M1076 1476h0M1589 1256h0M708 2054h0M1604 1160h0M830 1757h0M696 1963h0M694 1971h0M742 2023h0M870 1921h0M1023 1651h0M902 2013h0M959 1935h0M840 1963h0M755 2065h0M714 2116h0M1076 1735h0M801 1987h0M699 2201h0M767 2163h0M902 1870h0M852 1823h0M817 1956h0M696 2163h0M1308 1413h0M995 1819h0M752 2054h0M1166 1881h0M780 2147h0M1401 1382h0M698 1897h0M1187 1653h0M735 2131h0M729 1995h0M1546 1225h0M824 1909h0M900 1860h0M737 2089h0M895 1956h0M697 1697h0M749 2089h0M756 2013h0M709 2299h0M935 1870h0M946 1823h0M1345 1109h0M901 1770h0M1349 1531h0M879 1941h0M926 2043h0M1165 1611h0M843 1770h0M840 1956h0M801 1865h0M784 2004h0M873 1941h0M962 1921h0M704 2065h0M934 1892h0M847 2089h0M942 1971h0M707 2116h0M867 1823h0M1218 1398h0M830 2023h0M856 1855h0M712 2065h0M1163 1512h0M698 2201h0M824 1523h0M738 2013h0M766 2089h0M890 1963h0M700 2089h0M892 1689h0M812 1915h0M794 1979h0M804 1935h0M783 2116h0M1021 1886h0M1502 1048h0M737 1948h0M749 2004h0M849 1971h0M691 2089h0M1065 1770h0M696 2043h0M700 1855h0M698 2077h0M738 2245h0M823 1875h0M938 1828h0M710 2054h0M1160 1539h0M1259 1517h0M794 2013h0M735 1948h0M1202 1445h0M843 1979h0M692 2369h0M735 2089h0M783 2131h0M924 1788h0M720 2245h0M974 1788h0M744 1935h0M739 1915h0M763 2163h0M1330 1385h0M805 1886h0M704 2043h0M1172 1579h0M823 1971h0M703 2077h0M776 2245h0M1048 1832h0M699 2131h0M719 1941h0M1231 1694h0M836 1855h0M685 2033h0M732 2222h0M993 1747h0M688 2065h0M863 1763h0M873 1886h0M951 1897h0M747 1948h0M880 2043h0M748 2004h0M878 1836h0M709 1963h0M758 2222h0M954 1836h0M1368 1306h0M772 1921h0M772 2013h0M1637 1145h0M1190 1479h0M934 1561h0M846 1948h0M1075 1757h0M963 1823h0M704 2065h0M775 2147h0M938 2201h0M730 1948h0M782 2023h0M707 2163h0M760 2013h0M1252 1430h0M1009 1710h0M959 1754h0M713 2413h0M745 2013h0M693 2013h0M942 1865h0M1023 1729h0M726 2222h0M920 2033h0M697 1948h0M940 2054h0M727 2065h0M771 1956h0M791 2033h0M1432 1233h0M905 1886h0M726 2043h0M875 2023h0M747 2222h0M1434 1500h0M995 1780h0M1188 1524h0M748 2163h0M840 1875h0M782 2131h0M837 1815h0M844 2054h0M845 1811h0M1409 1249h0M939 1886h0M1088 1453h0M1092 1662h0M687 1915h0M726 2222h0M811 1875h0M1001 1875h0M798 2004h0M725 2013h0M735 1870h0M901 1855h0M753 1995h0M750 2089h0M785 1780h0M1167 1553h0M717 1682h0M2021 767h0M725 2065h0M1158 1680h0M752 2043h0M903 1582h0M979 1390h0M1478 1208h0M708 2201h0M900 1780h0M784 1875h0M749 1956h0M779 2131h0M818 1987h0M825 2065h0M846 1773h0M1411 1320h0M774 2077h0M717 1909h0M996 1572h0M807 1754h0M812 1886h0M794 1987h0M746 1971h0M956 1741h0M762 1903h0M842 1875h0M742 2089h0M830 1903h0M784 1987h0M722 1909h0M1104 1795h0M711 2077h0M779 2013h0M724 2131h0M836 1845h0M892 1921h0M958 1773h0M704 1791h0M1035 1594h0M765 2077h0M1116 1707h0M1062 1677h0M796 2065h0M1146 1623h0M896 1836h0M890 1987h0M977 1668h0M954 1639h0M1006 1724h0M686 1987h0M693 2116h0M713 2043h0M706 2116h0M958 1721h0M705 2065h0M752 1987h0M709 2089h0M797 1928h0M697 2089h0M690 2103h0M829 1828h0M751 1941h0M990 1582h0M779 2043h0M717 2103h0M722 2147h0M876 1687h0M742 1643h0M865 1941h0M908 1987h0M819 1921h0M1048 1476h0M817 1903h0M780 2116h0M1138 1718h0M1192 1702h0M741 2271h0M756 1881h0M1136 1604h0M708 2089h0M687 1915h0M809 2023h0M1172 1685h0M879 1832h0M743 2054h0M753 1763h0M782 1979h0M726 1897h0M790 1915h0M1162 1479h0M839 1979h0M795 1987h0M733 1971h0M801 1941h0M1320 1362h0M733 2004h0M809 1870h0M1086 1373h0M781 2065h0M848 2043h0M1646 1036h0M860 1832h0M807 1823h0M709 1892h0M954 1738h0M999 1750h0M799 2131h0M851 1987h0M688 2103h0M713 2103h0M788 1921h0M1102 1653h0M843 1828h0M688 1795h0M709 2065h0M1030 1620h0M723 2181h0M900 1773h0M716 2054h0M876 1921h0M720 2201h0M750 2271h0M875 1865h0M772 2054h0M785 2033h0M982 1886h0M987 1841h0M1032 1668h0M758 1979h0M865 2116h0M933 1777h0M705 1928h0M721 2033h0M717 1995h0M716 1921h0M908 1799h0M755 1865h0M761 2201h0M750 2413h0M1193 1760h0M1073 1903h0M1200 1909h0M749 1915h0M1457 1355h0M1041 1697h0M694 2103h0M892 2033h0M778 1881h0M884 2245h0M1271 1451h0"/>
<path stroke="#FC8D62" d="M973 2181h0M946 1735h0M736 2043h0M831 2163h0M891 1915h0M716 2033h0M722 2147h0M749 1828h0M748 1979h0M971 1845h0M1069 1397h0M1462 1167h0M1018 1542h0M701 2013h0M1218 1514h0M1002 1660h0M688 2222h0M732 1865h0M790 1262h0M946 1807h0M690 1987h0M686 2222h0M944 1490h0M1150 1217h0M749 1689h0M688 1963h0M1027 1744h0M955 1514h0M691 2201h0M710 2413h0M837 1841h0M717 1941h0M918 1828h0M812 1747h0M744 2131h0M821 1915h0M716 2023h0M991 1713h0M1260 1321h0M720 2116h0M801 1897h0M954 1780h0M738 2147h0M806 1928h0M970 1521h0M973 1675h0M898 1791h0M973 1744h0M793 1721h0M936 1732h0M761 1941h0M1339 1220h0M1180 1685h0M732 2103h0M1404 1373h0M781 1836h0M770 2089h0M954 1480h0M722 2116h0M1015 1915h0M960 1445h0M703 1987h0M736 1979h0M715 2043h0M723 2331h0M1226 1534h0M764 1909h0M734 1791h0M1062 1549h0M722 2077h0M743 2065h0M720 2089h0M705 1832h0M730 2181h0M936 1780h0M1010 2181h0M942 1915h0M923 1807h0M1112 1677h0M789 1788h0M835 1836h0M892 1651h0M724 2089h0M779 1819h0M748 1836h0M810 1744h0M772 1941h0M885 1600h0M1125 1545h0M806 1860h0M1110 1542h0M905 1832h0M711 1875h0M795 2163h0M902 1807h0M832 1757h0M720 2222h0M720 1928h0M754 1892h0M1290 1343h0M730 2147h0M751 2131h0M688 2023h0M947 1841h0M1250 1597h0M725 1928h0M688 1886h0M878 1450h0M691 2181h0M881 2065h0M699 1956h0M1062 1828h0M755 2331h0M1009 1707h0M994 2033h0M717 2271h0M1151 1685h0M734 1897h0M826 1881h0M771 1909h0M789 1963h0M731 1987h0M1346 1404h0M957 1553h0M1538 1169h0M732 1903h0M851 1892h0M716 1987h0M836 1554h0M937 1754h0M905 1909h0M688 1836h0M718 1979h0M954 1463h0M749 1881h0M1142 1599h0M1013 1551h0M759 1865h0M710 1979h0M721 1995h0M1124 1699h0M777 2116h0M717 2116h0M963 1699h0M713 2077h0M1064 1605h0M1130 1465h0M850 1563h0M747 2023h0M919 2013h0M1135 1360h0M768 1886h0M857 1807h0M701 2013h0M709 2181h0M1491 1204h0M1026 1462h0M1146 1437h0M1107 1523h0M689 1909h0M712 2033h0M1265 1595h0M910 1754h0M899 1432h0M691 2103h0M715 2065h0M753 1909h0M696 1886h0M815 1757h0M1010 1750h0M868 1935h0M1096 1277h0M852 1687h0M757 2089h0M926 1702h0M988 1524h0M773 1795h0M1265 1269h0M997 1579h0M776 1653h0M851 1657h0M1250 1315h0M731 1819h0M698 2013h0M1140 1597h0M766 1963h0M927 1770h0M835 1426h0M1060 1729h0M800 1653h0M913 1480h0M1053 1780h0M1136 1426h0M1109 1589h0M851 1823h0M887 1915h0M764 1721h0M1160 1611h0M688 2181h0M710 2163h0M865 1886h0M1023 1558h0M1011 1724h0M1471 1155h0M813 2089h0M720 1995h0M916 1763h0M734 2089h0M1358 1186h0M745 1963h0M977 1718h0M834 1803h0M907 1941h0M883 1845h0M1192 1503h0M1331 1370h0M1367 1125h0M887 1780h0M930 2054h0M860 1819h0M815 1735h0M1079 1547h0M716 1948h0M1235 2013h0M868 1612h0M888 1754h0M753 2089h0M835 1767h0M786 1811h0M745 1995h0M830 1841h0M763 2033h0M686 1841h0M1055 1383h0M829 2065h0M956 1738h0M760 2077h0M1082 1402h0M749 2077h0M1059 1579h0M1233 1399h0M735 1941h0M1321 1441h0M711 2033h0M856 1850h0M816 1903h0M717 2054h0M1292 1645h0M768 2023h0M863 1561h0M912 1780h0M736 1715h0M758 1886h0M795 1948h0M982 1773h0M799 1841h0M1058 1423h0M730 2089h0M776 1903h0M932 1702h0M827 1784h0M703 1870h0M905 1694h0M781 2089h0M1341 1469h0M691 1744h0M871 2023h0M723 2163h0M873 1897h0M813 1963h0M745 1485h0M740 2163h0M994 1886h0M800 1611h0M740 2116h0M737 1760h0M1260 1503h0M806 1870h0M806 1909h0M863 1682h0M1142 1547h0M955 1647h0M862 1754h0M705 1710h0M1163 1702h0M1127 1553h0M851 1855h0M707 1941h0M982 1803h0M704 1892h0M805 1979h0M823 1729h0M704 2043h0M1121 1478h0M1422 1119h0M714 2043h0M843 1680h0M901 1799h0M975 1726h0M906 1694h0M954 1811h0M848 1903h0M792 1892h0M838 1649h0M902 1928h0M762 1963h0M838 1909h0M767 1941h0M965 1645h0M751 1987h0M1087 1605h0M931 1685h0M783 2065h0M1111 1560h0M718 1928h0M1312 1415h0M885 1657h0M1131 1668h0M790 1815h0M991 1875h0M915 1623h0M765 1956h0M688 1860h0M725 1948h0M1104 1551h0M690 1713h0M800 1718h0M856 2089h0M1005 1773h0M708 2201h0M897 1892h0M806 2023h0M773 1832h0M1060 1886h0M1016 1653h0M724 1875h0M970 1747h0M1237 1324h0M1258 1373h0M1028 1533h0M720 2181h0M1345 1375h0M773 2054h0M1251 1364h0M705 1875h0M731 2163h0M715 1807h0M828 1928h0M878 1718h0M693 1777h0M814 1956h0M707 1971h0M1021 1594h0M970 1744h0M824 1738h0M686 1702h0M992 1773h0M707 1641h0M787 1860h0M700 2033h0M899 1757h0M909 1995h0M846 1845h0M808 1744h0M933 1855h0M1570 1029h0M721 1963h0M792 1718h0M706 1903h0M809 1832h0M1330 1631h0M831 2116h0M968 1641h0M1136 1538h0M1927 849h0M966 1738h0M767 1948h0M947 1512h0M1045 1721h0M974 1705h0M722 1773h0M953 1647h0M719 2065h0M699 2245h0M734 2103h0M827 1841h0M893 1971h0M825 1715h0M903 1763h0M742 1823h0M886 1677h0M1066 1618h0M955 1784h0M771 1860h0M695 2043h0M992 1705h0M835 1508h0M938 2033h0M703 2163h0M726 2077h0M905 1639h0M748 1819h0M838 1897h0M786 1928h0M853 1788h0M894 1921h0M760 1875h0M849 1909h0M766 1828h0M738 2033h0M985 1702h0M738 1735h0M1000 1448h0M1143 1657h0M1767 830h0M1527 1115h0M1409 1327h0M1240 1780h0M687 2023h0M720 1886h0M817 1881h0M1074 1504h0M777 1799h0M732 1760h0M826 1875h0M744 2023h0M774 2004h0M1018 1629h0M715 2116h0M711 1956h0M686 2077h0M877 1715h0M825 1892h0M698 2065h0M830 2033h0M822 1948h0M859 1987h0M932 1803h0M711 2033h0M1144 1763h0M1224 1651h0M1156 1570h0M1010 1673h0M1037 1750h0M716 1941h0M712 1928h0M1173 1349h0M687 2043h0M691 2077h0M802 1807h0M1102 1357h0M890 1780h0M1094 1605h0M946 1639h0M701 2004h0M1354 1178h0M807 1941h0M690 2033h0M718 2181h0M729 1897h0M710 2131h0M1015 1645h0M826 1941h0M1114 1525h0M792 1828h0M729 1963h0M887 1625h0M1138 1488h0M725 1845h0M835 1770h0M691 1855h0M782 2043h0M1108 1823h0M826 1870h0M1101 1566h0M1100 1655h0M752 1754h0M721 1948h0M1352 1318h0M791 1773h0M858 1655h0M750 1641h0M800 1948h0M868 1915h0M912 1897h0M738 2147h0M714 1875h0M929 1754h0M1142 1207h0M1075 1941h0M775 1963h0M796 2201h0M761 1897h0M1182 1645h0M702 2413h0M886 1773h0M803 2077h0M1027 1935h0M709 1855h0M734 1850h0M851 1928h0M783 2181h0M956 1718h0M915 1506h0M873 1560h0M776 1692h0M1005 1777h0M906 1777h0M1417 1205h0M1297 1315h0M885 1639h0M700 1903h0M766 1971h0M847 1909h0M1003 1760h0M1160 1625h0M1396 1344h0M1086 1956h0M936 1807h0M886 1780h0M1103 1525h0M778 1979h0M908 1241h0M1048 1582h0M1062 1685h0M775 1777h0M718 2043h0M720 2043h0M818 1870h0M699 2116h0M738 2222h0M1343 1299h0M884 2004h0M723 2023h0M841 1791h0M742 1828h0M746 1897h0M865 1803h0M872 1677h0M738 1915h0M766 1909h0M701 1892h0M835 1928h0M716 2023h0M756 1935h0M775 2043h0M845 1763h0M868 1671h0M803 2054h0M736 2103h0M1432 1232h0M687 2271h0M958 1770h0M740 1979h0M811 1581h0M893 1586h0M1218 1607h0M731 1447h0M1252 1460h0M705 2245h0M737 2116h0M755 2181h0M1252 1301h0M935 1773h0M936 1987h0M1136 1689h0M725 1845h0M773 1807h0M1241 1403h0M815 1773h0M829 1935h0M2082 650h0M736 1909h0M790 2033h0M847 1875h0M735 1710h0M937 1726h0M1047 1741h0M732 1754h0M950 1689h0M708 1963h0M838 1267h0M1036 1429h0M862 2043h0M697 2467h0M691 1948h0M830 1935h0M837 1811h0M997 1828h0M864 1971h0M748 1928h0M905 1803h0M839 1729h0M1140 1539h0M765 1811h0M899 1607h0M700 2089h0M761 1870h0M1334 1240h0M1682 1106h0M1157 1631h0M873 1738h0M1186 1595h0M925 1780h0M725 1941h0M875 1497h0M1221 1248h0M900 1692h0M1445 1241h0M847 2077h0M709 2245h0M692 1915h0M960 1963h0M1040 1750h0M765 1948h0M767 1941h0M741 1979h0M845 1928h0M699 2077h0M1716 867h0M938 1718h0M774 2245h0M815 1909h0M845 1819h0M907 1956h0M935 1770h0M757 2004h0M748 1860h0M838 1760h0M780 1662h0M937 1788h0M716 1881h0M728 2077h0M1466 1248h0M1245 1432h0M727 2004h0M755 1941h0M905 1595h0M711 2054h0M1571 1214h0M1219 1493h0M868 1897h0M723 1860h0M767 1780h0M1062 1273h0M1005 1387h0M1042 1584h0M792 1865h0"/>
<path stroke="#E78AC3" d="M962 1777h0M700 1497h0M1108 1721h0M936 1675h0M688 1815h0M887 1647h0M690 1979h0M1311 1322h0M701 1865h0M724 1941h0M910 1635h0M849 1707h0M931 1780h0M855 1744h0M736 1987h0M779 1875h0M838 1447h0M1032 1655h0M1111 1476h0M700 1941h0M989 1595h0M815 1572h0M856 1744h0M987 1635h0M867 1832h0M1004 1508h0M708 1726h0M775 1715h0M826 1795h0M756 1573h0M993 1718h0M998 1815h0M841 1682h0M835 1807h0M1090 1500h0M708 1578h0M894 1405h0M1107 1956h0M994 1433h0M1148 1666h0M920 1680h0M1071 1541h0M771 1971h0M1607 1451h0M742 2103h0M842 1738h0M805 1791h0M874 1604h0M946 1437h0M818 1845h0M832 1795h0M839 1675h0M1054 1547h0M1129 1494h0M756 1928h0M885 2033h0M871 1777h0M840 1554h0M1000 1721h0M732 1682h0M734 1865h0M1287 1466h0M1056 1453h0M1168 1373h0M707 2004h0M1060 1416h0M906 1760h0M732 1850h0M767 1616h0M820 1763h0M708 1886h0M746 2271h0M939 1705h0M855 1928h0M733 1788h0M785 1865h0M836 1750h0M1324 1102h0M719 1763h0M841 1741h0M817 1485h0M773 1979h0M837 1807h0M991 1788h0M718 2103h0M1000 1784h0M874 1635h0M766 1795h0M1564 1204h0M864 1795h0M773 1921h0M952 1705h0M871 1360h0M703 1987h0M815 1726h0M781 1750h0M739 1832h0M1361 1346h0M731 2004h0M817 1664h0M766 1915h0M1060 1436h0M696 1850h0M1218 1449h0M892 1680h0M798 1909h0M888 1473h0M825 1948h0M983 2077h0M771 2116h0M1050 1441h0M958 1401h0M687 1738h0M816 1956h0M930 1710h0M724 1845h0M752 1735h0M779 1903h0M904 1597h0M959 1404h0M1240 1673h0M1005 1707h0M1687 1060h0M766 1915h0M797 1860h0M769 1971h0M882 1735h0M793 1664h0M809 1699h0M916 1760h0M1574 1150h0M818 1741h0M723 1865h0M822 1763h0M997 1567h0M1441 1332h0M889 1788h0M811 1788h0M766 1979h0M691 1668h0M771 1815h0M745 1702h0M697 1845h0M705 1754h0M736 1941h0M770 1664h0M707 1865h0M784 1815h0M826 2131h0M741 1935h0M770 1625h0M1019 1324h0M702 2163h0M791 1832h0M720 1860h0M697 1828h0M857 1547h0M889 1760h0M1047 1607h0M1229 1780h0M783 1738h0M915 1760h0M749 1622h0M829 2065h0M1027 1537h0M836 1777h0M703 1909h0M730 1915h0M1499 1274h0M838 1641h0M851 1791h0M1132 1641h0M863 1963h0M916 1602h0M749 1841h0M759 1677h0M820 1915h0M691 1909h0M1412 1409h0M758 1841h0M695 1788h0M890 1611h0M750 1635h0M1190 1288h0M710 1645h0M970 1784h0M867 2004h0M952 1995h0M811 1331h0M783 1903h0M858 1721h0M1061 1397h0M810 1909h0M1024 1788h0M1013 1554h0M874 1903h0M790 1855h0M942 1600h0M974 2147h0M730 1836h0M854 1795h0M860 1941h0M1108 1388h0M826 1590h0M818 1600h0M725 1828h0M869 1689h0M838 1763h0M979 1266h0M1019 1597h0M1487 1084h0M696 1754h0M908 1697h0M1013 1466h0M789 1845h0M1149 1244h0M856 1705h0M780 1828h0M994 1600h0M1199 1121h0M884 1784h0M755 1865h0M999 1594h0M801 1647h0M853 1892h0M950 1963h0M1005 1468h0M1299 1488h0M829 1881h0M1282 1363h0M715 2077h0M990 1604h0M821 1757h0M1419 1306h0M836 1791h0M738 1795h0M931 1803h0M855 1635h0M839 1673h0M719 1671h0M1028 1305h0M897 1732h0M704 1744h0M861 1735h0M1034 1519h0M1429 1340h0M1001 1570h0M1024 1485h0M742 1865h0M698 1935h0M706 1971h0M749 1729h0M1473 1277h0M753 1791h0M1115 1261h0M831 1799h0M1366 1000h0M780 1738h0M779 1841h0M686 1807h0M816 2043h0M1552 1057h0M742 1935h0M1042 1350h0M691 1780h0M728 1296h0M917 1777h0M1132 1599h0M843 1587h0M814 1699h0M768 1987h0M755 1815h0M747 1903h0M690 1956h0M717 1832h0M743 1823h0M743 1865h0M757 1892h0M828 1757h0M1112 1547h0M824 1845h0M1047 1592h0M1217 1586h0M1327 1310h0M736 1707h0M888 1795h0M755 1823h0M1016 1494h0M854 1803h0M1093 1373h0M730 1941h0M750 1928h0M841 1770h0M832 1705h0M1128 1579h0M1038 1447h0M820 1694h0M889 1566h0M1654 1175h0M689 1948h0M700 1713h0M1070 1707h0M705 2222h0M712 1666h0M720 1875h0M868 1788h0M761 1738h0M721 1784h0M740 2033h0M702 1604h0M763 1715h0M1210 1160h0M1296 1268h0M779 2054h0M830 1773h0M860 1607h0M835 1533h0M1703 1083h0M696 1875h0M689 2116h0M746 1855h0M808 1784h0M775 1750h0M818 1903h0M861 1832h0M994 1637h0M692 1855h0M807 1915h0M964 1651h0M818 1579h0M909 1860h0M770 1909h0M861 1881h0M1125 1531h0M871 1506h0M716 2222h0M690 1971h0M697 1735h0M752 1850h0M784 1921h0M701 1865h0M766 1823h0M893 1750h0M781 1875h0M779 1721h0M702 1897h0M929 1754h0M693 1892h0M741 1586h0M931 1589h0M1212 1284h0M795 1845h0M847 1971h0M696 1987h0M879 1525h0M759 1963h0M1008 1521h0M804 1726h0M1049 1647h0M724 1860h0M726 1435h0M879 1841h0M1198 1587h0M997 1492h0M1005 1721h0M949 1639h0M744 1897h0M800 1995h0M755 1948h0M889 1664h0M709 2103h0M703 1803h0M783 1791h0M2067 935h0M1285 1485h0M967 1841h0M721 2331h0M813 1788h0M751 1921h0M721 2131h0M909 1493h0M772 1836h0M757 1836h0M1110 1579h0M791 1791h0M918 1576h0M1016 1729h0M739 1935h0M870 1767h0M836 1784h0M690 1897h0M859 1747h0M792 1828h0M710 1662h0M854 1909h0M700 1823h0M743 1897h0M962 1629h0M713 2013h0M709 2089h0M851 1777h0M830 1897h0M753 1741h0M1798 950h0M755 1903h0M725 1715h0M1046 1612h0M784 1915h0M827 1921h0M1091 1424h0M732 1841h0M926 1561h0M1775 1124h0M712 2043h0M934 1625h0M1069 1190h0M1112 1569h0M853 1526h0M870 1653h0M896 1754h0M695 1811h0M1479 1241h0M873 1385h0M1174 1367h0M857 1645h0M863 1647h0M730 1903h0M890 1956h0M850 1841h0M780 1903h0M976 1611h0M963 1729h0M742 1754h0M1233 1028h0M964 1660h0M695 1915h0M938 1836h0M1258 1477h0M770 1754h0M861 1828h0M867 1481h0M814 1903h0M751 1963h0M712 1909h0M1104 1445h0M776 1892h0M880 1579h0M717 2004h0M1081 1501h0M983 1694h0M1171 1339h0M832 1715h0M707 1928h0M722 1744h0M880 1784h0M1332 1230h0M1292 1581h0M826 1550h0M1511 1131h0M1013 1271h0M802 1664h0M1079 1414h0M742 1784h0M751 1860h0M1044 1439h0M957 1865h0M1136 1612h0M1108 1515h0M815 1584h0M860 1757h0M1075 1546h0M799 1881h0M2271 410h0M1272 1422h0M822 1531h0M1006 1597h0M700 1832h0M852 1423h0M686 1845h0M1282 1327h0M747 1627h0M966 1590h0M769 1675h0M756 1349h0M852 1335h0M717 2103h0M904 1604h0M1040 1692h0M695 1393h0M820 1763h0M831 1586h0M807 1687h0M993 1512h0M918 1675h0M996 1631h0M1257 1525h0M853 1803h0M782 1948h0M891 1915h0M778 1870h0M728 1760h0M691 1468h0M689 1784h0M695 2103h0M697 1921h0M813 1625h0M1030 1718h0M927 1668h0M910 1770h0M835 1865h0M732 1604h0M691 1979h0M762 1850h0M993 1653h0M742 1915h0M904 1576h0M825 2004h0M687 1553h0M769 1721h0M969 1773h0M1371 1373h0M852 1799h0M991 1556h0M1044 1587h0M871 1886h0M1177 1445h0M1159 1461h0M695 1865h0M1328 1109h0M869 1635h0M1213 1263h0M770 1735h0M804 1713h0M887 1702h0M826 1815h0M817 1647h0M797 1971h0M893 1828h0M775 1710h0M725 2004h0M1243 1254h0M695 1909h0M1240 1338h0M924 1508h0M724 1799h0M1028 1741h0M728 1811h0M834 1662h0M711 1780h0M1085 1389h0M697 1735h0M795 1682h0M1390 1022h0M1239 1333h0M766 1699h0M723 1767h0M882 1750h0M1008 1623h0M804 1707h0M881 1741h0M908 1819h0M731 1855h0M960 1639h0M695 1828h0M724 1987h0M853 1599h0M730 1738h0M997 1553h0M990 1855h0M1303 1485h0M760 1639h0M771 1510h0M689 1828h0M1060 1498h0M1380 1207h0M777 1666h0M875 1784h0M898 1803h0M784 1614h0M707 2131h0M691 1875h0M687 1935h0M828 1662h0M773 1750h0M757 1963h0M1187 1364h0M887 1726h0M927 1637h0M698 1645h0M969 1327h0M829 1543h0M840 1664h0M767 1587h0M919 1575h0M755 1784h0M832 1921h0M737 1799h0M912 1694h0M707 1928h0M858 1614h0M703 1928h0M824 1560h0M693 2181h0M1148 1143h0M1260 1410h0M894 1625h0M764 1836h0M1013 1645h0M1260 1259h0M690 2163h0M1084 1589h0M779 1735h0M1091 1545h0M686 1784h0M903 1499h0"/>
</g>
<line x1="68.5" y1="204.6" x2="234.5" y2="62.9" stroke="#66C2A5" stroke-width="2.5" stroke-linecap="butt"/>
<line x1="68.5" y1="200.7" x2="228.0" y2="42.9" stroke="#FC8D62" stroke-width="2.5" stroke-linecap="butt"/>
<line x1="68.5" y1="210.0" x2="267.5" y2="25.0" stroke="#8DA0CB" stroke-width="2.5" stroke-linecap="butt"/>
<line x1="68.5" y1="187.3" x2="232.5" y2="54.8" stroke="#E78AC3" stroke-width="2.5" stroke-linecap="butt"/>
<line x1="68.5" y1="209.4" x2="242.5" y2="29.5" stroke="#A6D854" stroke-width="2.5" stroke-linecap="butt"/>
<circle cx="232.5" cy="34.0" r="2.2" fill="#E78AC3"/>
<circle cx="228.0" cy="43.0" r="2.2" fill="#FC8D62"/>
<circle cx="243.0" cy="47.5" r="2.2" fill="#A6D854"/>
<circle cx="229.0" cy="70.0" r="2.2" fill="#8DA0CB"/>
<circle cx="267.5" cy="24.0" r="2.2" fill="#8DA0CB"/>
<g stroke="#222" stroke-width="0.8" fill="none">
<path d="M222.5 26.5L228.5 32"/><path d="M198.5 32L223.5 41"/><path d="M269 26L275 33"/><path d="M245.5 49.5L259.5 56.5"/><path d="M232.5 72L243.5 77"/>
</g>
<g class="an" fill="#000"><text x="194" y="22.3">Johannesburg</text><text x="167.8" y="34">Nairobi</text><text x="268" y="40.5">Cairo</text><text x="263" y="61.2">Lagos</text><text x="246.5" y="83.5">Alexandria</text></g>
<path d="M58.7 13.2V258.2H277.5" fill="none" stroke="#000" stroke-width="1.5"/>
<g stroke="#222" stroke-width="1.35">
<line x1="54" x2="58.4" y1="224.5" y2="224.5"/>
<line x1="54" x2="58.4" y1="168.7" y2="168.7"/>
<line x1="54" x2="58.4" y1="112.9" y2="112.9"/>
<line x1="54" x2="58.4" y1="57.1" y2="57.1"/>
<line y1="258.2" y2="262.8" x1="68.5" x2="68.5"/>
<line y1="258.2" y2="262.8" x1="124.0" x2="124.0"/>
<line y1="258.2" y2="262.8" x1="179.5" x2="179.5"/>
<line y1="258.2" y2="262.8" x1="235.0" x2="235.0"/>
</g>
<text class="tk" x="51.2" y="230.1" text-anchor="end">10<tspan dy="-5.8" font-size="7.6">0</tspan></text>
<text class="tk" x="51.2" y="174.3" text-anchor="end">10<tspan dy="-5.8" font-size="7.6">1</tspan></text>
<text class="tk" x="51.2" y="118.5" text-anchor="end">10<tspan dy="-5.8" font-size="7.6">2</tspan></text>
<text class="tk" x="51.2" y="62.7" text-anchor="end">10<tspan dy="-5.8" font-size="7.6">3</tspan></text>
<text class="tk" x="68.6" y="278" text-anchor="middle">10<tspan dy="-5.6" font-size="7.6">4</tspan></text>
<text class="tk" x="124.1" y="278" text-anchor="middle">10<tspan dy="-5.6" font-size="7.6">5</tspan></text>
<text class="tk" x="179.6" y="278" text-anchor="middle">10<tspan dy="-5.6" font-size="7.6">6</tspan></text>
<text class="tk" x="235.1" y="278" text-anchor="middle">10<tspan dy="-5.6" font-size="7.6">7</tspan></text>
<text class="ti" x="168" y="295" text-anchor="middle">Population in 2020</text>
<text class="ti" transform="translate(25 136.3) rotate(-90)" text-anchor="middle">Built up area in 2020 (km<tspan dy="-7" font-size="10.3">2</tspan><tspan dy="7">)</tspan></text>
<text class="pl" x="10.5" y="33.1">a</text>
<rect x="67" y="28.5" width="8.6" height="51.5" fill="#f2f2f2"/>
<line x1="68" x2="74.6" y1="33.50" y2="33.50" stroke="#66C2A5" stroke-width="2.4"/>
<text class="lg" x="84.5" y="37.40">Central Africa</text>
<line x1="68" x2="74.6" y1="44.02" y2="44.02" stroke="#FC8D62" stroke-width="2.4"/>
<text class="lg" x="84.5" y="47.92">Eastern Africa</text>
<line x1="68" x2="74.6" y1="54.54" y2="54.54" stroke="#8DA0CB" stroke-width="2.4"/>
<text class="lg" x="84.5" y="58.44">Northern Africa</text>
<line x1="68" x2="74.6" y1="65.06" y2="65.06" stroke="#E78AC3" stroke-width="2.4"/>
<text class="lg" x="84.5" y="68.96">Southern Africa</text>
<line x1="68" x2="74.6" y1="75.58" y2="75.58" stroke="#A6D854" stroke-width="2.4"/>
<text class="lg" x="84.5" y="79.48">Western Africa</text>
<text class="eq" fill="#66C2A5" x="205.9" y="191.8" text-anchor="end" word-spacing="-0.6"><tspan font-style="italic">y</tspan> = − 3.04 + 0.849 <tspan font-style="italic">x</tspan></text>
<text class="eq" fill="#66C2A5" x="225.8" y="191.8"><tspan font-style="italic">R</tspan><tspan font-size="7.2" x="235.7" y="186.6">2</tspan><tspan font-size="7.2" x="234" y="194.7">adj</tspan><tspan x="246.6" y="191.8">= 0.75</tspan></text>
<text class="eq" fill="#FC8D62" x="205.9" y="206.6" text-anchor="end" word-spacing="-0.6"><tspan font-style="italic">y</tspan> = − 3.51 + 0.984 <tspan font-style="italic">x</tspan></text>
<text class="eq" fill="#FC8D62" x="225.8" y="206.6"><tspan font-style="italic">R</tspan><tspan font-size="7.2" x="235.7" y="201.4">2</tspan><tspan font-size="7.2" x="234" y="209.5">adj</tspan><tspan x="246.6" y="206.6">= 0.72</tspan></text>
<text class="eq" fill="#8DA0CB" x="205.9" y="221.4" text-anchor="end" word-spacing="-0.6"><tspan font-style="italic">y</tspan> = − 3.4 + 0.92 <tspan font-style="italic">x</tspan></text>
<text class="eq" fill="#8DA0CB" x="225.8" y="221.4"><tspan font-style="italic">R</tspan><tspan font-size="7.2" x="235.7" y="216.2">2</tspan><tspan font-size="7.2" x="234" y="224.3">adj</tspan><tspan x="246.6" y="221.4">= 0.59</tspan></text>
<text class="eq" fill="#E78AC3" x="205.9" y="236.2" text-anchor="end" word-spacing="-0.6"><tspan font-style="italic">y</tspan> = − 2.55 + 0.804 <tspan font-style="italic">x</tspan></text>
<text class="eq" fill="#E78AC3" x="225.8" y="236.2"><tspan font-style="italic">R</tspan><tspan font-size="7.2" x="235.7" y="231.0">2</tspan><tspan font-size="7.2" x="234" y="239.1">adj</tspan><tspan x="246.6" y="236.2">= 0.60</tspan></text>
<text class="eq" fill="#A6D854" x="205.9" y="251.0" text-anchor="end" word-spacing="-0.6"><tspan font-style="italic">y</tspan> = − 3.84 + 1.03 <tspan font-style="italic">x</tspan></text>
<text class="eq" fill="#A6D854" x="225.8" y="251.0"><tspan font-style="italic">R</tspan><tspan font-size="7.2" x="235.7" y="245.8">2</tspan><tspan font-size="7.2" x="234" y="253.9">adj</tspan><tspan x="246.6" y="251.0">= 0.76</tspan></text>
</g>
<g id="panel-c">
<circle cx="68.50" cy="543.00" r="3.45" fill="#8DA0CB" fill-opacity="0.85"/>
<circle cx="135.75" cy="540.50" r="3.45" fill="#8DA0CB" fill-opacity="0.85"/>
<circle cx="98.75" cy="524.25" r="3.45" fill="#FC8D62" fill-opacity="0.85"/>
<circle cx="114.25" cy="518.25" r="3.45" fill="#E78AC3" fill-opacity="0.85"/>
<circle cx="113.50" cy="503.50" r="3.45" fill="#E78AC3" fill-opacity="0.85"/>
<circle cx="129.25" cy="497.50" r="3.45" fill="#E78AC3" fill-opacity="0.85"/>
<circle cx="126.75" cy="491.75" r="3.45" fill="#E78AC3" fill-opacity="0.85"/>
<circle cx="130.25" cy="488.25" r="3.45" fill="#66C2A5" fill-opacity="0.85"/>
<circle cx="91.00" cy="489.25" r="3.45" fill="#FC8D62" fill-opacity="0.85"/>
<circle cx="129.25" cy="480.00" r="3.45" fill="#E78AC3" fill-opacity="0.85"/>
<circle cx="151.00" cy="475.25" r="3.45" fill="#FC8D62" fill-opacity="0.85"/>
<circle cx="157.25" cy="486.25" r="3.45" fill="#66C2A5" fill-opacity="0.85"/>
<circle cx="132.50" cy="465.75" r="3.45" fill="#A6D854" fill-opacity="0.85"/>
<circle cx="139.00" cy="463.00" r="3.45" fill="#66C2A5" fill-opacity="0.85"/>
<circle cx="143.00" cy="464.50" r="3.45" fill="#A6D854" fill-opacity="0.85"/>
<circle cx="153.00" cy="449.25" r="3.45" fill="#FC8D62" fill-opacity="0.85"/>
<circle cx="239.25" cy="334.20" r="3.45" fill="#A6D854" fill-opacity="0.85"/>
<circle cx="245.50" cy="348.40" r="3.45" fill="#FC8D62" fill-opacity="0.85"/>
<circle cx="231.75" cy="366.50" r="3.45" fill="#A6D854" fill-opacity="0.85"/>
<circle cx="238.00" cy="369.25" r="3.45" fill="#FC8D62" fill-opacity="0.85"/>
<circle cx="204.00" cy="381.00" r="3.45" fill="#FC8D62" fill-opacity="0.85"/>
<circle cx="199.25" cy="392.50" r="3.45" fill="#A6D854" fill-opacity="0.85"/>
<circle cx="212.00" cy="401.25" r="3.45" fill="#A6D854" fill-opacity="0.85"/>
<circle cx="217.00" cy="403.25" r="3.45" fill="#8DA0CB" fill-opacity="0.85"/>
<circle cx="184.00" cy="404.25" r="3.45" fill="#FC8D62" fill-opacity="0.85"/>
<circle cx="275.25" cy="406.50" r="3.45" fill="#FC8D62" fill-opacity="0.85"/>
<circle cx="243.25" cy="411.00" r="3.45" fill="#FC8D62" fill-opacity="0.85"/>
<circle cx="232.50" cy="416.00" r="3.45" fill="#FC8D62" fill-opacity="0.85"/>
<circle cx="203.00" cy="408.75" r="3.45" fill="#66C2A5" fill-opacity="0.85"/>
<circle cx="170.50" cy="415.25" r="3.45" fill="#A6D854" fill-opacity="0.85"/>
<circle cx="182.00" cy="414.25" r="3.45" fill="#A6D854" fill-opacity="0.85"/>
<circle cx="184.50" cy="421.50" r="3.45" fill="#A6D854" fill-opacity="0.85"/>
<circle cx="182.50" cy="425.50" r="3.45" fill="#A6D854" fill-opacity="0.85"/>
<circle cx="195.00" cy="418.00" r="3.45" fill="#E78AC3" fill-opacity="0.85"/>
<circle cx="197.00" cy="420.00" r="3.45" fill="#8DA0CB" fill-opacity="0.85"/>
<circle cx="203.00" cy="420.00" r="3.45" fill="#A6D854" fill-opacity="0.85"/>
<circle cx="204.25" cy="440.75" r="3.45" fill="#FC8D62" fill-opacity="0.85"/>
<circle cx="206.50" cy="443.00" r="3.45" fill="#A6D854" fill-opacity="0.85"/>
<circle cx="171.00" cy="444.00" r="3.45" fill="#8DA0CB" fill-opacity="0.85"/>
<circle cx="172.00" cy="449.50" r="3.45" fill="#66C2A5" fill-opacity="0.85"/>
<circle cx="162.25" cy="460.75" r="3.45" fill="#8DA0CB" fill-opacity="0.85"/>
<circle cx="183.00" cy="465.00" r="3.45" fill="#E78AC3" fill-opacity="0.85"/>
<circle cx="165.25" cy="471.75" r="3.45" fill="#E78AC3" fill-opacity="0.85"/>
<circle cx="177.75" cy="473.75" r="3.45" fill="#66C2A5" fill-opacity="0.85"/>
<circle cx="187.75" cy="502.00" r="3.45" fill="#E78AC3" fill-opacity="0.85"/>
<circle cx="130.25" cy="420.50" r="3.45" fill="#66C2A5" fill-opacity="0.85"/>
<line x1="284.7" x2="58.4" y1="417.2" y2="417.2" stroke="#000" stroke-width="1.45" stroke-dasharray="5.345 5.345"/>
<line y1="311.2" y2="562" x1="191.3" x2="191.3" stroke="#000" stroke-width="1.45" stroke-dasharray="5.335 5.335"/>
<line x1="61" y1="547.5" x2="286" y2="323" stroke="#f00" stroke-width="1.45" stroke-dasharray="5.385 5.385"/>
<text class="ac" x="227.5" y="325.5" fill="#A6D854">Benin</text>
<text class="ac" x="203.5" y="351.0" fill="#FC8D62">Comoros</text>
<text class="ac" x="245.0" y="372.5" fill="#FC8D62">Rwanda</text>
<text class="ac" x="221.5" y="395.5" fill="#8DA0CB">Egypt</text>
<text class="ac" x="259.0" y="402.0" fill="#FC8D62">Kenya</text>
<text class="ac" x="227.5" y="406.8" fill="#FC8D62">Uganda</text>
<text class="ac" x="77.0" y="431.6" fill="#66C2A5">Central Africa Rep.</text>
<text class="ac" x="74.5" y="485.0" fill="#FC8D62">Somalia</text>
<text class="ac" x="195.5" y="506.0" fill="#E78AC3">Namibia</text>
<text class="ac" x="63.5" y="553.8" fill="#8DA0CB">Mauritania</text>
<text class="ac" x="118.5" y="552.0" fill="#8DA0CB">Morocco</text>
<path d="M58.4 311V562.1H285" fill="none" stroke="#000" stroke-width="1.5"/>
<g stroke="#222" stroke-width="1.35">
<line x1="54" x2="58.4" y1="339.2" y2="339.2"/>
<line x1="54" x2="58.4" y1="417.2" y2="417.2"/>
<line x1="54" x2="58.4" y1="495.5" y2="495.5"/>
<line y1="562.1" y2="566.7" x1="73.4" x2="73.4"/>
<line y1="562.1" y2="566.7" x1="112.7" x2="112.7"/>
<line y1="562.1" y2="566.7" x1="152.0" x2="152.0"/>
<line y1="562.1" y2="566.7" x1="191.3" x2="191.3"/>
<line y1="562.1" y2="566.7" x1="230.6" x2="230.6"/>
<line y1="562.1" y2="566.7" x1="269.9" x2="269.9"/>
</g>
<text class="tk" x="50.4" y="343.1" text-anchor="end">1.2</text>
<text class="tk" x="50.4" y="421.1" text-anchor="end">1.0</text>
<text class="tk" x="50.4" y="499.4" text-anchor="end">0.8</text>
<text class="tk" x="73.4" y="577.5" text-anchor="middle">0.7</text>
<text class="tk" x="112.7" y="577.5" text-anchor="middle">0.8</text>
<text class="tk" x="152.0" y="577.5" text-anchor="middle">0.9</text>
<text class="tk" x="191.3" y="577.5" text-anchor="middle">1.0</text>
<text class="tk" x="230.6" y="577.5" text-anchor="middle">1.1</text>
<text class="tk" x="269.9" y="577.5" text-anchor="middle">1.2</text>
<text class="ti" x="171.5" y="595.5" text-anchor="middle">Scaling exponent (β) in 2015</text>
<text class="ti" transform="translate(27.3 437.3) rotate(-90)" text-anchor="middle">Scaling exponent (β) in 2020</text>
<text class="pl" x="10.5" y="324">c</text>
<circle cx="77.5" cy="335.75" r="3.45" fill="#66C2A5" fill-opacity="0.85"/>
<text x="91" y="339.15" font-size="9.7" fill="#000">Central Africa</text>
<circle cx="77.5" cy="345.55" r="3.45" fill="#FC8D62" fill-opacity="0.85"/>
<text x="91" y="348.95" font-size="9.7" fill="#000">Eastern Africa</text>
<circle cx="77.5" cy="355.35" r="3.45" fill="#8DA0CB" fill-opacity="0.85"/>
<text x="91" y="358.75" font-size="9.7" fill="#000">Northern Africa</text>
<circle cx="77.5" cy="365.15" r="3.45" fill="#E78AC3" fill-opacity="0.85"/>
<text x="91" y="368.55" font-size="9.7" fill="#000">Southern Africa</text>
<circle cx="77.5" cy="374.95" r="3.45" fill="#A6D854" fill-opacity="0.85"/>
<text x="91" y="378.35" font-size="9.7" fill="#000">Western Africa</text>
</g>
<g id="panel-b">
<line x1="512.9" x2="512.9" y1="560.2" y2="18.9" stroke="#000" stroke-width="1.8" stroke-dasharray="7.26 7.26"/>
<path d="M539.25 48.30H585.75M539.25 44.10v8.4M585.75 44.10v8.4" stroke="#A6D854" stroke-width="1.3" fill="none"/>
<circle cx="562.75" cy="48.30" r="3.35" fill="#A6D854"/>
<path d="M480.25 58.80H628.00M480.25 54.60v8.4M628.00 54.60v8.4" stroke="#FC8D62" stroke-width="1.3" fill="none"/>
<circle cx="554.00" cy="58.80" r="3.35" fill="#FC8D62"/>
<path d="M528.00 69.30H558.25M528.00 65.10v8.4M558.25 65.10v8.4" stroke="#A6D854" stroke-width="1.3" fill="none"/>
<circle cx="543.00" cy="69.30" r="3.35" fill="#A6D854"/>
<path d="M517.00 79.81H566.25M517.00 75.61v8.4M566.25 75.61v8.4" stroke="#FC8D62" stroke-width="1.3" fill="none"/>
<circle cx="541.75" cy="79.81" r="3.35" fill="#FC8D62"/>
<path d="M520.75 90.31H548.00M520.75 86.11v8.4M548.00 86.11v8.4" stroke="#FC8D62" stroke-width="1.3" fill="none"/>
<circle cx="534.25" cy="90.31" r="3.35" fill="#FC8D62"/>
<path d="M514.75 100.81H541.25M514.75 96.61v8.4M541.25 96.61v8.4" stroke="#A6D854" stroke-width="1.3" fill="none"/>
<circle cx="527.75" cy="100.81" r="3.35" fill="#A6D854"/>
<path d="M515.50 111.31H529.00M515.50 107.11v8.4M529.00 107.11v8.4" stroke="#A6D854" stroke-width="1.3" fill="none"/>
<circle cx="522.25" cy="111.31" r="3.35" fill="#A6D854"/>
<path d="M512.00 121.82H530.25M512.00 117.62v8.4M530.25 117.62v8.4" stroke="#8DA0CB" stroke-width="1.3" fill="none"/>
<circle cx="521.00" cy="121.82" r="3.35" fill="#8DA0CB"/>
<path d="M487.00 132.32H554.00M487.00 128.12v8.4M554.00 128.12v8.4" stroke="#FC8D62" stroke-width="1.3" fill="none"/>
<circle cx="520.50" cy="132.32" r="3.35" fill="#FC8D62"/>
<path d="M498.75 142.82H540.25M498.75 138.62v8.4M540.25 138.62v8.4" stroke="#FC8D62" stroke-width="1.3" fill="none"/>
<circle cx="519.25" cy="142.82" r="3.35" fill="#FC8D62"/>
<path d="M495.75 153.32H540.25M495.75 149.12v8.4M540.25 149.12v8.4" stroke="#66C2A5" stroke-width="1.3" fill="none"/>
<circle cx="518.00" cy="153.32" r="3.35" fill="#66C2A5"/>
<path d="M505.50 163.82H527.50M505.50 159.62v8.4M527.50 159.62v8.4" stroke="#FC8D62" stroke-width="1.3" fill="none"/>
<circle cx="516.50" cy="163.82" r="3.35" fill="#FC8D62"/>
<path d="M487.00 174.33H542.50M487.00 170.13v8.4M542.50 170.13v8.4" stroke="#A6D854" stroke-width="1.3" fill="none"/>
<circle cx="514.75" cy="174.33" r="3.35" fill="#A6D854"/>
<path d="M493.50 184.83H534.50M493.50 180.63v8.4M534.50 180.63v8.4" stroke="#A6D854" stroke-width="1.3" fill="none"/>
<circle cx="514.00" cy="184.83" r="3.35" fill="#A6D854"/>
<path d="M503.00 195.33H524.25M503.00 191.13v8.4M524.25 191.13v8.4" stroke="#FC8D62" stroke-width="1.3" fill="none"/>
<circle cx="513.75" cy="195.33" r="3.35" fill="#FC8D62"/>
<path d="M495.25 205.83H529.75M495.25 201.63v8.4M529.75 201.63v8.4" stroke="#E78AC3" stroke-width="1.3" fill="none"/>
<circle cx="512.50" cy="205.83" r="3.35" fill="#E78AC3"/>
<path d="M478.25 216.33H545.00M478.25 212.13v8.4M545.00 212.13v8.4" stroke="#A6D854" stroke-width="1.3" fill="none"/>
<circle cx="511.75" cy="216.33" r="3.35" fill="#A6D854"/>
<path d="M483.00 226.84H540.00M483.00 222.64v8.4M540.00 222.64v8.4" stroke="#8DA0CB" stroke-width="1.3" fill="none"/>
<circle cx="511.50" cy="226.84" r="3.35" fill="#8DA0CB"/>
<path d="M475.50 237.34H546.25M475.50 233.14v8.4M546.25 233.14v8.4" stroke="#A6D854" stroke-width="1.3" fill="none"/>
<circle cx="510.75" cy="237.34" r="3.35" fill="#A6D854"/>
<path d="M488.50 247.84H532.75M488.50 243.64v8.4M532.75 243.64v8.4" stroke="#66C2A5" stroke-width="1.3" fill="none"/>
<circle cx="510.75" cy="247.84" r="3.35" fill="#66C2A5"/>
<path d="M483.00 258.34H532.25M483.00 254.14v8.4M532.25 254.14v8.4" stroke="#A6D854" stroke-width="1.3" fill="none"/>
<circle cx="507.50" cy="258.34" r="3.35" fill="#A6D854"/>
<path d="M463.00 268.85H534.50M463.00 264.65v8.4M534.50 264.65v8.4" stroke="#FC8D62" stroke-width="1.3" fill="none"/>
<circle cx="498.75" cy="268.85" r="3.35" fill="#FC8D62"/>
<path d="M478.75 279.35H516.50M478.75 275.15v8.4M516.50 275.15v8.4" stroke="#A6D854" stroke-width="1.3" fill="none"/>
<circle cx="497.75" cy="279.35" r="3.35" fill="#A6D854"/>
<path d="M474.75 289.85H518.75M474.75 285.65v8.4M518.75 285.65v8.4" stroke="#8DA0CB" stroke-width="1.3" fill="none"/>
<circle cx="497.00" cy="289.85" r="3.35" fill="#8DA0CB"/>
<path d="M476.25 300.35H511.50M476.25 296.15v8.4M511.50 296.15v8.4" stroke="#FC8D62" stroke-width="1.3" fill="none"/>
<circle cx="493.75" cy="300.35" r="3.35" fill="#FC8D62"/>
<path d="M466.25 310.85H521.75M466.25 306.65v8.4M521.75 306.65v8.4" stroke="#66C2A5" stroke-width="1.3" fill="none"/>
<circle cx="493.75" cy="310.85" r="3.35" fill="#66C2A5"/>
<path d="M475.50 321.36H498.00M475.50 317.16v8.4M498.00 317.16v8.4" stroke="#8DA0CB" stroke-width="1.3" fill="none"/>
<circle cx="486.75" cy="321.36" r="3.35" fill="#8DA0CB"/>
<path d="M467.50 331.86H503.50M467.50 327.66v8.4M503.50 327.66v8.4" stroke="#66C2A5" stroke-width="1.3" fill="none"/>
<circle cx="485.50" cy="331.86" r="3.35" fill="#66C2A5"/>
<path d="M441.50 342.36H527.50M441.50 338.16v8.4M527.50 338.16v8.4" stroke="#A6D854" stroke-width="1.3" fill="none"/>
<circle cx="484.25" cy="342.36" r="3.35" fill="#A6D854"/>
<path d="M453.25 352.86H515.25M453.25 348.66v8.4M515.25 348.66v8.4" stroke="#E78AC3" stroke-width="1.3" fill="none"/>
<circle cx="484.00" cy="352.86" r="3.35" fill="#E78AC3"/>
<path d="M468.25 363.37H499.25M468.25 359.17v8.4M499.25 359.17v8.4" stroke="#A6D854" stroke-width="1.3" fill="none"/>
<circle cx="483.75" cy="363.37" r="3.35" fill="#A6D854"/>
<path d="M455.75 373.87H505.00M455.75 369.67v8.4M505.00 369.67v8.4" stroke="#E78AC3" stroke-width="1.3" fill="none"/>
<circle cx="480.25" cy="373.87" r="3.35" fill="#E78AC3"/>
<path d="M444.00 384.37H514.25M444.00 380.17v8.4M514.25 380.17v8.4" stroke="#66C2A5" stroke-width="1.3" fill="none"/>
<circle cx="479.25" cy="384.37" r="3.35" fill="#66C2A5"/>
<path d="M466.50 394.87H490.00M466.50 390.67v8.4M490.00 390.67v8.4" stroke="#FC8D62" stroke-width="1.3" fill="none"/>
<circle cx="478.00" cy="394.87" r="3.35" fill="#FC8D62"/>
<path d="M462.75 405.37H487.50M462.75 401.17v8.4M487.50 401.17v8.4" stroke="#E78AC3" stroke-width="1.3" fill="none"/>
<circle cx="475.25" cy="405.37" r="3.35" fill="#E78AC3"/>
<path d="M465.75 415.88H477.50M465.75 411.68v8.4M477.50 411.68v8.4" stroke="#66C2A5" stroke-width="1.3" fill="none"/>
<circle cx="471.50" cy="415.88" r="3.35" fill="#66C2A5"/>
<path d="M435.50 426.38H505.25M435.50 422.18v8.4M505.25 422.18v8.4" stroke="#66C2A5" stroke-width="1.3" fill="none"/>
<circle cx="470.00" cy="426.38" r="3.35" fill="#66C2A5"/>
<path d="M453.50 436.88H486.25M453.50 432.68v8.4M486.25 432.68v8.4" stroke="#FC8D62" stroke-width="1.3" fill="none"/>
<circle cx="469.75" cy="436.88" r="3.35" fill="#FC8D62"/>
<path d="M435.25 447.38H502.50M435.25 443.18v8.4M502.50 443.18v8.4" stroke="#A6D854" stroke-width="1.3" fill="none"/>
<circle cx="469.00" cy="447.38" r="3.35" fill="#A6D854"/>
<path d="M454.50 457.88H481.75M454.50 453.68v8.4M481.75 453.68v8.4" stroke="#E78AC3" stroke-width="1.3" fill="none"/>
<circle cx="468.00" cy="457.88" r="3.35" fill="#E78AC3"/>
<path d="M410.50 468.39H519.75M410.50 464.19v8.4M519.75 464.19v8.4" stroke="#E78AC3" stroke-width="1.3" fill="none"/>
<circle cx="465.00" cy="468.39" r="3.35" fill="#E78AC3"/>
<path d="M391.75 478.89H532.50M391.75 474.69v8.4M532.50 474.69v8.4" stroke="#E78AC3" stroke-width="1.3" fill="none"/>
<circle cx="462.00" cy="478.89" r="3.35" fill="#E78AC3"/>
<path d="M445.25 489.39H477.25M445.25 485.19v8.4M477.25 485.19v8.4" stroke="#E78AC3" stroke-width="1.3" fill="none"/>
<circle cx="461.25" cy="489.39" r="3.35" fill="#E78AC3"/>
<path d="M402.50 499.89H501.75M402.50 495.69v8.4M501.75 495.69v8.4" stroke="#E78AC3" stroke-width="1.3" fill="none"/>
<circle cx="452.00" cy="499.89" r="3.35" fill="#E78AC3"/>
<path d="M432.75 510.40H464.50M432.75 506.20v8.4M464.50 506.20v8.4" stroke="#FC8D62" stroke-width="1.3" fill="none"/>
<circle cx="448.75" cy="510.40" r="3.35" fill="#FC8D62"/>
<path d="M423.25 520.90H455.25M423.25 516.70v8.4M455.25 516.70v8.4" stroke="#8DA0CB" stroke-width="1.3" fill="none"/>
<circle cx="439.00" cy="520.90" r="3.35" fill="#8DA0CB"/>
<path d="M390.50 531.40H485.00M390.50 527.20v8.4M485.00 527.20v8.4" stroke="#8DA0CB" stroke-width="1.3" fill="none"/>
<circle cx="437.75" cy="531.40" r="3.35" fill="#8DA0CB"/>
<path d="M379.25 18.9V560.15H640" fill="none" stroke="#222" stroke-width="1.8"/>
<g stroke="#222" stroke-width="1.35">
<line x1="374.6" x2="379.3" y1="48.30" y2="48.30"/>
<line x1="374.6" x2="379.3" y1="58.80" y2="58.80"/>
<line x1="374.6" x2="379.3" y1="69.30" y2="69.30"/>
<line x1="374.6" x2="379.3" y1="79.81" y2="79.81"/>
<line x1="374.6" x2="379.3" y1="90.31" y2="90.31"/>
<line x1="374.6" x2="379.3" y1="100.81" y2="100.81"/>
<line x1="374.6" x2="379.3" y1="111.31" y2="111.31"/>
<line x1="374.6" x2="379.3" y1="121.82" y2="121.82"/>
<line x1="374.6" x2="379.3" y1="132.32" y2="132.32"/>
<line x1="374.6" x2="379.3" y1="142.82" y2="142.82"/>
<line x1="374.6" x2="379.3" y1="153.32" y2="153.32"/>
<line x1="374.6" x2="379.3" y1="163.82" y2="163.82"/>
<line x1="374.6" x2="379.3" y1="174.33" y2="174.33"/>
<line x1="374.6" x2="379.3" y1="184.83" y2="184.83"/>
<line x1="374.6" x2="379.3" y1="195.33" y2="195.33"/>
<line x1="374.6" x2="379.3" y1="205.83" y2="205.83"/>
<line x1="374.6" x2="379.3" y1="216.33" y2="216.33"/>
<line x1="374.6" x2="379.3" y1="226.84" y2="226.84"/>
<line x1="374.6" x2="379.3" y1="237.34" y2="237.34"/>
<line x1="374.6" x2="379.3" y1="247.84" y2="247.84"/>
<line x1="374.6" x2="379.3" y1="258.34" y2="258.34"/>
<line x1="374.6" x2="379.3" y1="268.85" y2="268.85"/>
<line x1="374.6" x2="379.3" y1="279.35" y2="279.35"/>
<line x1="374.6" x2="379.3" y1="289.85" y2="289.85"/>
<line x1="374.6" x2="379.3" y1="300.35" y2="300.35"/>
<line x1="374.6" x2="379.3" y1="310.85" y2="310.85"/>
<line x1="374.6" x2="379.3" y1="321.36" y2="321.36"/>
<line x1="374.6" x2="379.3" y1="331.86" y2="331.86"/>
<line x1="374.6" x2="379.3" y1="342.36" y2="342.36"/>
<line x1="374.6" x2="379.3" y1="352.86" y2="352.86"/>
<line x1="374.6" x2="379.3" y1="363.37" y2="363.37"/>
<line x1="374.6" x2="379.3" y1="373.87" y2="373.87"/>
<line x1="374.6" x2="379.3" y1="384.37" y2="384.37"/>
<line x1="374.6" x2="379.3" y1="394.87" y2="394.87"/>
<line x1="374.6" x2="379.3" y1="405.37" y2="405.37"/>
<line x1="374.6" x2="379.3" y1="415.88" y2="415.88"/>
<line x1="374.6" x2="379.3" y1="426.38" y2="426.38"/>
<line x1="374.6" x2="379.3" y1="436.88" y2="436.88"/>
<line x1="374.6" x2="379.3" y1="447.38" y2="447.38"/>
<line x1="374.6" x2="379.3" y1="457.88" y2="457.88"/>
<line x1="374.6" x2="379.3" y1="468.39" y2="468.39"/>
<line x1="374.6" x2="379.3" y1="478.89" y2="478.89"/>
<line x1="374.6" x2="379.3" y1="489.39" y2="489.39"/>
<line x1="374.6" x2="379.3" y1="499.89" y2="499.89"/>
<line x1="374.6" x2="379.3" y1="510.40" y2="510.40"/>
<line x1="374.6" x2="379.3" y1="520.90" y2="520.90"/>
<line x1="374.6" x2="379.3" y1="531.40" y2="531.40"/>
<line y1="560.2" y2="564.8" x1="395.5" x2="395.5"/>
<line y1="560.2" y2="564.8" x1="454.2" x2="454.2"/>
<line y1="560.2" y2="564.8" x1="512.9" x2="512.9"/>
<line y1="560.2" y2="564.8" x1="571.6" x2="571.6"/>
<line y1="560.2" y2="564.8" x1="630.3" x2="630.3"/>
</g>
<text class="tb" x="371.4" y="52.20" text-anchor="end">Benin</text>
<text class="tb" x="371.4" y="62.70" text-anchor="end">Comoros</text>
<text class="tb" x="371.4" y="73.20" text-anchor="end">Cote d`Ivoire</text>
<text class="tb" x="371.4" y="83.71" text-anchor="end">Rwanda</text>
<text class="tb" x="371.4" y="94.21" text-anchor="end">Tanzania</text>
<text class="tb" x="371.4" y="104.71" text-anchor="end">Ghana</text>
<text class="tb" x="371.4" y="115.21" text-anchor="end">Nigeria</text>
<text class="tb" x="371.4" y="125.72" text-anchor="end">Egypt</text>
<text class="tb" x="371.4" y="136.22" text-anchor="end">Mauritius</text>
<text class="tb" x="371.4" y="146.72" text-anchor="end">Kenya</text>
<text class="tb" x="371.4" y="157.22" text-anchor="end">Burundi</text>
<text class="tb" x="371.4" y="167.72" text-anchor="end">Uganda</text>
<text class="tb" x="371.4" y="178.23" text-anchor="end">Mali</text>
<text class="tb" x="371.4" y="188.73" text-anchor="end">Niger</text>
<text class="tb" x="371.4" y="199.23" text-anchor="end">Ethiopia</text>
<text class="tb" x="371.4" y="209.73" text-anchor="end">Malawi</text>
<text class="tb" x="371.4" y="220.23" text-anchor="end">Togo</text>
<text class="tb" x="371.4" y="230.74" text-anchor="end">Libya</text>
<text class="tb" x="371.4" y="241.24" text-anchor="end">Guinea</text>
<text class="tb" x="371.4" y="251.74" text-anchor="end">Central Africa Rep.</text>
<text class="tb" x="371.4" y="262.24" text-anchor="end">Sierra Leone</text>
<text class="tb" x="371.4" y="272.75" text-anchor="end">South Sudan</text>
<text class="tb" x="371.4" y="283.25" text-anchor="end">Burkina Faso</text>
<text class="tb" x="371.4" y="293.75" text-anchor="end">Tunisia</text>
<text class="tb" x="371.4" y="304.25" text-anchor="end">Madagascar</text>
<text class="tb" x="371.4" y="314.75" text-anchor="end">Gabon</text>
<text class="tb" x="371.4" y="325.26" text-anchor="end">Algeria</text>
<text class="tb" x="371.4" y="335.76" text-anchor="end">Cameroon</text>
<text class="tb" x="371.4" y="346.26" text-anchor="end">Liberia</text>
<text class="tb" x="371.4" y="356.76" text-anchor="end">Zimbabwe</text>
<text class="tb" x="371.4" y="367.27" text-anchor="end">Senegal</text>
<text class="tb" x="371.4" y="377.77" text-anchor="end">Mozambique</text>
<text class="tb" x="371.4" y="388.27" text-anchor="end">Chad</text>
<text class="tb" x="371.4" y="398.77" text-anchor="end">Sudan</text>
<text class="tb" x="371.4" y="409.27" text-anchor="end">Angola</text>
<text class="tb" x="371.4" y="419.78" text-anchor="end">Dem.Rep.Congo</text>
<text class="tb" x="371.4" y="430.28" text-anchor="end">Congo</text>
<text class="tb" x="371.4" y="440.78" text-anchor="end">Somalia</text>
<text class="tb" x="371.4" y="451.28" text-anchor="end">Guinea-Bissau</text>
<text class="tb" x="371.4" y="461.78" text-anchor="end">South Africa</text>
<text class="tb" x="371.4" y="472.29" text-anchor="end">Lesotho</text>
<text class="tb" x="371.4" y="482.79" text-anchor="end">Namibia</text>
<text class="tb" x="371.4" y="493.29" text-anchor="end">Zambia</text>
<text class="tb" x="371.4" y="503.79" text-anchor="end">Botswana</text>
<text class="tb" x="371.4" y="514.30" text-anchor="end">Eritrea</text>
<text class="tb" x="371.4" y="524.80" text-anchor="end">Morocco</text>
<text class="tb" x="371.4" y="535.30" text-anchor="end">Mauritania</text>
<text class="tx" x="395.5" y="575.9" text-anchor="middle">0.50</text>
<text class="tx" x="454.2" y="575.9" text-anchor="middle">0.75</text>
<text class="tx" x="512.9" y="575.9" text-anchor="middle">1.00</text>
<text class="tx" x="571.6" y="575.9" text-anchor="middle">1.25</text>
<text class="tx" x="630.3" y="575.9" text-anchor="middle">1.50</text>
<text class="ti" style="font-size:13.6px" x="509.7" y="592.4" text-anchor="middle">Scaling exponent <tspan font-family="'Liberation Serif', serif">(β)</tspan> in 2020</text>
<text class="pl" x="303" y="33.5">b</text>
<line x1="529.5" x2="542.6" y1="475.20" y2="475.20" stroke="#66C2A5" stroke-width="1.2"/>
<circle cx="536.1" cy="475.20" r="3.35" fill="#66C2A5"/>
<text x="552.7" y="479.30" font-size="11.55" fill="#000">Central Africa</text>
<line x1="529.5" x2="542.6" y1="492.25" y2="492.25" stroke="#FC8D62" stroke-width="1.2"/>
<circle cx="536.1" cy="492.25" r="3.35" fill="#FC8D62"/>
<text x="552.7" y="496.35" font-size="11.55" fill="#000">Eastern Africa</text>
<line x1="529.5" x2="542.6" y1="509.30" y2="509.30" stroke="#8DA0CB" stroke-width="1.2"/>
<circle cx="536.1" cy="509.30" r="3.35" fill="#8DA0CB"/>
<text x="552.7" y="513.40" font-size="11.55" fill="#000">Northern Africa</text>
<line x1="529.5" x2="542.6" y1="526.35" y2="526.35" stroke="#E78AC3" stroke-width="1.2"/>
<circle cx="536.1" cy="526.35" r="3.35" fill="#E78AC3"/>
<text x="552.7" y="530.45" font-size="11.55" fill="#000">Southern Africa</text>
<line x1="529.5" x2="542.6" y1="543.40" y2="543.40" stroke="#A6D854" stroke-width="1.2"/>
<circle cx="536.1" cy="543.40" r="3.35" fill="#A6D854"/>
<text x="552.7" y="547.50" font-size="11.55" fill="#000">Western Africa</text>
</g>
</svg></body></html>
